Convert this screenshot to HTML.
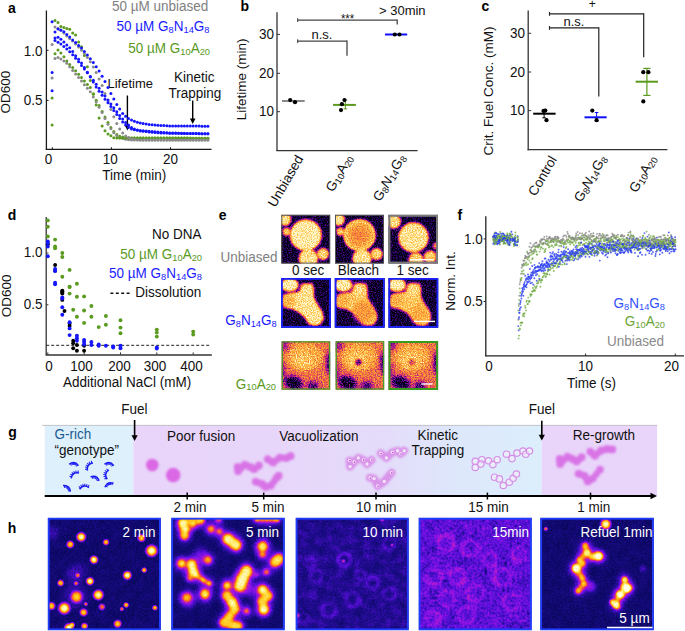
<!DOCTYPE html>
<html><head><meta charset="utf-8"><title>Figure</title>
<style>html,body{margin:0;padding:0;background:#fff;overflow:hidden}svg{display:block}text{font-family:"Liberation Sans",sans-serif}</style>
</head><body>
<svg width="685" height="631" viewBox="0 0 685 631" font-family="Liberation Sans, sans-serif"><defs><filter id="nzP" color-interpolation-filters="sRGB" x="0" y="0" width="1" height="1"><feTurbulence type="fractalNoise" baseFrequency="0.75" numOctaves="2" seed="2"/><feColorMatrix values="0 0 0 0 0.32  0 0 0 0 0.04  0 0 0 0 0.78  0 0 0 3.2 -1.3"/></filter>
<filter id="nzO" color-interpolation-filters="sRGB" x="0" y="0" width="1" height="1"><feTurbulence type="fractalNoise" baseFrequency="0.8" numOctaves="2" seed="9"/><feColorMatrix values="0 0 0 0 1  0 0 0 0 0.62  0 0 0 0 0.22  0 0 0 2.8 -1.2"/></filter>
<filter id="nzH" color-interpolation-filters="sRGB" x="0" y="0" width="1" height="1"><feTurbulence type="fractalNoise" baseFrequency="0.6" numOctaves="2" seed="4"/><feColorMatrix values="0 0 0 0 0.14  0 0 0 0 0.05  0 0 0 0 0.62  0 0 0 2.4 -1.0"/></filter>
<filter id="nzD" color-interpolation-filters="sRGB" x="0" y="0" width="1" height="1"><feTurbulence type="fractalNoise" baseFrequency="0.1" numOctaves="3" seed="5"/><feColorMatrix values="0 0 0 0 0.05  0 0 0 0 0.02  0 0 0 0 0.25  0 0 0 3.0 -1.2"/></filter>
<filter id="nzM" color-interpolation-filters="sRGB" x="0" y="0" width="1" height="1"><feTurbulence type="fractalNoise" baseFrequency="0.09" numOctaves="3" seed="11"/><feColorMatrix values="0 0 0 0 0.34  0 0 0 0 0.08  0 0 0 0 0.88  0 0 0 3.0 -1.2"/></filter>
<filter id="nzM2" color-interpolation-filters="sRGB" x="0" y="0" width="1" height="1"><feTurbulence type="fractalNoise" baseFrequency="0.22" numOctaves="3" seed="21"/><feColorMatrix values="0 0 0 0 0.72  0 0 0 0 0.08  0 0 0 0 0.82  0 0 0 3.4 -1.45"/></filter>
<filter id="bl1" color-interpolation-filters="sRGB" filterUnits="userSpaceOnUse" x="0" y="0" width="685" height="631"><feGaussianBlur stdDeviation="1.1"/></filter>
<filter id="bl2" color-interpolation-filters="sRGB" filterUnits="userSpaceOnUse" x="0" y="0" width="685" height="631"><feGaussianBlur stdDeviation="1.8"/></filter>
<filter id="bl05" color-interpolation-filters="sRGB" filterUnits="userSpaceOnUse" x="0" y="0" width="685" height="631"><feGaussianBlur stdDeviation="0.6"/></filter>
<radialGradient id="halo"><stop offset="0" stop-color="#d83070" stop-opacity="0.9"/><stop offset="0.5" stop-color="#9818c0" stop-opacity="0.6"/><stop offset="1" stop-color="#4010b0" stop-opacity="0"/></radialGradient>
<radialGradient id="coreW"><stop offset="0" stop-color="#fffce8"/><stop offset="0.35" stop-color="#fff080"/><stop offset="0.62" stop-color="#ffa820"/><stop offset="0.85" stop-color="#f06030" stop-opacity="0.7"/><stop offset="1" stop-color="#e03a58" stop-opacity="0"/></radialGradient>
<radialGradient id="coreO"><stop offset="0" stop-color="#ffd848"/><stop offset="0.45" stop-color="#ff9418"/><stop offset="0.8" stop-color="#f05030" stop-opacity="0.7"/><stop offset="1" stop-color="#e03a58" stop-opacity="0"/></radialGradient>
<radialGradient id="coreR"><stop offset="0" stop-color="#ff5a30"/><stop offset="0.6" stop-color="#d02070" stop-opacity="0.7"/><stop offset="1" stop-color="#a018c0" stop-opacity="0"/></radialGradient>
<radialGradient id="fire"><stop offset="0" stop-color="#fffce8"/><stop offset="0.3" stop-color="#fff080"/><stop offset="0.52" stop-color="#ffa820"/><stop offset="0.7" stop-color="#f05040"/><stop offset="0.84" stop-color="#a818b8" stop-opacity="0.6"/><stop offset="1" stop-color="#4010b0" stop-opacity="0"/></radialGradient>
<radialGradient id="fireO"><stop offset="0" stop-color="#ffd848"/><stop offset="0.38" stop-color="#ff9418"/><stop offset="0.66" stop-color="#e03a58"/><stop offset="0.84" stop-color="#9014c0" stop-opacity="0.55"/><stop offset="1" stop-color="#4010b0" stop-opacity="0"/></radialGradient>
<radialGradient id="fireR"><stop offset="0" stop-color="#ff5a20"/><stop offset="0.5" stop-color="#c01870"/><stop offset="1" stop-color="#6010b0" stop-opacity="0"/></radialGradient>
<radialGradient id="fireP"><stop offset="0" stop-color="#7a18d0" stop-opacity="0.55"/><stop offset="1" stop-color="#6010b0" stop-opacity="0"/></radialGradient>
<radialGradient id="eb"><stop offset="0" stop-color="#fff8d8"/><stop offset="0.8" stop-color="#fff0b8"/><stop offset="0.89" stop-color="#fcc474"/><stop offset="0.96" stop-color="#b05040"/><stop offset="1" stop-color="#3a0a40" stop-opacity="0"/></radialGradient>
<radialGradient id="ebl"><stop offset="0" stop-color="#e87a38"/><stop offset="0.45" stop-color="#f09a50"/><stop offset="0.72" stop-color="#ffe4a8"/><stop offset="0.86" stop-color="#f6b45a"/><stop offset="0.95" stop-color="#b04a40"/><stop offset="1" stop-color="#3a0a40" stop-opacity="0"/></radialGradient>
<radialGradient id="pk"><stop offset="0" stop-color="#d860e2"/><stop offset="0.6" stop-color="#dc70e6" stop-opacity="0.9"/><stop offset="1" stop-color="#e4a0f0" stop-opacity="0"/></radialGradient>
<radialGradient id="rg"><stop offset="0" stop-color="#f4e6fa"/><stop offset="0.4" stop-color="#ecd0f4"/><stop offset="0.62" stop-color="#d880e2"/><stop offset="0.82" stop-color="#dc90e6" stop-opacity="0.8"/><stop offset="1" stop-color="#e2a8ee" stop-opacity="0"/></radialGradient>
<linearGradient id="gband" x1="0" x2="1" y1="0" y2="0"><stop offset="0" stop-color="#e9d4fa"/><stop offset="0.35" stop-color="#e8d6fa"/><stop offset="0.62" stop-color="#e4dcfa"/><stop offset="0.8" stop-color="#dde8fb"/><stop offset="1" stop-color="#dceefc"/></linearGradient>
<filter id="blg" color-interpolation-filters="sRGB" filterUnits="userSpaceOnUse" x="0" y="0" width="685" height="631"><feGaussianBlur stdDeviation="1.3"/></filter>
<filter id="lutH1" color-interpolation-filters="sRGB" x="0" y="0" width="1" height="1"><feTurbulence type="fractalNoise" baseFrequency="0.6" numOctaves="2" seed="3" result="t"/><feColorMatrix in="t" values="1 0 0 0 0  1 0 0 0 0  1 0 0 0 0  0 0 0 0 1" result="tg"/><feComposite in="SourceGraphic" in2="tg" operator="arithmetic" k1="0" k2="1" k3="0.14" k4="-0.070" result="s"/><feTurbulence type="fractalNoise" baseFrequency="0.1" numOctaves="3" seed="5" result="t2"/><feColorMatrix in="t2" values="1 0 0 0 0  1 0 0 0 0  1 0 0 0 0  0 0 0 0 1" result="tg2"/><feComposite in="s" in2="tg2" operator="arithmetic" k1="0" k2="1" k3="0.06" k4="-0.030" result="s"/><feComponentTransfer in="s"><feFuncR type="table" tableValues="0.000 0.020 0.120 0.350 0.600 0.820 0.960 1.000 1.000 1.000 1.000"/><feFuncG type="table" tableValues="0.000 0.030 0.045 0.060 0.080 0.140 0.350 0.580 0.780 0.930 1.000"/><feFuncB type="table" tableValues="0.000 0.330 0.550 0.860 0.900 0.600 0.240 0.050 0.100 0.420 0.960"/></feComponentTransfer></filter>
<filter id="lutH2" color-interpolation-filters="sRGB" x="0" y="0" width="1" height="1"><feTurbulence type="fractalNoise" baseFrequency="0.6" numOctaves="2" seed="13" result="t"/><feColorMatrix in="t" values="1 0 0 0 0  1 0 0 0 0  1 0 0 0 0  0 0 0 0 1" result="tg"/><feComposite in="SourceGraphic" in2="tg" operator="arithmetic" k1="0" k2="1" k3="0.14" k4="-0.070" result="s"/><feTurbulence type="fractalNoise" baseFrequency="0.1" numOctaves="3" seed="15" result="t2"/><feColorMatrix in="t2" values="1 0 0 0 0  1 0 0 0 0  1 0 0 0 0  0 0 0 0 1" result="tg2"/><feComposite in="s" in2="tg2" operator="arithmetic" k1="0" k2="1" k3="0.06" k4="-0.030" result="s"/><feComponentTransfer in="s"><feFuncR type="table" tableValues="0.000 0.020 0.120 0.350 0.600 0.820 0.960 1.000 1.000 1.000 1.000"/><feFuncG type="table" tableValues="0.000 0.030 0.045 0.060 0.080 0.140 0.350 0.580 0.780 0.930 1.000"/><feFuncB type="table" tableValues="0.000 0.330 0.550 0.860 0.900 0.600 0.240 0.050 0.100 0.420 0.960"/></feComponentTransfer></filter>
<filter id="lutH3" color-interpolation-filters="sRGB" x="0" y="0" width="1" height="1"><feTurbulence type="fractalNoise" baseFrequency="0.6" numOctaves="2" seed="23" result="t"/><feColorMatrix in="t" values="1 0 0 0 0  1 0 0 0 0  1 0 0 0 0  0 0 0 0 1" result="tg"/><feComposite in="SourceGraphic" in2="tg" operator="arithmetic" k1="0" k2="1" k3="0.12" k4="-0.060" result="s"/><feTurbulence type="fractalNoise" baseFrequency="0.11" numOctaves="3" seed="25" result="t2"/><feColorMatrix in="t2" values="1 0 0 0 0  1 0 0 0 0  1 0 0 0 0  0 0 0 0 1" result="tg2"/><feComposite in="s" in2="tg2" operator="arithmetic" k1="0" k2="1" k3="0.14" k4="-0.070" result="s"/><feComponentTransfer in="s"><feFuncR type="table" tableValues="0.000 0.020 0.120 0.350 0.600 0.820 0.960 1.000 1.000 1.000 1.000"/><feFuncG type="table" tableValues="0.000 0.030 0.045 0.060 0.080 0.140 0.350 0.580 0.780 0.930 1.000"/><feFuncB type="table" tableValues="0.000 0.330 0.550 0.860 0.900 0.600 0.240 0.050 0.100 0.420 0.960"/></feComponentTransfer></filter>
<filter id="lutH4" color-interpolation-filters="sRGB" x="0" y="0" width="1" height="1"><feTurbulence type="fractalNoise" baseFrequency="0.4" numOctaves="2" seed="33" result="t"/><feColorMatrix in="t" values="1 0 0 0 0  1 0 0 0 0  1 0 0 0 0  0 0 0 0 1" result="tg"/><feComposite in="SourceGraphic" in2="tg" operator="arithmetic" k1="0" k2="1" k3="0.26" k4="-0.130" result="s"/><feTurbulence type="fractalNoise" baseFrequency="0.09" numOctaves="3" seed="35" result="t2"/><feColorMatrix in="t2" values="1 0 0 0 0  1 0 0 0 0  1 0 0 0 0  0 0 0 0 1" result="tg2"/><feComposite in="s" in2="tg2" operator="arithmetic" k1="0" k2="1" k3="0.16" k4="-0.080" result="s"/><feComponentTransfer in="s"><feFuncR type="table" tableValues="0.000 0.020 0.120 0.350 0.600 0.820 0.960 1.000 1.000 1.000 1.000"/><feFuncG type="table" tableValues="0.000 0.030 0.045 0.060 0.080 0.140 0.350 0.580 0.780 0.930 1.000"/><feFuncB type="table" tableValues="0.000 0.330 0.550 0.860 0.900 0.600 0.240 0.050 0.100 0.420 0.960"/></feComponentTransfer></filter>
<filter id="lutH5" color-interpolation-filters="sRGB" x="0" y="0" width="1" height="1"><feTurbulence type="fractalNoise" baseFrequency="0.6" numOctaves="2" seed="43" result="t"/><feColorMatrix in="t" values="1 0 0 0 0  1 0 0 0 0  1 0 0 0 0  0 0 0 0 1" result="tg"/><feComposite in="SourceGraphic" in2="tg" operator="arithmetic" k1="0" k2="1" k3="0.14" k4="-0.070" result="s"/><feTurbulence type="fractalNoise" baseFrequency="0.1" numOctaves="3" seed="45" result="t2"/><feColorMatrix in="t2" values="1 0 0 0 0  1 0 0 0 0  1 0 0 0 0  0 0 0 0 1" result="tg2"/><feComposite in="s" in2="tg2" operator="arithmetic" k1="0" k2="1" k3="0.06" k4="-0.030" result="s"/><feComponentTransfer in="s"><feFuncR type="table" tableValues="0.000 0.020 0.120 0.350 0.600 0.820 0.960 1.000 1.000 1.000 1.000"/><feFuncG type="table" tableValues="0.000 0.030 0.045 0.060 0.080 0.140 0.350 0.580 0.780 0.930 1.000"/><feFuncB type="table" tableValues="0.000 0.330 0.550 0.860 0.900 0.600 0.240 0.050 0.100 0.420 0.960"/></feComponentTransfer></filter>
<filter id="lutE1" color-interpolation-filters="sRGB" x="0" y="0" width="1" height="1"><feTurbulence type="fractalNoise" baseFrequency="0.8" numOctaves="2" seed="51" result="t"/><feColorMatrix in="t" values="1 0 0 0 0  1 0 0 0 0  1 0 0 0 0  0 0 0 0 1" result="tg"/><feComposite in="SourceGraphic" in2="tg" operator="arithmetic" k1="0" k2="1" k3="0.6" k4="-0.300" result="s"/><feComponentTransfer in="s"><feFuncR type="table" tableValues="0.000 0.080 0.300 0.550 0.750 0.880 0.950 0.980 1.000 1.000 1.000"/><feFuncG type="table" tableValues="0.000 0.010 0.030 0.060 0.140 0.280 0.450 0.600 0.740 0.850 0.970"/><feFuncB type="table" tableValues="0.000 0.300 0.500 0.600 0.500 0.350 0.250 0.200 0.280 0.450 0.820"/></feComponentTransfer></filter>
<filter id="lutE2" color-interpolation-filters="sRGB" x="0" y="0" width="1" height="1"><feTurbulence type="fractalNoise" baseFrequency="0.8" numOctaves="2" seed="52" result="t"/><feColorMatrix in="t" values="1 0 0 0 0  1 0 0 0 0  1 0 0 0 0  0 0 0 0 1" result="tg"/><feComposite in="SourceGraphic" in2="tg" operator="arithmetic" k1="0" k2="1" k3="0.6" k4="-0.300" result="s"/><feComponentTransfer in="s"><feFuncR type="table" tableValues="0.000 0.080 0.300 0.550 0.750 0.880 0.950 0.980 1.000 1.000 1.000"/><feFuncG type="table" tableValues="0.000 0.010 0.030 0.060 0.140 0.280 0.450 0.600 0.740 0.850 0.970"/><feFuncB type="table" tableValues="0.000 0.300 0.500 0.600 0.500 0.350 0.250 0.200 0.280 0.450 0.820"/></feComponentTransfer></filter>
<filter id="lutE3" color-interpolation-filters="sRGB" x="0" y="0" width="1" height="1"><feTurbulence type="fractalNoise" baseFrequency="0.8" numOctaves="2" seed="53" result="t"/><feColorMatrix in="t" values="1 0 0 0 0  1 0 0 0 0  1 0 0 0 0  0 0 0 0 1" result="tg"/><feComposite in="SourceGraphic" in2="tg" operator="arithmetic" k1="0" k2="1" k3="0.6" k4="-0.300" result="s"/><feComponentTransfer in="s"><feFuncR type="table" tableValues="0.000 0.080 0.300 0.550 0.750 0.880 0.950 0.980 1.000 1.000 1.000"/><feFuncG type="table" tableValues="0.000 0.010 0.030 0.060 0.140 0.280 0.450 0.600 0.740 0.850 0.970"/><feFuncB type="table" tableValues="0.000 0.300 0.500 0.600 0.500 0.350 0.250 0.200 0.280 0.450 0.820"/></feComponentTransfer></filter>
<filter id="lutE4" color-interpolation-filters="sRGB" x="0" y="0" width="1" height="1"><feTurbulence type="fractalNoise" baseFrequency="0.85" numOctaves="2" seed="54" result="t"/><feColorMatrix in="t" values="1 0 0 0 0  1 0 0 0 0  1 0 0 0 0  0 0 0 0 1" result="tg"/><feComposite in="SourceGraphic" in2="tg" operator="arithmetic" k1="0" k2="1" k3="0.8" k4="-0.400" result="s"/><feComponentTransfer in="s"><feFuncR type="table" tableValues="0.000 0.080 0.300 0.550 0.750 0.880 0.950 0.980 1.000 1.000 1.000"/><feFuncG type="table" tableValues="0.000 0.010 0.030 0.060 0.140 0.280 0.450 0.600 0.740 0.850 0.970"/><feFuncB type="table" tableValues="0.000 0.300 0.500 0.600 0.500 0.350 0.250 0.200 0.280 0.450 0.820"/></feComponentTransfer></filter>
<filter id="eb1" color-interpolation-filters="sRGB" filterUnits="userSpaceOnUse" x="0" y="0" width="685" height="631"><feGaussianBlur stdDeviation="1.0"/></filter>
<filter id="eb2" color-interpolation-filters="sRGB" filterUnits="userSpaceOnUse" x="0" y="0" width="685" height="631"><feGaussianBlur stdDeviation="2.2"/></filter>
<radialGradient id="ebleach"><stop offset="0" stop-color="rgb(160,160,160)"/><stop offset="0.6" stop-color="rgb(178,178,178)"/><stop offset="0.88" stop-color="rgb(205,205,205)"/><stop offset="1" stop-color="rgb(220,220,220)"/></radialGradient>
<clipPath id="c1"><rect x="281.3" y="214.8" width="48.9" height="48.8"/></clipPath>
<clipPath id="c2"><rect x="335" y="214.8" width="48.9" height="48.8"/></clipPath>
<clipPath id="c3"><rect x="388.4" y="214.8" width="49.6" height="48.8"/></clipPath>
<clipPath id="c4"><rect x="281" y="278" width="49.9" height="49.8"/></clipPath>
<clipPath id="c5"><rect x="334.7" y="278" width="50" height="49.8"/></clipPath>
<clipPath id="c6"><rect x="388.4" y="278" width="49.9" height="49.8"/></clipPath>
<clipPath id="c7"><rect x="281.6" y="341.2" width="48.6" height="48.5"/></clipPath>
<clipPath id="c8"><rect x="335.6" y="341.2" width="48.6" height="48.5"/></clipPath>
<clipPath id="c9"><rect x="388.5" y="341" width="49.6" height="49"/></clipPath>
<radialGradient id="iW"><stop offset="0" stop-color="#fff" stop-opacity="1.0"/><stop offset="0.3" stop-color="#fff" stop-opacity="0.900"/><stop offset="0.5" stop-color="#fff" stop-opacity="0.680"/><stop offset="0.7" stop-color="#fff" stop-opacity="0.330"/><stop offset="0.85" stop-color="#fff" stop-opacity="0.120"/><stop offset="1" stop-color="#fff" stop-opacity="0"/></radialGradient>
<radialGradient id="iO"><stop offset="0" stop-color="#fff" stop-opacity="0.8"/><stop offset="0.3" stop-color="#fff" stop-opacity="0.720"/><stop offset="0.5" stop-color="#fff" stop-opacity="0.544"/><stop offset="0.7" stop-color="#fff" stop-opacity="0.264"/><stop offset="0.85" stop-color="#fff" stop-opacity="0.096"/><stop offset="1" stop-color="#fff" stop-opacity="0"/></radialGradient>
<radialGradient id="iR"><stop offset="0" stop-color="#fff" stop-opacity="0.58"/><stop offset="0.3" stop-color="#fff" stop-opacity="0.522"/><stop offset="0.5" stop-color="#fff" stop-opacity="0.394"/><stop offset="0.7" stop-color="#fff" stop-opacity="0.191"/><stop offset="0.85" stop-color="#fff" stop-opacity="0.070"/><stop offset="1" stop-color="#fff" stop-opacity="0"/></radialGradient>
<radialGradient id="iP"><stop offset="0" stop-color="#fff" stop-opacity="0.12"/><stop offset="0.3" stop-color="#fff" stop-opacity="0.108"/><stop offset="0.5" stop-color="#fff" stop-opacity="0.082"/><stop offset="0.7" stop-color="#fff" stop-opacity="0.040"/><stop offset="0.85" stop-color="#fff" stop-opacity="0.014"/><stop offset="1" stop-color="#fff" stop-opacity="0"/></radialGradient>
<radialGradient id="iM"><stop offset="0" stop-color="#fff" stop-opacity="0.36"/><stop offset="0.3" stop-color="#fff" stop-opacity="0.324"/><stop offset="0.5" stop-color="#fff" stop-opacity="0.245"/><stop offset="0.7" stop-color="#fff" stop-opacity="0.119"/><stop offset="0.85" stop-color="#fff" stop-opacity="0.043"/><stop offset="1" stop-color="#fff" stop-opacity="0"/></radialGradient>
<filter id="ib" color-interpolation-filters="sRGB" filterUnits="userSpaceOnUse" x="0" y="0" width="685" height="631"><feGaussianBlur stdDeviation="1.6"/></filter>
<filter id="ib2" color-interpolation-filters="sRGB" filterUnits="userSpaceOnUse" x="0" y="0" width="685" height="631"><feGaussianBlur stdDeviation="3"/></filter>
<clipPath id="c10"><rect x="47.8" y="517.8" width="113" height="112.4"/></clipPath>
<clipPath id="c11"><rect x="171.3" y="517.8" width="113.4" height="112.4"/></clipPath>
<clipPath id="c12"><rect x="295.7" y="517.8" width="113" height="112.4"/></clipPath>
<clipPath id="c13"><rect x="418.7" y="517.8" width="113" height="112.4"/></clipPath>
<clipPath id="c14"><rect x="540.3" y="517.8" width="113.5" height="112.4"/></clipPath></defs>
<text x="0" y="0" font-size="14" fill="#000" text-anchor="start" font-weight="bold" transform="translate(8,13.3) scale(1,1.04)" >a</text>
<text x="0" y="0" font-size="14" fill="#000" text-anchor="start" font-weight="bold" transform="translate(240.5,10.8) scale(1,1.04)" >b</text>
<text x="0" y="0" font-size="14" fill="#000" text-anchor="start" font-weight="bold" transform="translate(481.5,10.8) scale(1,1.04)" >c</text>
<text x="0" y="0" font-size="14" fill="#000" text-anchor="start" font-weight="bold" transform="translate(7.7,219.7) scale(1,1.04)" >d</text>
<text x="0" y="0" font-size="14" fill="#000" text-anchor="start" font-weight="bold" transform="translate(218.7,219.8) scale(1,1.04)" >e</text>
<text x="0" y="0" font-size="14" fill="#000" text-anchor="start" font-weight="bold" transform="translate(457.4,219.6) scale(1,1.04)" >f</text>
<text x="0" y="0" font-size="14" fill="#000" text-anchor="start" font-weight="bold" transform="translate(8.3,436.5) scale(1,1.04)" >g</text>
<text x="0" y="0" font-size="14" fill="#000" text-anchor="start" font-weight="bold" transform="translate(7.7,533) scale(1,1.04)" >h</text>
<line x1="46.4" y1="10.5" x2="46.4" y2="150" stroke="#1a1a1a" stroke-width="1.3" />
<line x1="45.8" y1="149.4" x2="211.5" y2="149.4" stroke="#1a1a1a" stroke-width="1.3" />
<line x1="46.4" y1="50.3" x2="48.6" y2="50.3" stroke="#1a1a1a" stroke-width="1" />
<line x1="46.4" y1="100.4" x2="48.6" y2="100.4" stroke="#1a1a1a" stroke-width="1" />
<line x1="52.3" y1="149.4" x2="52.3" y2="147.2" stroke="#1a1a1a" stroke-width="1" />
<line x1="111.4" y1="149.4" x2="111.4" y2="147.2" stroke="#1a1a1a" stroke-width="1" />
<line x1="170.5" y1="149.4" x2="170.5" y2="147.2" stroke="#1a1a1a" stroke-width="1" />
<text x="0" y="0" font-size="13.5" fill="#111" text-anchor="end" font-weight="normal" transform="translate(42.6,56.2) scale(1,1.04)" >1.0</text>
<text x="0" y="0" font-size="13.5" fill="#111" text-anchor="end" font-weight="normal" transform="translate(42.6,105.4) scale(1,1.04)" >0.5</text>
<text x="0" y="0" font-size="13.5" fill="#111" text-anchor="middle" font-weight="normal" transform="translate(48.6,164.2) scale(1,1.04)" >0</text>
<text x="0" y="0" font-size="13.5" fill="#111" text-anchor="middle" font-weight="normal" transform="translate(110.3,164.2) scale(1,1.04)" >10</text>
<text x="0" y="0" font-size="13.5" fill="#111" text-anchor="middle" font-weight="normal" transform="translate(170.4,164.2) scale(1,1.04)" >20</text>
<text x="0" y="0" font-size="13.5" fill="#111" text-anchor="middle" font-weight="normal" transform="translate(134.3,179.6) scale(1,1.04)" >Time (min)</text>
<text x="0" y="0" font-size="13.5" fill="#111" text-anchor="middle" font-weight="normal" transform="translate(10.4,92.1) rotate(-90)">OD600</text>
<text x="0" y="0" font-size="13.5" fill="#808080" text-anchor="end" font-weight="normal" transform="translate(208.2,10.6) scale(1,1.04)" >50 µM unbiased</text>
<text x="0" y="0" font-size="13.5" fill="#1a1aff" text-anchor="end" font-weight="normal" transform="translate(209.5,30.7) scale(1,1.04)" >50 µM G<tspan font-size="9.3" dy="1.8">8</tspan><tspan dy="-1.8">N</tspan><tspan font-size="9.3" dy="1.8">14</tspan><tspan dy="-1.8">G</tspan><tspan font-size="9.3" dy="1.8">8</tspan></text>
<text x="0" y="0" font-size="13.5" fill="#5a9a1e" text-anchor="end" font-weight="normal" transform="translate(210,53.4) scale(1,1.04)" >50 µM G<tspan font-size="9.3" dy="1.8">10</tspan><tspan dy="-1.8">A</tspan><tspan font-size="9.3" dy="1.8">20</tspan></text>
<text x="0" y="0" font-size="13" fill="#111" text-anchor="middle" font-weight="normal" transform="translate(130.2,87.7) scale(1,1.04)" >Lifetime</text>
<text x="0" y="0" font-size="13.5" fill="#111" text-anchor="middle" font-weight="normal" transform="translate(194.3,81.7) scale(1,1.04)" >Kinetic</text>
<text x="0" y="0" font-size="13.5" fill="#111" text-anchor="middle" font-weight="normal" transform="translate(194.9,97.5) scale(1,1.04)" >Trapping</text>
<line x1="127.4" y1="95.5" x2="127.4" y2="126.0" stroke="#000" stroke-width="1.4" />
<path d="M124.60000000000001,125.0 L130.20000000000002,125.0 L127.4,130.5 Z" fill="#000"/>
<line x1="192.7" y1="100.5" x2="192.7" y2="119.5" stroke="#000" stroke-width="1.4" />
<path d="M189.89999999999998,118.5 L195.5,118.5 L192.7,124 Z" fill="#000"/>
<circle cx="52.1" cy="125.1" r="1.5" fill="#5a9a1e"/>
<circle cx="55.0" cy="53.7" r="1.5" fill="#5a9a1e"/>
<circle cx="58.0" cy="50.1" r="1.5" fill="#5a9a1e"/>
<circle cx="60.9" cy="53.0" r="1.5" fill="#5a9a1e"/>
<circle cx="63.9" cy="56.7" r="1.5" fill="#5a9a1e"/>
<circle cx="66.8" cy="60.9" r="1.5" fill="#5a9a1e"/>
<circle cx="69.7" cy="64.4" r="1.5" fill="#5a9a1e"/>
<circle cx="72.7" cy="67.5" r="1.5" fill="#5a9a1e"/>
<circle cx="75.6" cy="70.7" r="1.5" fill="#5a9a1e"/>
<circle cx="78.6" cy="74.2" r="1.5" fill="#5a9a1e"/>
<circle cx="81.5" cy="77.6" r="1.5" fill="#5a9a1e"/>
<circle cx="84.4" cy="81.0" r="1.5" fill="#5a9a1e"/>
<circle cx="87.4" cy="84.4" r="1.5" fill="#5a9a1e"/>
<circle cx="90.3" cy="87.6" r="1.5" fill="#5a9a1e"/>
<circle cx="93.3" cy="93.7" r="1.5" fill="#5a9a1e"/>
<circle cx="96.2" cy="100.3" r="1.5" fill="#5a9a1e"/>
<circle cx="99.1" cy="105.6" r="1.5" fill="#5a9a1e"/>
<circle cx="102.1" cy="111.4" r="1.5" fill="#5a9a1e"/>
<circle cx="105.0" cy="117.1" r="1.5" fill="#5a9a1e"/>
<circle cx="108.0" cy="122.6" r="1.5" fill="#5a9a1e"/>
<circle cx="110.9" cy="127.4" r="1.5" fill="#5a9a1e"/>
<circle cx="113.8" cy="131.4" r="1.5" fill="#5a9a1e"/>
<circle cx="116.8" cy="134.4" r="1.5" fill="#5a9a1e"/>
<circle cx="119.7" cy="136.2" r="1.5" fill="#5a9a1e"/>
<circle cx="122.7" cy="137.1" r="1.5" fill="#5a9a1e"/>
<circle cx="125.6" cy="137.9" r="1.5" fill="#5a9a1e"/>
<circle cx="128.5" cy="138.0" r="1.5" fill="#5a9a1e"/>
<circle cx="131.5" cy="138.0" r="1.5" fill="#5a9a1e"/>
<circle cx="134.4" cy="138.0" r="1.5" fill="#5a9a1e"/>
<circle cx="137.4" cy="138.0" r="1.5" fill="#5a9a1e"/>
<circle cx="140.3" cy="138.0" r="1.5" fill="#5a9a1e"/>
<circle cx="143.2" cy="138.0" r="1.5" fill="#5a9a1e"/>
<circle cx="146.2" cy="138.0" r="1.5" fill="#5a9a1e"/>
<circle cx="149.1" cy="138.1" r="1.5" fill="#5a9a1e"/>
<circle cx="152.1" cy="138.1" r="1.5" fill="#5a9a1e"/>
<circle cx="155.0" cy="138.1" r="1.5" fill="#5a9a1e"/>
<circle cx="157.9" cy="138.1" r="1.5" fill="#5a9a1e"/>
<circle cx="160.9" cy="138.1" r="1.5" fill="#5a9a1e"/>
<circle cx="163.8" cy="138.1" r="1.5" fill="#5a9a1e"/>
<circle cx="166.8" cy="138.1" r="1.5" fill="#5a9a1e"/>
<circle cx="169.7" cy="138.1" r="1.5" fill="#5a9a1e"/>
<circle cx="172.6" cy="138.1" r="1.5" fill="#5a9a1e"/>
<circle cx="175.6" cy="138.1" r="1.5" fill="#5a9a1e"/>
<circle cx="178.5" cy="138.1" r="1.5" fill="#5a9a1e"/>
<circle cx="181.5" cy="138.1" r="1.5" fill="#5a9a1e"/>
<circle cx="184.4" cy="138.1" r="1.5" fill="#5a9a1e"/>
<circle cx="187.3" cy="138.1" r="1.5" fill="#5a9a1e"/>
<circle cx="190.3" cy="138.1" r="1.5" fill="#5a9a1e"/>
<circle cx="193.2" cy="138.2" r="1.5" fill="#5a9a1e"/>
<circle cx="196.2" cy="138.2" r="1.5" fill="#5a9a1e"/>
<circle cx="199.1" cy="138.2" r="1.5" fill="#5a9a1e"/>
<circle cx="202.0" cy="138.2" r="1.5" fill="#5a9a1e"/>
<circle cx="205.0" cy="138.2" r="1.5" fill="#5a9a1e"/>
<circle cx="207.9" cy="138.2" r="1.5" fill="#5a9a1e"/>
<circle cx="52.1" cy="78.0" r="1.5" fill="#8a8a8a"/>
<circle cx="55.0" cy="58.6" r="1.5" fill="#8a8a8a"/>
<circle cx="58.0" cy="57.4" r="1.5" fill="#8a8a8a"/>
<circle cx="60.9" cy="59.0" r="1.5" fill="#8a8a8a"/>
<circle cx="63.9" cy="61.0" r="1.5" fill="#8a8a8a"/>
<circle cx="66.8" cy="63.2" r="1.5" fill="#8a8a8a"/>
<circle cx="69.7" cy="66.8" r="1.5" fill="#8a8a8a"/>
<circle cx="72.7" cy="70.4" r="1.5" fill="#8a8a8a"/>
<circle cx="75.6" cy="73.9" r="1.5" fill="#8a8a8a"/>
<circle cx="78.6" cy="77.5" r="1.5" fill="#8a8a8a"/>
<circle cx="81.5" cy="81.1" r="1.5" fill="#8a8a8a"/>
<circle cx="84.4" cy="84.7" r="1.5" fill="#8a8a8a"/>
<circle cx="87.4" cy="88.3" r="1.5" fill="#8a8a8a"/>
<circle cx="90.3" cy="91.8" r="1.5" fill="#8a8a8a"/>
<circle cx="93.3" cy="96.9" r="1.5" fill="#8a8a8a"/>
<circle cx="96.2" cy="102.0" r="1.5" fill="#8a8a8a"/>
<circle cx="99.1" cy="107.3" r="1.5" fill="#8a8a8a"/>
<circle cx="102.1" cy="112.6" r="1.5" fill="#8a8a8a"/>
<circle cx="105.0" cy="118.4" r="1.5" fill="#8a8a8a"/>
<circle cx="108.0" cy="124.2" r="1.5" fill="#8a8a8a"/>
<circle cx="110.9" cy="128.8" r="1.5" fill="#8a8a8a"/>
<circle cx="113.8" cy="132.8" r="1.5" fill="#8a8a8a"/>
<circle cx="116.8" cy="135.6" r="1.5" fill="#8a8a8a"/>
<circle cx="119.7" cy="137.8" r="1.5" fill="#8a8a8a"/>
<circle cx="122.7" cy="138.6" r="1.5" fill="#8a8a8a"/>
<circle cx="125.6" cy="139.2" r="1.5" fill="#8a8a8a"/>
<circle cx="128.5" cy="139.7" r="1.5" fill="#8a8a8a"/>
<circle cx="131.5" cy="140.0" r="1.5" fill="#8a8a8a"/>
<circle cx="134.4" cy="140.0" r="1.5" fill="#8a8a8a"/>
<circle cx="137.4" cy="140.0" r="1.5" fill="#8a8a8a"/>
<circle cx="140.3" cy="140.0" r="1.5" fill="#8a8a8a"/>
<circle cx="143.2" cy="140.0" r="1.5" fill="#8a8a8a"/>
<circle cx="146.2" cy="140.0" r="1.5" fill="#8a8a8a"/>
<circle cx="149.1" cy="140.0" r="1.5" fill="#8a8a8a"/>
<circle cx="152.1" cy="140.0" r="1.5" fill="#8a8a8a"/>
<circle cx="155.0" cy="140.0" r="1.5" fill="#8a8a8a"/>
<circle cx="157.9" cy="140.0" r="1.5" fill="#8a8a8a"/>
<circle cx="160.9" cy="140.0" r="1.5" fill="#8a8a8a"/>
<circle cx="163.8" cy="140.0" r="1.5" fill="#8a8a8a"/>
<circle cx="166.8" cy="140.0" r="1.5" fill="#8a8a8a"/>
<circle cx="169.7" cy="140.0" r="1.5" fill="#8a8a8a"/>
<circle cx="172.6" cy="140.0" r="1.5" fill="#8a8a8a"/>
<circle cx="175.6" cy="140.0" r="1.5" fill="#8a8a8a"/>
<circle cx="178.5" cy="140.0" r="1.5" fill="#8a8a8a"/>
<circle cx="181.5" cy="140.0" r="1.5" fill="#8a8a8a"/>
<circle cx="184.4" cy="140.0" r="1.5" fill="#8a8a8a"/>
<circle cx="187.3" cy="140.0" r="1.5" fill="#8a8a8a"/>
<circle cx="190.3" cy="140.0" r="1.5" fill="#8a8a8a"/>
<circle cx="193.2" cy="140.0" r="1.5" fill="#8a8a8a"/>
<circle cx="196.2" cy="140.0" r="1.5" fill="#8a8a8a"/>
<circle cx="199.1" cy="140.0" r="1.5" fill="#8a8a8a"/>
<circle cx="202.0" cy="140.0" r="1.5" fill="#8a8a8a"/>
<circle cx="205.0" cy="140.0" r="1.5" fill="#8a8a8a"/>
<circle cx="207.9" cy="140.0" r="1.5" fill="#8a8a8a"/>
<circle cx="52.1" cy="97.9" r="1.5" fill="#5a9a1e"/>
<circle cx="55.0" cy="20.6" r="1.5" fill="#5a9a1e"/>
<circle cx="58.0" cy="22.6" r="1.5" fill="#5a9a1e"/>
<circle cx="60.9" cy="26.5" r="1.5" fill="#5a9a1e"/>
<circle cx="63.9" cy="27.5" r="1.5" fill="#5a9a1e"/>
<circle cx="66.8" cy="28.5" r="1.5" fill="#5a9a1e"/>
<circle cx="69.7" cy="29.3" r="1.5" fill="#5a9a1e"/>
<circle cx="72.7" cy="32.9" r="1.5" fill="#5a9a1e"/>
<circle cx="75.6" cy="35.1" r="1.5" fill="#5a9a1e"/>
<circle cx="78.6" cy="42.0" r="1.5" fill="#5a9a1e"/>
<circle cx="81.5" cy="46.7" r="1.5" fill="#5a9a1e"/>
<circle cx="84.4" cy="55.4" r="1.5" fill="#5a9a1e"/>
<circle cx="87.4" cy="66.7" r="1.5" fill="#5a9a1e"/>
<circle cx="90.3" cy="80.4" r="1.5" fill="#5a9a1e"/>
<circle cx="93.3" cy="94.3" r="1.5" fill="#5a9a1e"/>
<circle cx="96.2" cy="104.9" r="1.5" fill="#5a9a1e"/>
<circle cx="99.1" cy="118.1" r="1.5" fill="#5a9a1e"/>
<circle cx="102.1" cy="125.9" r="1.5" fill="#5a9a1e"/>
<circle cx="105.0" cy="130.7" r="1.5" fill="#5a9a1e"/>
<circle cx="108.0" cy="133.9" r="1.5" fill="#5a9a1e"/>
<circle cx="110.9" cy="135.8" r="1.5" fill="#5a9a1e"/>
<circle cx="113.8" cy="137.7" r="1.5" fill="#5a9a1e"/>
<circle cx="116.8" cy="138.0" r="1.5" fill="#5a9a1e"/>
<circle cx="119.7" cy="138.0" r="1.5" fill="#5a9a1e"/>
<circle cx="122.7" cy="138.0" r="1.5" fill="#5a9a1e"/>
<circle cx="125.6" cy="138.0" r="1.5" fill="#5a9a1e"/>
<circle cx="128.5" cy="138.0" r="1.5" fill="#5a9a1e"/>
<circle cx="131.5" cy="138.0" r="1.5" fill="#5a9a1e"/>
<circle cx="134.4" cy="138.0" r="1.5" fill="#5a9a1e"/>
<circle cx="137.4" cy="138.0" r="1.5" fill="#5a9a1e"/>
<circle cx="140.3" cy="138.1" r="1.5" fill="#5a9a1e"/>
<circle cx="143.2" cy="138.1" r="1.5" fill="#5a9a1e"/>
<circle cx="146.2" cy="138.1" r="1.5" fill="#5a9a1e"/>
<circle cx="149.1" cy="138.1" r="1.5" fill="#5a9a1e"/>
<circle cx="152.1" cy="138.1" r="1.5" fill="#5a9a1e"/>
<circle cx="155.0" cy="138.1" r="1.5" fill="#5a9a1e"/>
<circle cx="157.9" cy="138.1" r="1.5" fill="#5a9a1e"/>
<circle cx="160.9" cy="138.1" r="1.5" fill="#5a9a1e"/>
<circle cx="163.8" cy="138.1" r="1.5" fill="#5a9a1e"/>
<circle cx="166.8" cy="138.1" r="1.5" fill="#5a9a1e"/>
<circle cx="169.7" cy="138.1" r="1.5" fill="#5a9a1e"/>
<circle cx="172.6" cy="138.1" r="1.5" fill="#5a9a1e"/>
<circle cx="175.6" cy="138.1" r="1.5" fill="#5a9a1e"/>
<circle cx="178.5" cy="138.1" r="1.5" fill="#5a9a1e"/>
<circle cx="181.5" cy="138.1" r="1.5" fill="#5a9a1e"/>
<circle cx="184.4" cy="138.1" r="1.5" fill="#5a9a1e"/>
<circle cx="187.3" cy="138.1" r="1.5" fill="#5a9a1e"/>
<circle cx="190.3" cy="138.2" r="1.5" fill="#5a9a1e"/>
<circle cx="193.2" cy="138.2" r="1.5" fill="#5a9a1e"/>
<circle cx="196.2" cy="138.2" r="1.5" fill="#5a9a1e"/>
<circle cx="199.1" cy="138.2" r="1.5" fill="#5a9a1e"/>
<circle cx="202.0" cy="138.2" r="1.5" fill="#5a9a1e"/>
<circle cx="205.0" cy="138.2" r="1.5" fill="#5a9a1e"/>
<circle cx="207.9" cy="138.2" r="1.5" fill="#5a9a1e"/>
<circle cx="52.1" cy="44.4" r="1.5" fill="#8a8a8a"/>
<circle cx="55.0" cy="26.9" r="1.5" fill="#8a8a8a"/>
<circle cx="58.0" cy="28.5" r="1.5" fill="#8a8a8a"/>
<circle cx="60.9" cy="30.0" r="1.5" fill="#8a8a8a"/>
<circle cx="63.9" cy="33.0" r="1.5" fill="#8a8a8a"/>
<circle cx="66.8" cy="35.9" r="1.5" fill="#8a8a8a"/>
<circle cx="69.7" cy="38.5" r="1.5" fill="#8a8a8a"/>
<circle cx="72.7" cy="41.0" r="1.5" fill="#8a8a8a"/>
<circle cx="75.6" cy="43.9" r="1.5" fill="#8a8a8a"/>
<circle cx="78.6" cy="46.9" r="1.5" fill="#8a8a8a"/>
<circle cx="81.5" cy="50.2" r="1.5" fill="#8a8a8a"/>
<circle cx="84.4" cy="53.5" r="1.5" fill="#8a8a8a"/>
<circle cx="87.4" cy="57.6" r="1.5" fill="#8a8a8a"/>
<circle cx="90.3" cy="61.7" r="1.5" fill="#8a8a8a"/>
<circle cx="93.3" cy="67.1" r="1.5" fill="#8a8a8a"/>
<circle cx="96.2" cy="72.6" r="1.5" fill="#8a8a8a"/>
<circle cx="99.1" cy="79.1" r="1.5" fill="#8a8a8a"/>
<circle cx="102.1" cy="85.6" r="1.5" fill="#8a8a8a"/>
<circle cx="105.0" cy="93.6" r="1.5" fill="#8a8a8a"/>
<circle cx="108.0" cy="101.8" r="1.5" fill="#8a8a8a"/>
<circle cx="110.9" cy="109.4" r="1.5" fill="#8a8a8a"/>
<circle cx="113.8" cy="116.8" r="1.5" fill="#8a8a8a"/>
<circle cx="116.8" cy="123.4" r="1.5" fill="#8a8a8a"/>
<circle cx="119.7" cy="128.9" r="1.5" fill="#8a8a8a"/>
<circle cx="122.7" cy="133.1" r="1.5" fill="#8a8a8a"/>
<circle cx="125.6" cy="136.1" r="1.5" fill="#8a8a8a"/>
<circle cx="128.5" cy="137.6" r="1.5" fill="#8a8a8a"/>
<circle cx="131.5" cy="138.8" r="1.5" fill="#8a8a8a"/>
<circle cx="134.4" cy="139.3" r="1.5" fill="#8a8a8a"/>
<circle cx="137.4" cy="139.7" r="1.5" fill="#8a8a8a"/>
<circle cx="140.3" cy="140.0" r="1.5" fill="#8a8a8a"/>
<circle cx="143.2" cy="140.0" r="1.5" fill="#8a8a8a"/>
<circle cx="146.2" cy="140.0" r="1.5" fill="#8a8a8a"/>
<circle cx="149.1" cy="140.0" r="1.5" fill="#8a8a8a"/>
<circle cx="152.1" cy="140.0" r="1.5" fill="#8a8a8a"/>
<circle cx="155.0" cy="140.0" r="1.5" fill="#8a8a8a"/>
<circle cx="157.9" cy="140.0" r="1.5" fill="#8a8a8a"/>
<circle cx="160.9" cy="140.0" r="1.5" fill="#8a8a8a"/>
<circle cx="163.8" cy="140.0" r="1.5" fill="#8a8a8a"/>
<circle cx="166.8" cy="140.0" r="1.5" fill="#8a8a8a"/>
<circle cx="169.7" cy="140.0" r="1.5" fill="#8a8a8a"/>
<circle cx="172.6" cy="140.0" r="1.5" fill="#8a8a8a"/>
<circle cx="175.6" cy="140.0" r="1.5" fill="#8a8a8a"/>
<circle cx="178.5" cy="140.0" r="1.5" fill="#8a8a8a"/>
<circle cx="181.5" cy="140.0" r="1.5" fill="#8a8a8a"/>
<circle cx="184.4" cy="140.0" r="1.5" fill="#8a8a8a"/>
<circle cx="187.3" cy="140.0" r="1.5" fill="#8a8a8a"/>
<circle cx="190.3" cy="140.0" r="1.5" fill="#8a8a8a"/>
<circle cx="193.2" cy="140.0" r="1.5" fill="#8a8a8a"/>
<circle cx="196.2" cy="140.0" r="1.5" fill="#8a8a8a"/>
<circle cx="199.1" cy="140.0" r="1.5" fill="#8a8a8a"/>
<circle cx="202.0" cy="140.0" r="1.5" fill="#8a8a8a"/>
<circle cx="205.0" cy="140.0" r="1.5" fill="#8a8a8a"/>
<circle cx="207.9" cy="140.0" r="1.5" fill="#8a8a8a"/>
<circle cx="52.1" cy="90.7" r="1.5" fill="#1515ff"/>
<circle cx="55.0" cy="40.4" r="1.5" fill="#1515ff"/>
<circle cx="58.0" cy="42.2" r="1.5" fill="#1515ff"/>
<circle cx="60.9" cy="43.9" r="1.5" fill="#1515ff"/>
<circle cx="63.9" cy="46.4" r="1.5" fill="#1515ff"/>
<circle cx="66.8" cy="48.9" r="1.5" fill="#1515ff"/>
<circle cx="69.7" cy="51.8" r="1.5" fill="#1515ff"/>
<circle cx="72.7" cy="54.8" r="1.5" fill="#1515ff"/>
<circle cx="75.6" cy="58.2" r="1.5" fill="#1515ff"/>
<circle cx="78.6" cy="61.7" r="1.5" fill="#1515ff"/>
<circle cx="81.5" cy="65.4" r="1.5" fill="#1515ff"/>
<circle cx="84.4" cy="69.0" r="1.5" fill="#1515ff"/>
<circle cx="87.4" cy="72.7" r="1.5" fill="#1515ff"/>
<circle cx="90.3" cy="76.4" r="1.5" fill="#1515ff"/>
<circle cx="93.3" cy="80.3" r="1.5" fill="#1515ff"/>
<circle cx="96.2" cy="84.3" r="1.5" fill="#1515ff"/>
<circle cx="99.1" cy="88.2" r="1.5" fill="#1515ff"/>
<circle cx="102.1" cy="92.1" r="1.5" fill="#1515ff"/>
<circle cx="105.0" cy="96.0" r="1.5" fill="#1515ff"/>
<circle cx="108.0" cy="99.9" r="1.5" fill="#1515ff"/>
<circle cx="110.9" cy="103.9" r="1.5" fill="#1515ff"/>
<circle cx="113.8" cy="107.8" r="1.5" fill="#1515ff"/>
<circle cx="116.8" cy="111.7" r="1.5" fill="#1515ff"/>
<circle cx="119.7" cy="115.6" r="1.5" fill="#1515ff"/>
<circle cx="122.7" cy="119.1" r="1.5" fill="#1515ff"/>
<circle cx="125.6" cy="122.5" r="1.5" fill="#1515ff"/>
<circle cx="128.5" cy="125.1" r="1.5" fill="#1515ff"/>
<circle cx="131.5" cy="127.6" r="1.5" fill="#1515ff"/>
<circle cx="134.4" cy="128.9" r="1.5" fill="#1515ff"/>
<circle cx="137.4" cy="130.0" r="1.5" fill="#1515ff"/>
<circle cx="140.3" cy="131.0" r="1.5" fill="#1515ff"/>
<circle cx="143.2" cy="131.3" r="1.5" fill="#1515ff"/>
<circle cx="146.2" cy="131.6" r="1.5" fill="#1515ff"/>
<circle cx="149.1" cy="131.9" r="1.5" fill="#1515ff"/>
<circle cx="152.1" cy="132.2" r="1.5" fill="#1515ff"/>
<circle cx="155.0" cy="132.5" r="1.5" fill="#1515ff"/>
<circle cx="157.9" cy="132.8" r="1.5" fill="#1515ff"/>
<circle cx="160.9" cy="133.0" r="1.5" fill="#1515ff"/>
<circle cx="163.8" cy="133.1" r="1.5" fill="#1515ff"/>
<circle cx="166.8" cy="133.1" r="1.5" fill="#1515ff"/>
<circle cx="169.7" cy="133.2" r="1.5" fill="#1515ff"/>
<circle cx="172.6" cy="133.2" r="1.5" fill="#1515ff"/>
<circle cx="175.6" cy="133.3" r="1.5" fill="#1515ff"/>
<circle cx="178.5" cy="133.3" r="1.5" fill="#1515ff"/>
<circle cx="181.5" cy="133.4" r="1.5" fill="#1515ff"/>
<circle cx="184.4" cy="133.4" r="1.5" fill="#1515ff"/>
<circle cx="187.3" cy="133.5" r="1.5" fill="#1515ff"/>
<circle cx="190.3" cy="133.5" r="1.5" fill="#1515ff"/>
<circle cx="193.2" cy="133.6" r="1.5" fill="#1515ff"/>
<circle cx="196.2" cy="133.6" r="1.5" fill="#1515ff"/>
<circle cx="199.1" cy="133.7" r="1.5" fill="#1515ff"/>
<circle cx="202.0" cy="133.7" r="1.5" fill="#1515ff"/>
<circle cx="205.0" cy="133.8" r="1.5" fill="#1515ff"/>
<circle cx="207.9" cy="133.8" r="1.5" fill="#1515ff"/>
<circle cx="52.1" cy="72.6" r="1.5" fill="#1515ff"/>
<circle cx="55.0" cy="38.0" r="1.5" fill="#1515ff"/>
<circle cx="58.0" cy="37.3" r="1.5" fill="#1515ff"/>
<circle cx="60.9" cy="39.2" r="1.5" fill="#1515ff"/>
<circle cx="63.9" cy="42.1" r="1.5" fill="#1515ff"/>
<circle cx="66.8" cy="45.0" r="1.5" fill="#1515ff"/>
<circle cx="69.7" cy="47.8" r="1.5" fill="#1515ff"/>
<circle cx="72.7" cy="51.6" r="1.5" fill="#1515ff"/>
<circle cx="75.6" cy="55.7" r="1.5" fill="#1515ff"/>
<circle cx="78.6" cy="59.2" r="1.5" fill="#1515ff"/>
<circle cx="81.5" cy="63.0" r="1.5" fill="#1515ff"/>
<circle cx="84.4" cy="67.6" r="1.5" fill="#1515ff"/>
<circle cx="87.4" cy="72.3" r="1.5" fill="#1515ff"/>
<circle cx="90.3" cy="76.9" r="1.5" fill="#1515ff"/>
<circle cx="93.3" cy="82.0" r="1.5" fill="#1515ff"/>
<circle cx="96.2" cy="87.1" r="1.5" fill="#1515ff"/>
<circle cx="99.1" cy="91.3" r="1.5" fill="#1515ff"/>
<circle cx="102.1" cy="95.3" r="1.5" fill="#1515ff"/>
<circle cx="105.0" cy="99.2" r="1.5" fill="#1515ff"/>
<circle cx="108.0" cy="102.8" r="1.5" fill="#1515ff"/>
<circle cx="110.9" cy="106.4" r="1.5" fill="#1515ff"/>
<circle cx="113.8" cy="110.5" r="1.5" fill="#1515ff"/>
<circle cx="116.8" cy="114.5" r="1.5" fill="#1515ff"/>
<circle cx="119.7" cy="118.5" r="1.5" fill="#1515ff"/>
<circle cx="122.7" cy="121.9" r="1.5" fill="#1515ff"/>
<circle cx="125.6" cy="125.1" r="1.5" fill="#1515ff"/>
<circle cx="128.5" cy="127.4" r="1.5" fill="#1515ff"/>
<circle cx="131.5" cy="129.0" r="1.5" fill="#1515ff"/>
<circle cx="134.4" cy="129.7" r="1.5" fill="#1515ff"/>
<circle cx="137.4" cy="130.2" r="1.5" fill="#1515ff"/>
<circle cx="140.3" cy="130.5" r="1.5" fill="#1515ff"/>
<circle cx="143.2" cy="130.8" r="1.5" fill="#1515ff"/>
<circle cx="146.2" cy="131.1" r="1.5" fill="#1515ff"/>
<circle cx="149.1" cy="131.3" r="1.5" fill="#1515ff"/>
<circle cx="152.1" cy="131.6" r="1.5" fill="#1515ff"/>
<circle cx="155.0" cy="131.8" r="1.5" fill="#1515ff"/>
<circle cx="157.9" cy="132.0" r="1.5" fill="#1515ff"/>
<circle cx="160.9" cy="132.3" r="1.5" fill="#1515ff"/>
<circle cx="163.8" cy="132.5" r="1.5" fill="#1515ff"/>
<circle cx="166.8" cy="132.7" r="1.5" fill="#1515ff"/>
<circle cx="169.7" cy="133.0" r="1.5" fill="#1515ff"/>
<circle cx="172.6" cy="133.1" r="1.5" fill="#1515ff"/>
<circle cx="175.6" cy="133.1" r="1.5" fill="#1515ff"/>
<circle cx="178.5" cy="133.2" r="1.5" fill="#1515ff"/>
<circle cx="181.5" cy="133.2" r="1.5" fill="#1515ff"/>
<circle cx="184.4" cy="133.3" r="1.5" fill="#1515ff"/>
<circle cx="187.3" cy="133.4" r="1.5" fill="#1515ff"/>
<circle cx="190.3" cy="133.4" r="1.5" fill="#1515ff"/>
<circle cx="193.2" cy="133.5" r="1.5" fill="#1515ff"/>
<circle cx="196.2" cy="133.6" r="1.5" fill="#1515ff"/>
<circle cx="199.1" cy="133.6" r="1.5" fill="#1515ff"/>
<circle cx="202.0" cy="133.7" r="1.5" fill="#1515ff"/>
<circle cx="205.0" cy="133.7" r="1.5" fill="#1515ff"/>
<circle cx="207.9" cy="133.8" r="1.5" fill="#1515ff"/>
<circle cx="52.1" cy="21.8" r="1.5" fill="#1515ff"/>
<circle cx="55.0" cy="32.0" r="1.5" fill="#1515ff"/>
<circle cx="58.0" cy="29.0" r="1.5" fill="#1515ff"/>
<circle cx="60.9" cy="30.3" r="1.5" fill="#1515ff"/>
<circle cx="63.9" cy="31.7" r="1.5" fill="#1515ff"/>
<circle cx="66.8" cy="34.4" r="1.5" fill="#1515ff"/>
<circle cx="69.7" cy="37.1" r="1.5" fill="#1515ff"/>
<circle cx="72.7" cy="39.9" r="1.5" fill="#1515ff"/>
<circle cx="75.6" cy="42.6" r="1.5" fill="#1515ff"/>
<circle cx="78.6" cy="45.4" r="1.5" fill="#1515ff"/>
<circle cx="81.5" cy="48.1" r="1.5" fill="#1515ff"/>
<circle cx="84.4" cy="51.6" r="1.5" fill="#1515ff"/>
<circle cx="87.4" cy="55.1" r="1.5" fill="#1515ff"/>
<circle cx="90.3" cy="58.8" r="1.5" fill="#1515ff"/>
<circle cx="93.3" cy="62.5" r="1.5" fill="#1515ff"/>
<circle cx="96.2" cy="66.8" r="1.5" fill="#1515ff"/>
<circle cx="99.1" cy="71.1" r="1.5" fill="#1515ff"/>
<circle cx="102.1" cy="76.2" r="1.5" fill="#1515ff"/>
<circle cx="105.0" cy="81.4" r="1.5" fill="#1515ff"/>
<circle cx="108.0" cy="87.4" r="1.5" fill="#1515ff"/>
<circle cx="110.9" cy="93.6" r="1.5" fill="#1515ff"/>
<circle cx="113.8" cy="99.1" r="1.5" fill="#1515ff"/>
<circle cx="116.8" cy="104.5" r="1.5" fill="#1515ff"/>
<circle cx="119.7" cy="109.1" r="1.5" fill="#1515ff"/>
<circle cx="122.7" cy="113.5" r="1.5" fill="#1515ff"/>
<circle cx="125.6" cy="116.2" r="1.5" fill="#1515ff"/>
<circle cx="128.5" cy="118.4" r="1.5" fill="#1515ff"/>
<circle cx="131.5" cy="120.0" r="1.5" fill="#1515ff"/>
<circle cx="134.4" cy="121.3" r="1.5" fill="#1515ff"/>
<circle cx="137.4" cy="122.2" r="1.5" fill="#1515ff"/>
<circle cx="140.3" cy="123.0" r="1.5" fill="#1515ff"/>
<circle cx="143.2" cy="123.6" r="1.5" fill="#1515ff"/>
<circle cx="146.2" cy="124.1" r="1.5" fill="#1515ff"/>
<circle cx="149.1" cy="124.6" r="1.5" fill="#1515ff"/>
<circle cx="152.1" cy="124.8" r="1.5" fill="#1515ff"/>
<circle cx="155.0" cy="125.0" r="1.5" fill="#1515ff"/>
<circle cx="157.9" cy="125.2" r="1.5" fill="#1515ff"/>
<circle cx="160.9" cy="125.4" r="1.5" fill="#1515ff"/>
<circle cx="163.8" cy="125.6" r="1.5" fill="#1515ff"/>
<circle cx="166.8" cy="125.8" r="1.5" fill="#1515ff"/>
<circle cx="169.7" cy="126.0" r="1.5" fill="#1515ff"/>
<circle cx="172.6" cy="126.0" r="1.5" fill="#1515ff"/>
<circle cx="175.6" cy="126.0" r="1.5" fill="#1515ff"/>
<circle cx="178.5" cy="126.0" r="1.5" fill="#1515ff"/>
<circle cx="181.5" cy="126.1" r="1.5" fill="#1515ff"/>
<circle cx="184.4" cy="126.1" r="1.5" fill="#1515ff"/>
<circle cx="187.3" cy="126.1" r="1.5" fill="#1515ff"/>
<circle cx="190.3" cy="126.1" r="1.5" fill="#1515ff"/>
<circle cx="193.2" cy="126.1" r="1.5" fill="#1515ff"/>
<circle cx="196.2" cy="126.1" r="1.5" fill="#1515ff"/>
<circle cx="199.1" cy="126.1" r="1.5" fill="#1515ff"/>
<circle cx="202.0" cy="126.2" r="1.5" fill="#1515ff"/>
<circle cx="205.0" cy="126.2" r="1.5" fill="#1515ff"/>
<circle cx="207.9" cy="126.2" r="1.5" fill="#1515ff"/>
<line x1="277" y1="12.3" x2="277" y2="151" stroke="#333" stroke-width="1.3" />
<line x1="276.4" y1="150.6" x2="417.6" y2="150.6" stroke="#333" stroke-width="1.3" />
<line x1="277" y1="34.4" x2="280" y2="34.4" stroke="#333" stroke-width="1" />
<text x="0" y="0" font-size="13.5" fill="#111" text-anchor="end" font-weight="normal" transform="translate(273.9,39.1) scale(1,1.04)" >30</text>
<line x1="277" y1="73.3" x2="280" y2="73.3" stroke="#333" stroke-width="1" />
<text x="0" y="0" font-size="13.5" fill="#111" text-anchor="end" font-weight="normal" transform="translate(273.9,78.0) scale(1,1.04)" >20</text>
<line x1="277" y1="111.7" x2="280" y2="111.7" stroke="#333" stroke-width="1" />
<text x="0" y="0" font-size="13.5" fill="#111" text-anchor="end" font-weight="normal" transform="translate(273.9,116.4) scale(1,1.04)" >10</text>
<text x="0" y="0" font-size="13.5" fill="#111" text-anchor="middle" font-weight="normal" transform="translate(245.7,79.3) rotate(-90)">Lifetime (min)</text>
<line x1="297.7" y1="20.1" x2="397.2" y2="20.1" stroke="#444" stroke-width="1.3" />
<line x1="297.7" y1="18.2" x2="297.7" y2="22" stroke="#444" stroke-width="1.1" />
<line x1="397.2" y1="19.5" x2="397.2" y2="24.6" stroke="#444" stroke-width="1.3" />
<line x1="297.7" y1="41.2" x2="347" y2="41.2" stroke="#444" stroke-width="1.3" />
<line x1="297.7" y1="39.3" x2="297.7" y2="43.1" stroke="#444" stroke-width="1.1" />
<line x1="347" y1="40.6" x2="347" y2="55.7" stroke="#444" stroke-width="1.3" />
<text x="0" y="0" font-size="11.5" fill="#111" text-anchor="middle" font-weight="normal" transform="translate(347.6,23.2) scale(1,1.04)" >***</text>
<text x="0" y="0" font-size="13" fill="#111" text-anchor="middle" font-weight="normal" transform="translate(322,39.4) scale(1,1.04)" >n.s.</text>
<text x="0" y="0" font-size="13" fill="#111" text-anchor="start" font-weight="normal" transform="translate(379,14.9) scale(1,1.04)" >&gt; 30min</text>
<line x1="282" y1="101" x2="304.7" y2="101" stroke="#888" stroke-width="2" />
<circle cx="290.2" cy="100.1" r="2.1" fill="#000"/>
<circle cx="295.0" cy="102.2" r="2.1" fill="#000"/>
<line x1="333.1" y1="104.9" x2="355.9" y2="104.9" stroke="#5a9a1e" stroke-width="2" />
<line x1="345.4" y1="100.1" x2="345.4" y2="108.9" stroke="#5a9a1e" stroke-width="1" />
<line x1="343.6" y1="100.1" x2="347.2" y2="100.1" stroke="#5a9a1e" stroke-width="1" />
<line x1="343.6" y1="108.9" x2="347.2" y2="108.9" stroke="#5a9a1e" stroke-width="1" />
<circle cx="344.5" cy="100.1" r="2.1" fill="#000"/>
<circle cx="341.9" cy="104.2" r="2.1" fill="#000"/>
<circle cx="341.0" cy="110.1" r="2.1" fill="#000"/>
<line x1="385" y1="34.5" x2="407.2" y2="34.5" stroke="#1010ff" stroke-width="2" />
<circle cx="394.8" cy="34.5" r="2.1" fill="#000"/>
<circle cx="399.5" cy="34.5" r="2.1" fill="#000"/>
<text x="0" y="0" font-size="13.5" fill="#111" text-anchor="end" transform="translate(303.8,158.5) rotate(-60)">Unbiased</text>
<text x="0" y="0" font-size="13.5" fill="#111" text-anchor="end" transform="translate(353.1,158) rotate(-60)">G<tspan font-size="9.3" dy="1.8">10</tspan><tspan dy="-1.8">A</tspan><tspan font-size="9.3" dy="1.8">20</tspan></text>
<text x="0" y="0" font-size="13.5" fill="#111" text-anchor="end" transform="translate(405.9,157.7) rotate(-60)">G<tspan font-size="9.3" dy="1.8">8</tspan><tspan dy="-1.8"><tspan font-style="italic">N</tspan></tspan><tspan font-size="9.3" dy="1.8">14</tspan><tspan dy="-1.8">G</tspan><tspan font-size="9.3" dy="1.8">8</tspan></text>
<line x1="528.2" y1="10.5" x2="528.2" y2="150.3" stroke="#333" stroke-width="1.3" />
<line x1="527.6" y1="149.6" x2="667.4" y2="149.6" stroke="#333" stroke-width="1.3" />
<line x1="528.2" y1="33.3" x2="531.2" y2="33.3" stroke="#333" stroke-width="1" />
<text x="0" y="0" font-size="13.5" fill="#111" text-anchor="end" font-weight="normal" transform="translate(524.9,38.0) scale(1,1.04)" >30</text>
<line x1="528.2" y1="72" x2="531.2" y2="72" stroke="#333" stroke-width="1" />
<text x="0" y="0" font-size="13.5" fill="#111" text-anchor="end" font-weight="normal" transform="translate(524.9,76.7) scale(1,1.04)" >20</text>
<line x1="528.2" y1="110.6" x2="531.2" y2="110.6" stroke="#333" stroke-width="1" />
<text x="0" y="0" font-size="13.5" fill="#111" text-anchor="end" font-weight="normal" transform="translate(524.9,115.3) scale(1,1.04)" >10</text>
<text x="0" y="0" font-size="13.5" fill="#111" text-anchor="middle" font-weight="normal" transform="translate(493,91) rotate(-90)">Crit. Fuel Conc. (mM)</text>
<line x1="549.5" y1="13.8" x2="643.7" y2="13.8" stroke="#222" stroke-width="1.2" />
<line x1="549.5" y1="12" x2="549.5" y2="15.8" stroke="#222" stroke-width="1.1" />
<line x1="643.7" y1="13.2" x2="643.7" y2="57.2" stroke="#222" stroke-width="1.2" />
<line x1="549.5" y1="27.9" x2="598.8" y2="27.9" stroke="#222" stroke-width="1.2" />
<line x1="549.5" y1="26" x2="549.5" y2="29.8" stroke="#222" stroke-width="1.1" />
<line x1="598.8" y1="27.3" x2="598.8" y2="96.6" stroke="#222" stroke-width="1.2" />
<text x="0" y="0" font-size="12" fill="#111" text-anchor="middle" font-weight="normal" transform="translate(592.2,8.2) scale(1,1.04)" >+</text>
<text x="0" y="0" font-size="13" fill="#111" text-anchor="middle" font-weight="normal" transform="translate(574,25.8) scale(1,1.04)" >n.s.</text>
<line x1="533.2" y1="113.7" x2="555.6" y2="113.7" stroke="#000" stroke-width="2" />
<line x1="544.1" y1="109.4" x2="544.1" y2="117.8" stroke="#000" stroke-width="1" />
<line x1="542.3" y1="109.4" x2="545.9" y2="109.4" stroke="#000" stroke-width="1" />
<line x1="542.3" y1="117.8" x2="545.9" y2="117.8" stroke="#000" stroke-width="1" />
<circle cx="545.3" cy="110.6" r="2.1" fill="#000"/>
<circle cx="546.5" cy="120.2" r="2.1" fill="#000"/>
<circle cx="543.5" cy="111.0" r="2.1" fill="#000"/>
<line x1="584.5" y1="117.3" x2="606.7" y2="117.3" stroke="#1010ff" stroke-width="2" />
<line x1="596.6" y1="112.5" x2="596.6" y2="121.4" stroke="#1010ff" stroke-width="1" />
<line x1="594.8" y1="112.5" x2="598.4" y2="112.5" stroke="#1010ff" stroke-width="1" />
<line x1="594.8" y1="121.4" x2="598.4" y2="121.4" stroke="#1010ff" stroke-width="1" />
<circle cx="592.3" cy="110.6" r="2.1" fill="#000"/>
<circle cx="596.6" cy="120.2" r="2.1" fill="#000"/>
<line x1="635.6" y1="81.7" x2="658" y2="81.7" stroke="#5a9a1e" stroke-width="2" />
<line x1="646.9" y1="68.4" x2="646.9" y2="95.4" stroke="#5a9a1e" stroke-width="1.2" />
<line x1="643.3" y1="68.4" x2="650.5" y2="68.4" stroke="#5a9a1e" stroke-width="1.2" />
<line x1="643.3" y1="95.4" x2="650.5" y2="95.4" stroke="#5a9a1e" stroke-width="1.2" />
<circle cx="643.3" cy="72.2" r="2.1" fill="#000"/>
<circle cx="648.4" cy="72.2" r="2.1" fill="#000"/>
<circle cx="643.3" cy="101.4" r="2.1" fill="#000"/>
<text x="0" y="0" font-size="13.5" fill="#111" text-anchor="end" transform="translate(557.3,159.3) rotate(-60)">Control</text>
<text x="0" y="0" font-size="13.5" fill="#111" text-anchor="end" transform="translate(606.9,158.5) rotate(-60)">G<tspan font-size="9.3" dy="1.8">8</tspan><tspan dy="-1.8"><tspan font-style="italic">N</tspan></tspan><tspan font-size="9.3" dy="1.8">14</tspan><tspan dy="-1.8">G</tspan><tspan font-size="9.3" dy="1.8">8</tspan></text>
<text x="0" y="0" font-size="13.5" fill="#111" text-anchor="end" transform="translate(656.7,158.7) rotate(-60)">G<tspan font-size="9.3" dy="1.8">10</tspan><tspan dy="-1.8">A</tspan><tspan font-size="9.3" dy="1.8">20</tspan></text>
<line x1="46.2" y1="216.9" x2="46.2" y2="355" stroke="#333" stroke-width="1.3" />
<line x1="45.6" y1="355" x2="211.8" y2="355" stroke="#333" stroke-width="1.3" />
<line x1="46.2" y1="253" x2="48.4" y2="253" stroke="#333" stroke-width="1" />
<text x="0" y="0" font-size="13.5" fill="#111" text-anchor="end" font-weight="normal" transform="translate(42.4,257.3) scale(1,1.04)" >1.0</text>
<line x1="46.2" y1="304.8" x2="48.4" y2="304.8" stroke="#333" stroke-width="1" />
<text x="0" y="0" font-size="13.5" fill="#111" text-anchor="end" font-weight="normal" transform="translate(42.4,309.1) scale(1,1.04)" >0.5</text>
<line x1="47.8" y1="354.6" x2="47.8" y2="352.4" stroke="#333" stroke-width="1" />
<text x="0" y="0" font-size="13.5" fill="#111" text-anchor="middle" font-weight="normal" transform="translate(48.9,371) scale(1,1.04)" >0</text>
<line x1="84.2" y1="354.6" x2="84.2" y2="352.4" stroke="#333" stroke-width="1" />
<text x="0" y="0" font-size="13.5" fill="#111" text-anchor="middle" font-weight="normal" transform="translate(81.6,371) scale(1,1.04)" >100</text>
<line x1="120.5" y1="354.6" x2="120.5" y2="352.4" stroke="#333" stroke-width="1" />
<text x="0" y="0" font-size="13.5" fill="#111" text-anchor="middle" font-weight="normal" transform="translate(119.6,371) scale(1,1.04)" >200</text>
<line x1="156.8" y1="354.6" x2="156.8" y2="352.4" stroke="#333" stroke-width="1" />
<text x="0" y="0" font-size="13.5" fill="#111" text-anchor="middle" font-weight="normal" transform="translate(154.9,371) scale(1,1.04)" >300</text>
<line x1="193.2" y1="354.6" x2="193.2" y2="352.4" stroke="#333" stroke-width="1" />
<text x="0" y="0" font-size="13.5" fill="#111" text-anchor="middle" font-weight="normal" transform="translate(191.6,371) scale(1,1.04)" >400</text>
<text x="0" y="0" font-size="13.5" fill="#111" text-anchor="middle" font-weight="normal" transform="translate(127.2,387.4) scale(1,1.04)" >Additional NaCl (mM)</text>
<text x="0" y="0" font-size="13.5" fill="#111" text-anchor="middle" font-weight="normal" transform="translate(10.5,295.8) rotate(-90)">OD600</text>
<line x1="46.2" y1="345.3" x2="211" y2="345.3" stroke="#222" stroke-width="1" stroke-dasharray="3,2"/>
<text x="0" y="0" font-size="13.5" fill="#111" text-anchor="end" font-weight="normal" transform="translate(201.5,239.1) scale(1,1.04)" >No DNA</text>
<text x="0" y="0" font-size="13.5" fill="#5a9a1e" text-anchor="end" font-weight="normal" transform="translate(202,258.7) scale(1,1.04)" >50 µM G<tspan font-size="9.3" dy="1.8">10</tspan><tspan dy="-1.8">A</tspan><tspan font-size="9.3" dy="1.8">20</tspan></text>
<text x="0" y="0" font-size="13.5" fill="#1a1aff" text-anchor="end" font-weight="normal" transform="translate(202,277.7) scale(1,1.04)" >50 µM G<tspan font-size="9.3" dy="1.8">8</tspan><tspan dy="-1.8">N</tspan><tspan font-size="9.3" dy="1.8">14</tspan><tspan dy="-1.8">G</tspan><tspan font-size="9.3" dy="1.8">8</tspan></text>
<line x1="110.4" y1="293.3" x2="130" y2="293.3" stroke="#111" stroke-width="1.6" stroke-dasharray="3,2.4"/>
<text x="0" y="0" font-size="13.5" fill="#111" text-anchor="end" font-weight="normal" transform="translate(201.2,297.1) scale(1,1.04)" >Dissolution</text>
<circle cx="47.8" cy="220.4" r="1.95" fill="#5a9a1e"/>
<circle cx="47.8" cy="226.8" r="1.95" fill="#5a9a1e"/>
<circle cx="47.8" cy="236.4" r="1.95" fill="#5a9a1e"/>
<circle cx="55.1" cy="239.6" r="1.95" fill="#5a9a1e"/>
<circle cx="55.1" cy="246.5" r="1.95" fill="#5a9a1e"/>
<circle cx="55.1" cy="248.2" r="1.95" fill="#5a9a1e"/>
<circle cx="62.3" cy="253.0" r="1.95" fill="#5a9a1e"/>
<circle cx="62.3" cy="257.0" r="1.95" fill="#5a9a1e"/>
<circle cx="62.3" cy="276.8" r="1.95" fill="#5a9a1e"/>
<circle cx="69.6" cy="269.9" r="1.95" fill="#5a9a1e"/>
<circle cx="69.6" cy="286.7" r="1.95" fill="#5a9a1e"/>
<circle cx="69.6" cy="293.6" r="1.95" fill="#5a9a1e"/>
<circle cx="76.9" cy="283.8" r="1.95" fill="#5a9a1e"/>
<circle cx="76.9" cy="296.7" r="1.95" fill="#5a9a1e"/>
<circle cx="73.2" cy="309.8" r="1.95" fill="#5a9a1e"/>
<circle cx="84.1" cy="296.4" r="1.95" fill="#5a9a1e"/>
<circle cx="84.1" cy="310.5" r="1.95" fill="#5a9a1e"/>
<circle cx="84.1" cy="322.9" r="1.95" fill="#5a9a1e"/>
<circle cx="91.4" cy="306.0" r="1.95" fill="#5a9a1e"/>
<circle cx="91.4" cy="316.7" r="1.95" fill="#5a9a1e"/>
<circle cx="98.7" cy="327.1" r="1.95" fill="#5a9a1e"/>
<circle cx="105.9" cy="316.0" r="1.95" fill="#5a9a1e"/>
<circle cx="105.9" cy="324.7" r="1.95" fill="#5a9a1e"/>
<circle cx="120.5" cy="320.2" r="1.95" fill="#5a9a1e"/>
<circle cx="120.5" cy="327.6" r="1.95" fill="#5a9a1e"/>
<circle cx="120.5" cy="333.3" r="1.95" fill="#5a9a1e"/>
<circle cx="156.8" cy="329.6" r="1.95" fill="#5a9a1e"/>
<circle cx="156.8" cy="332.6" r="1.95" fill="#5a9a1e"/>
<circle cx="156.8" cy="336.6" r="1.95" fill="#5a9a1e"/>
<circle cx="193.2" cy="331.6" r="1.95" fill="#5a9a1e"/>
<circle cx="193.2" cy="334.6" r="1.95" fill="#5a9a1e"/>
<circle cx="69.6" cy="287.0" r="1.95" fill="#5a9a1e"/>
<circle cx="76.9" cy="316.7" r="1.95" fill="#5a9a1e"/>
<circle cx="47.8" cy="244.2" r="1.95" fill="#000"/>
<circle cx="55.1" cy="265.0" r="1.95" fill="#000"/>
<circle cx="55.1" cy="270.7" r="1.95" fill="#000"/>
<circle cx="62.3" cy="290.7" r="1.95" fill="#000"/>
<circle cx="62.3" cy="292.8" r="1.95" fill="#000"/>
<circle cx="64.5" cy="311.0" r="1.95" fill="#000"/>
<circle cx="69.6" cy="323.4" r="1.95" fill="#000"/>
<circle cx="69.6" cy="325.9" r="1.95" fill="#000"/>
<circle cx="73.2" cy="340.8" r="1.95" fill="#000"/>
<circle cx="73.2" cy="343.3" r="1.95" fill="#000"/>
<circle cx="73.2" cy="348.2" r="1.95" fill="#000"/>
<circle cx="76.9" cy="345.0" r="1.95" fill="#000"/>
<circle cx="76.9" cy="350.7" r="1.95" fill="#000"/>
<circle cx="84.1" cy="345.8" r="1.95" fill="#000"/>
<circle cx="84.1" cy="350.7" r="1.95" fill="#000"/>
<circle cx="62.3" cy="291.2" r="1.95" fill="#000"/>
<circle cx="62.3" cy="293.6" r="1.95" fill="#000"/>
<circle cx="62.3" cy="299.9" r="1.95" fill="#000"/>
<circle cx="47.8" cy="241.4" r="1.95" fill="#1515ff"/>
<circle cx="47.8" cy="243.0" r="1.95" fill="#1515ff"/>
<circle cx="47.8" cy="246.6" r="1.95" fill="#1515ff"/>
<circle cx="47.8" cy="256.2" r="1.95" fill="#1515ff"/>
<circle cx="55.1" cy="269.0" r="1.95" fill="#1515ff"/>
<circle cx="55.1" cy="271.0" r="1.95" fill="#1515ff"/>
<circle cx="55.1" cy="282.7" r="1.95" fill="#1515ff"/>
<circle cx="55.1" cy="284.2" r="1.95" fill="#1515ff"/>
<circle cx="62.3" cy="297.4" r="1.95" fill="#1515ff"/>
<circle cx="62.3" cy="298.6" r="1.95" fill="#1515ff"/>
<circle cx="62.3" cy="307.3" r="1.95" fill="#1515ff"/>
<circle cx="62.3" cy="314.7" r="1.95" fill="#1515ff"/>
<circle cx="69.6" cy="322.2" r="1.95" fill="#1515ff"/>
<circle cx="69.6" cy="328.4" r="1.95" fill="#1515ff"/>
<circle cx="69.6" cy="335.1" r="1.95" fill="#1515ff"/>
<circle cx="76.9" cy="335.8" r="1.95" fill="#1515ff"/>
<circle cx="76.9" cy="338.3" r="1.95" fill="#1515ff"/>
<circle cx="76.9" cy="340.8" r="1.95" fill="#1515ff"/>
<circle cx="84.1" cy="340.0" r="1.95" fill="#1515ff"/>
<circle cx="84.1" cy="342.0" r="1.95" fill="#1515ff"/>
<circle cx="84.1" cy="344.5" r="1.95" fill="#1515ff"/>
<circle cx="91.4" cy="342.0" r="1.95" fill="#1515ff"/>
<circle cx="91.4" cy="345.0" r="1.95" fill="#1515ff"/>
<circle cx="98.7" cy="344.5" r="1.95" fill="#1515ff"/>
<circle cx="98.7" cy="345.8" r="1.95" fill="#1515ff"/>
<circle cx="105.9" cy="345.8" r="1.95" fill="#1515ff"/>
<circle cx="113.2" cy="346.5" r="1.95" fill="#1515ff"/>
<circle cx="113.2" cy="347.5" r="1.95" fill="#1515ff"/>
<circle cx="120.5" cy="345.8" r="1.95" fill="#1515ff"/>
<circle cx="120.5" cy="348.2" r="1.95" fill="#1515ff"/>
<circle cx="156.8" cy="347.5" r="1.95" fill="#1515ff"/>
<circle cx="156.8" cy="348.5" r="1.95" fill="#1515ff"/>
<text x="0" y="0" font-size="13.5" fill="#808080" text-anchor="end" font-weight="normal" transform="translate(277.6,262) scale(1,1.04)" >Unbiased</text>
<text x="0" y="0" font-size="13.5" fill="#1a1aff" text-anchor="end" font-weight="normal" transform="translate(276.7,325.3) scale(1,1.04)" >G<tspan font-size="9.3" dy="1.8">8</tspan><tspan dy="-1.8">N</tspan><tspan font-size="9.3" dy="1.8">14</tspan><tspan dy="-1.8">G</tspan><tspan font-size="9.3" dy="1.8">8</tspan></text>
<text x="0" y="0" font-size="13.5" fill="#5a9a1e" text-anchor="end" font-weight="normal" transform="translate(276,388.5) scale(1,1.04)" >G<tspan font-size="9.3" dy="1.8">10</tspan><tspan dy="-1.8">A</tspan><tspan font-size="9.3" dy="1.8">20</tspan></text>
<text x="0" y="0" font-size="13.5" fill="#111" text-anchor="middle" font-weight="normal" transform="translate(308.2,274.5) scale(1,1.04)" >0 sec</text>
<text x="0" y="0" font-size="13.5" fill="#111" text-anchor="middle" font-weight="normal" transform="translate(358.5,274.5) scale(1,1.04)" >Bleach</text>
<text x="0" y="0" font-size="13.5" fill="#111" text-anchor="middle" font-weight="normal" transform="translate(412.7,274.5) scale(1,1.04)" >1 sec</text>
<line x1="485.8" y1="216.3" x2="485.8" y2="356.3" stroke="#222" stroke-width="1.3" />
<line x1="485.2" y1="355.8" x2="684" y2="355.8" stroke="#222" stroke-width="1.3" />
<line x1="485.8" y1="238.9" x2="483.6" y2="238.9" stroke="#222" stroke-width="1" />
<text x="0" y="0" font-size="13.5" fill="#111" text-anchor="end" font-weight="normal" transform="translate(482.8,243.70000000000002) scale(1,1.04)" >1.0</text>
<line x1="485.8" y1="301.5" x2="483.6" y2="301.5" stroke="#222" stroke-width="1" />
<text x="0" y="0" font-size="13.5" fill="#111" text-anchor="end" font-weight="normal" transform="translate(482.8,306.3) scale(1,1.04)" >0.5</text>
<line x1="585.6" y1="355.8" x2="585.6" y2="353.6" stroke="#222" stroke-width="1" />
<line x1="675.3" y1="355.8" x2="675.3" y2="353.6" stroke="#222" stroke-width="1" />
<text x="0" y="0" font-size="13.5" fill="#111" text-anchor="middle" font-weight="normal" transform="translate(489,371.3) scale(1,1.04)" >0</text>
<text x="0" y="0" font-size="13.5" fill="#111" text-anchor="middle" font-weight="normal" transform="translate(585.5,371.3) scale(1,1.04)" >10</text>
<text x="0" y="0" font-size="13.5" fill="#111" text-anchor="middle" font-weight="normal" transform="translate(671.5,371.3) scale(1,1.04)" >20</text>
<text x="0" y="0" font-size="13.5" fill="#111" text-anchor="middle" font-weight="normal" transform="translate(591.5,387.6) scale(1,1.04)" >Time (s)</text>
<text x="0" y="0" font-size="13.5" fill="#111" text-anchor="middle" font-weight="normal" transform="translate(454.5,281) rotate(-90)">Norm. Int.</text>
<text x="0" y="0" font-size="13.5" fill="#3050ff" text-anchor="end" font-weight="normal" transform="translate(665,307.8) scale(1,1.04)" >G<tspan font-size="9.3" dy="1.8">8</tspan><tspan dy="-1.8">N</tspan><tspan font-size="9.3" dy="1.8">14</tspan><tspan dy="-1.8">G</tspan><tspan font-size="9.3" dy="1.8">8</tspan></text>
<text x="0" y="0" font-size="13.5" fill="#6aa336" text-anchor="end" font-weight="normal" transform="translate(665,326.3) scale(1,1.04)" >G<tspan font-size="9.3" dy="1.8">10</tspan><tspan dy="-1.8">A</tspan><tspan font-size="9.3" dy="1.8">20</tspan></text>
<text x="0" y="0" font-size="13.5" fill="#8a8a8a" text-anchor="end" font-weight="normal" transform="translate(664,345.6) scale(1,1.04)" >Unbiased</text>
<circle cx="509.8" cy="238.3" r="0.95" fill="#74ac46" fill-opacity="0.85"/>
<circle cx="513.9" cy="246.1" r="0.95" fill="#74ac46" fill-opacity="0.85"/>
<circle cx="494.3" cy="239.8" r="0.95" fill="#2a3ef0" fill-opacity="0.85"/>
<circle cx="496.1" cy="242.3" r="0.95" fill="#2a3ef0" fill-opacity="0.85"/>
<circle cx="494.6" cy="244.4" r="0.95" fill="#74ac46" fill-opacity="0.85"/>
<circle cx="518.1" cy="241.5" r="0.95" fill="#74ac46" fill-opacity="0.85"/>
<circle cx="497.4" cy="243.4" r="0.95" fill="#2a3ef0" fill-opacity="0.85"/>
<circle cx="503.4" cy="237.4" r="0.95" fill="#2a3ef0" fill-opacity="0.85"/>
<circle cx="497.1" cy="241.8" r="0.95" fill="#2a3ef0" fill-opacity="0.85"/>
<circle cx="498.7" cy="243.1" r="0.95" fill="#74ac46" fill-opacity="0.85"/>
<circle cx="498.0" cy="239.8" r="0.95" fill="#74ac46" fill-opacity="0.85"/>
<circle cx="515.0" cy="239.3" r="0.95" fill="#74ac46" fill-opacity="0.85"/>
<circle cx="514.7" cy="244.5" r="0.95" fill="#74ac46" fill-opacity="0.85"/>
<circle cx="505.7" cy="239.7" r="0.95" fill="#2a3ef0" fill-opacity="0.85"/>
<circle cx="494.2" cy="237.3" r="0.95" fill="#2a3ef0" fill-opacity="0.85"/>
<circle cx="509.3" cy="242.8" r="0.95" fill="#2a3ef0" fill-opacity="0.85"/>
<circle cx="510.6" cy="239.8" r="0.95" fill="#2a3ef0" fill-opacity="0.85"/>
<circle cx="511.4" cy="236.2" r="0.95" fill="#74ac46" fill-opacity="0.85"/>
<circle cx="504.3" cy="236.9" r="0.95" fill="#2a3ef0" fill-opacity="0.85"/>
<circle cx="493.3" cy="243.8" r="0.95" fill="#2a3ef0" fill-opacity="0.85"/>
<circle cx="506.8" cy="241.7" r="0.95" fill="#74ac46" fill-opacity="0.85"/>
<circle cx="505.3" cy="238.0" r="0.95" fill="#74ac46" fill-opacity="0.85"/>
<circle cx="498.5" cy="241.2" r="0.95" fill="#2a3ef0" fill-opacity="0.85"/>
<circle cx="513.6" cy="239.3" r="0.95" fill="#2a3ef0" fill-opacity="0.85"/>
<circle cx="517.7" cy="236.3" r="0.95" fill="#2a3ef0" fill-opacity="0.85"/>
<circle cx="503.4" cy="238.0" r="0.95" fill="#2a3ef0" fill-opacity="0.85"/>
<circle cx="509.4" cy="241.4" r="0.95" fill="#2a3ef0" fill-opacity="0.85"/>
<circle cx="507.4" cy="237.2" r="0.95" fill="#2a3ef0" fill-opacity="0.85"/>
<circle cx="502.3" cy="233.6" r="0.95" fill="#74ac46" fill-opacity="0.85"/>
<circle cx="500.1" cy="240.4" r="0.95" fill="#74ac46" fill-opacity="0.85"/>
<circle cx="498.0" cy="234.2" r="0.95" fill="#2a3ef0" fill-opacity="0.85"/>
<circle cx="513.7" cy="238.5" r="0.95" fill="#2a3ef0" fill-opacity="0.85"/>
<circle cx="496.6" cy="240.3" r="0.95" fill="#74ac46" fill-opacity="0.85"/>
<circle cx="503.7" cy="234.2" r="0.95" fill="#2a3ef0" fill-opacity="0.85"/>
<circle cx="502.9" cy="239.9" r="0.95" fill="#74ac46" fill-opacity="0.85"/>
<circle cx="509.9" cy="233.5" r="0.95" fill="#74ac46" fill-opacity="0.85"/>
<circle cx="506.5" cy="237.0" r="0.95" fill="#74ac46" fill-opacity="0.85"/>
<circle cx="508.0" cy="237.8" r="0.95" fill="#74ac46" fill-opacity="0.85"/>
<circle cx="500.2" cy="231.9" r="0.95" fill="#74ac46" fill-opacity="0.85"/>
<circle cx="499.0" cy="236.8" r="0.95" fill="#74ac46" fill-opacity="0.85"/>
<circle cx="504.2" cy="243.0" r="0.95" fill="#2a3ef0" fill-opacity="0.85"/>
<circle cx="515.1" cy="240.1" r="0.95" fill="#2a3ef0" fill-opacity="0.85"/>
<circle cx="502.3" cy="239.2" r="0.95" fill="#2a3ef0" fill-opacity="0.85"/>
<circle cx="513.1" cy="240.7" r="0.95" fill="#74ac46" fill-opacity="0.85"/>
<circle cx="512.1" cy="238.4" r="0.95" fill="#74ac46" fill-opacity="0.85"/>
<circle cx="507.4" cy="240.9" r="0.95" fill="#2a3ef0" fill-opacity="0.85"/>
<circle cx="514.8" cy="243.2" r="0.95" fill="#2a3ef0" fill-opacity="0.85"/>
<circle cx="506.5" cy="235.7" r="0.95" fill="#2a3ef0" fill-opacity="0.85"/>
<circle cx="509.8" cy="242.8" r="0.95" fill="#2a3ef0" fill-opacity="0.85"/>
<circle cx="517.0" cy="245.4" r="0.95" fill="#2a3ef0" fill-opacity="0.85"/>
<circle cx="504.4" cy="240.8" r="0.95" fill="#2a3ef0" fill-opacity="0.85"/>
<circle cx="495.8" cy="243.6" r="0.95" fill="#74ac46" fill-opacity="0.85"/>
<circle cx="513.8" cy="243.7" r="0.95" fill="#74ac46" fill-opacity="0.85"/>
<circle cx="517.2" cy="236.9" r="0.95" fill="#74ac46" fill-opacity="0.85"/>
<circle cx="493.8" cy="237.1" r="0.95" fill="#74ac46" fill-opacity="0.85"/>
<circle cx="507.2" cy="237.0" r="0.95" fill="#74ac46" fill-opacity="0.85"/>
<circle cx="510.2" cy="234.4" r="0.95" fill="#74ac46" fill-opacity="0.85"/>
<circle cx="510.2" cy="238.6" r="0.95" fill="#2a3ef0" fill-opacity="0.85"/>
<circle cx="494.3" cy="242.6" r="0.95" fill="#74ac46" fill-opacity="0.85"/>
<circle cx="494.8" cy="237.1" r="0.95" fill="#74ac46" fill-opacity="0.85"/>
<circle cx="505.2" cy="236.4" r="0.95" fill="#74ac46" fill-opacity="0.85"/>
<circle cx="503.5" cy="237.4" r="0.95" fill="#2a3ef0" fill-opacity="0.85"/>
<circle cx="502.6" cy="239.5" r="0.95" fill="#2a3ef0" fill-opacity="0.85"/>
<circle cx="494.3" cy="235.4" r="0.95" fill="#74ac46" fill-opacity="0.85"/>
<circle cx="502.2" cy="240.8" r="0.95" fill="#2a3ef0" fill-opacity="0.85"/>
<circle cx="517.2" cy="244.9" r="0.95" fill="#2a3ef0" fill-opacity="0.85"/>
<circle cx="496.6" cy="233.5" r="0.95" fill="#2a3ef0" fill-opacity="0.85"/>
<circle cx="501.0" cy="240.4" r="0.95" fill="#74ac46" fill-opacity="0.85"/>
<circle cx="496.6" cy="238.8" r="0.95" fill="#2a3ef0" fill-opacity="0.85"/>
<circle cx="512.3" cy="240.2" r="0.95" fill="#74ac46" fill-opacity="0.85"/>
<circle cx="503.7" cy="239.6" r="0.95" fill="#74ac46" fill-opacity="0.85"/>
<circle cx="507.2" cy="239.5" r="0.95" fill="#2a3ef0" fill-opacity="0.85"/>
<circle cx="512.1" cy="234.4" r="0.95" fill="#2a3ef0" fill-opacity="0.85"/>
<circle cx="504.2" cy="236.8" r="0.95" fill="#74ac46" fill-opacity="0.85"/>
<circle cx="515.1" cy="239.1" r="0.95" fill="#74ac46" fill-opacity="0.85"/>
<circle cx="503.8" cy="243.7" r="0.95" fill="#74ac46" fill-opacity="0.85"/>
<circle cx="512.4" cy="241.1" r="0.95" fill="#2a3ef0" fill-opacity="0.85"/>
<circle cx="493.7" cy="237.2" r="0.95" fill="#2a3ef0" fill-opacity="0.85"/>
<circle cx="497.1" cy="237.6" r="0.95" fill="#74ac46" fill-opacity="0.85"/>
<circle cx="494.5" cy="233.7" r="0.95" fill="#2a3ef0" fill-opacity="0.85"/>
<circle cx="515.1" cy="241.0" r="0.95" fill="#2a3ef0" fill-opacity="0.85"/>
<circle cx="507.6" cy="238.0" r="0.95" fill="#74ac46" fill-opacity="0.85"/>
<circle cx="507.6" cy="235.2" r="0.95" fill="#74ac46" fill-opacity="0.85"/>
<circle cx="495.8" cy="232.9" r="0.95" fill="#2a3ef0" fill-opacity="0.85"/>
<circle cx="502.1" cy="239.4" r="0.95" fill="#74ac46" fill-opacity="0.85"/>
<circle cx="494.3" cy="241.1" r="0.95" fill="#2a3ef0" fill-opacity="0.85"/>
<circle cx="504.3" cy="236.1" r="0.95" fill="#74ac46" fill-opacity="0.85"/>
<circle cx="513.6" cy="239.9" r="0.95" fill="#74ac46" fill-opacity="0.85"/>
<circle cx="495.1" cy="240.1" r="0.95" fill="#2a3ef0" fill-opacity="0.85"/>
<circle cx="500.1" cy="240.0" r="0.95" fill="#2a3ef0" fill-opacity="0.85"/>
<circle cx="503.4" cy="240.7" r="0.95" fill="#74ac46" fill-opacity="0.85"/>
<circle cx="514.2" cy="238.2" r="0.95" fill="#74ac46" fill-opacity="0.85"/>
<circle cx="496.6" cy="236.0" r="0.95" fill="#2a3ef0" fill-opacity="0.85"/>
<circle cx="518.1" cy="239.8" r="0.95" fill="#2a3ef0" fill-opacity="0.85"/>
<circle cx="505.3" cy="239.8" r="0.95" fill="#2a3ef0" fill-opacity="0.85"/>
<circle cx="500.4" cy="237.6" r="0.95" fill="#2a3ef0" fill-opacity="0.85"/>
<circle cx="515.4" cy="245.3" r="0.95" fill="#2a3ef0" fill-opacity="0.85"/>
<circle cx="500.4" cy="241.8" r="0.95" fill="#74ac46" fill-opacity="0.85"/>
<circle cx="502.2" cy="238.8" r="0.95" fill="#74ac46" fill-opacity="0.85"/>
<circle cx="514.8" cy="236.6" r="0.95" fill="#74ac46" fill-opacity="0.85"/>
<circle cx="507.7" cy="239.5" r="0.95" fill="#2a3ef0" fill-opacity="0.85"/>
<circle cx="507.8" cy="239.4" r="0.95" fill="#74ac46" fill-opacity="0.85"/>
<circle cx="510.7" cy="240.6" r="0.95" fill="#2a3ef0" fill-opacity="0.85"/>
<circle cx="504.6" cy="235.8" r="0.95" fill="#74ac46" fill-opacity="0.85"/>
<circle cx="494.0" cy="241.3" r="0.95" fill="#74ac46" fill-opacity="0.85"/>
<circle cx="515.3" cy="235.1" r="0.95" fill="#74ac46" fill-opacity="0.85"/>
<circle cx="496.1" cy="241.4" r="0.95" fill="#74ac46" fill-opacity="0.85"/>
<circle cx="503.5" cy="240.7" r="0.95" fill="#74ac46" fill-opacity="0.85"/>
<circle cx="492.9" cy="239.8" r="0.95" fill="#74ac46" fill-opacity="0.85"/>
<circle cx="501.9" cy="235.5" r="0.95" fill="#2a3ef0" fill-opacity="0.85"/>
<circle cx="502.1" cy="240.9" r="0.95" fill="#2a3ef0" fill-opacity="0.85"/>
<circle cx="500.2" cy="237.7" r="0.95" fill="#2a3ef0" fill-opacity="0.85"/>
<circle cx="499.5" cy="239.9" r="0.95" fill="#74ac46" fill-opacity="0.85"/>
<circle cx="500.0" cy="238.9" r="0.95" fill="#2a3ef0" fill-opacity="0.85"/>
<circle cx="495.8" cy="243.4" r="0.95" fill="#74ac46" fill-opacity="0.85"/>
<circle cx="516.9" cy="242.3" r="0.95" fill="#2a3ef0" fill-opacity="0.85"/>
<circle cx="514.7" cy="244.2" r="0.95" fill="#2a3ef0" fill-opacity="0.85"/>
<circle cx="500.8" cy="236.6" r="0.95" fill="#74ac46" fill-opacity="0.85"/>
<circle cx="502.8" cy="239.2" r="0.95" fill="#2a3ef0" fill-opacity="0.85"/>
<circle cx="503.6" cy="239.0" r="0.95" fill="#2a3ef0" fill-opacity="0.85"/>
<circle cx="508.8" cy="237.2" r="0.95" fill="#74ac46" fill-opacity="0.85"/>
<circle cx="509.1" cy="240.1" r="0.95" fill="#2a3ef0" fill-opacity="0.85"/>
<circle cx="517.0" cy="241.0" r="0.95" fill="#74ac46" fill-opacity="0.85"/>
<circle cx="498.7" cy="236.4" r="0.95" fill="#74ac46" fill-opacity="0.85"/>
<circle cx="510.5" cy="236.5" r="0.95" fill="#74ac46" fill-opacity="0.85"/>
<circle cx="496.6" cy="237.6" r="0.95" fill="#74ac46" fill-opacity="0.85"/>
<circle cx="494.3" cy="237.3" r="0.95" fill="#74ac46" fill-opacity="0.85"/>
<circle cx="513.8" cy="239.8" r="0.95" fill="#2a3ef0" fill-opacity="0.85"/>
<circle cx="508.0" cy="237.4" r="0.95" fill="#2a3ef0" fill-opacity="0.85"/>
<circle cx="495.8" cy="238.2" r="0.95" fill="#74ac46" fill-opacity="0.85"/>
<circle cx="507.6" cy="239.2" r="0.95" fill="#2a3ef0" fill-opacity="0.85"/>
<circle cx="499.5" cy="242.5" r="0.95" fill="#2a3ef0" fill-opacity="0.85"/>
<circle cx="509.1" cy="244.9" r="0.95" fill="#74ac46" fill-opacity="0.85"/>
<circle cx="496.4" cy="240.5" r="0.95" fill="#74ac46" fill-opacity="0.85"/>
<circle cx="509.7" cy="245.0" r="0.95" fill="#2a3ef0" fill-opacity="0.85"/>
<circle cx="513.1" cy="239.5" r="0.95" fill="#2a3ef0" fill-opacity="0.85"/>
<circle cx="507.6" cy="235.9" r="0.95" fill="#2a3ef0" fill-opacity="0.85"/>
<circle cx="504.9" cy="238.6" r="0.95" fill="#2a3ef0" fill-opacity="0.85"/>
<circle cx="497.4" cy="237.3" r="0.95" fill="#74ac46" fill-opacity="0.85"/>
<circle cx="507.4" cy="236.8" r="0.95" fill="#74ac46" fill-opacity="0.85"/>
<circle cx="494.0" cy="237.1" r="0.95" fill="#2a3ef0" fill-opacity="0.85"/>
<circle cx="499.1" cy="241.5" r="0.95" fill="#2a3ef0" fill-opacity="0.85"/>
<circle cx="499.1" cy="238.3" r="0.95" fill="#74ac46" fill-opacity="0.85"/>
<circle cx="494.4" cy="242.6" r="0.95" fill="#2a3ef0" fill-opacity="0.85"/>
<circle cx="495.1" cy="232.5" r="0.95" fill="#74ac46" fill-opacity="0.85"/>
<circle cx="500.8" cy="237.9" r="0.95" fill="#2a3ef0" fill-opacity="0.85"/>
<circle cx="500.0" cy="244.5" r="0.95" fill="#74ac46" fill-opacity="0.85"/>
<circle cx="506.8" cy="240.4" r="0.95" fill="#2a3ef0" fill-opacity="0.85"/>
<circle cx="509.7" cy="237.7" r="0.95" fill="#74ac46" fill-opacity="0.85"/>
<circle cx="507.5" cy="234.3" r="0.95" fill="#74ac46" fill-opacity="0.85"/>
<circle cx="506.2" cy="238.9" r="0.95" fill="#2a3ef0" fill-opacity="0.85"/>
<circle cx="516.9" cy="244.6" r="0.95" fill="#74ac46" fill-opacity="0.85"/>
<circle cx="500.6" cy="238.6" r="0.95" fill="#2a3ef0" fill-opacity="0.85"/>
<circle cx="509.4" cy="238.9" r="0.95" fill="#74ac46" fill-opacity="0.85"/>
<circle cx="514.2" cy="240.5" r="0.95" fill="#2a3ef0" fill-opacity="0.85"/>
<circle cx="501.9" cy="241.4" r="0.95" fill="#74ac46" fill-opacity="0.85"/>
<circle cx="494.3" cy="237.4" r="0.95" fill="#2a3ef0" fill-opacity="0.85"/>
<circle cx="494.4" cy="242.2" r="0.95" fill="#74ac46" fill-opacity="0.85"/>
<circle cx="503.4" cy="241.2" r="0.95" fill="#74ac46" fill-opacity="0.85"/>
<circle cx="499.9" cy="239.7" r="0.95" fill="#2a3ef0" fill-opacity="0.85"/>
<circle cx="507.5" cy="242.7" r="0.95" fill="#2a3ef0" fill-opacity="0.85"/>
<circle cx="494.5" cy="238.4" r="0.95" fill="#74ac46" fill-opacity="0.85"/>
<circle cx="507.7" cy="244.5" r="0.95" fill="#74ac46" fill-opacity="0.85"/>
<circle cx="497.3" cy="235.7" r="0.95" fill="#74ac46" fill-opacity="0.85"/>
<circle cx="500.8" cy="236.9" r="0.95" fill="#2a3ef0" fill-opacity="0.85"/>
<circle cx="507.4" cy="233.4" r="0.95" fill="#74ac46" fill-opacity="0.85"/>
<circle cx="510.5" cy="239.1" r="0.95" fill="#2a3ef0" fill-opacity="0.85"/>
<circle cx="495.9" cy="240.2" r="0.95" fill="#74ac46" fill-opacity="0.85"/>
<circle cx="498.5" cy="235.5" r="0.95" fill="#74ac46" fill-opacity="0.85"/>
<circle cx="515.1" cy="241.5" r="0.95" fill="#74ac46" fill-opacity="0.85"/>
<circle cx="515.3" cy="238.0" r="0.95" fill="#2a3ef0" fill-opacity="0.85"/>
<circle cx="509.9" cy="235.5" r="0.95" fill="#2a3ef0" fill-opacity="0.85"/>
<circle cx="499.0" cy="234.1" r="0.95" fill="#2a3ef0" fill-opacity="0.85"/>
<circle cx="506.8" cy="240.1" r="0.95" fill="#2a3ef0" fill-opacity="0.85"/>
<circle cx="497.3" cy="244.2" r="0.95" fill="#2a3ef0" fill-opacity="0.85"/>
<circle cx="513.7" cy="244.7" r="0.95" fill="#74ac46" fill-opacity="0.85"/>
<circle cx="511.4" cy="231.8" r="0.95" fill="#2a3ef0" fill-opacity="0.85"/>
<circle cx="506.8" cy="237.7" r="0.95" fill="#74ac46" fill-opacity="0.85"/>
<circle cx="515.4" cy="232.4" r="0.95" fill="#74ac46" fill-opacity="0.85"/>
<circle cx="503.8" cy="238.0" r="0.95" fill="#2a3ef0" fill-opacity="0.85"/>
<circle cx="494.6" cy="238.9" r="0.95" fill="#2a3ef0" fill-opacity="0.85"/>
<circle cx="493.3" cy="236.5" r="0.95" fill="#74ac46" fill-opacity="0.85"/>
<circle cx="506.2" cy="239.1" r="0.95" fill="#74ac46" fill-opacity="0.85"/>
<circle cx="503.6" cy="243.4" r="0.95" fill="#74ac46" fill-opacity="0.85"/>
<circle cx="504.9" cy="243.1" r="0.95" fill="#74ac46" fill-opacity="0.85"/>
<circle cx="502.9" cy="233.4" r="0.95" fill="#2a3ef0" fill-opacity="0.85"/>
<circle cx="509.3" cy="240.5" r="0.95" fill="#74ac46" fill-opacity="0.85"/>
<circle cx="501.0" cy="233.6" r="0.95" fill="#2a3ef0" fill-opacity="0.85"/>
<circle cx="498.7" cy="243.4" r="0.95" fill="#2a3ef0" fill-opacity="0.85"/>
<circle cx="492.9" cy="237.0" r="0.95" fill="#2a3ef0" fill-opacity="0.85"/>
<circle cx="502.6" cy="236.7" r="0.95" fill="#74ac46" fill-opacity="0.85"/>
<circle cx="510.6" cy="234.8" r="0.95" fill="#74ac46" fill-opacity="0.85"/>
<circle cx="495.9" cy="235.6" r="0.95" fill="#2a3ef0" fill-opacity="0.85"/>
<circle cx="517.7" cy="239.5" r="0.95" fill="#74ac46" fill-opacity="0.85"/>
<circle cx="493.8" cy="235.6" r="0.95" fill="#2a3ef0" fill-opacity="0.85"/>
<circle cx="500.6" cy="238.1" r="0.95" fill="#74ac46" fill-opacity="0.85"/>
<circle cx="493.7" cy="238.5" r="0.95" fill="#74ac46" fill-opacity="0.85"/>
<circle cx="496.4" cy="238.1" r="0.95" fill="#2a3ef0" fill-opacity="0.85"/>
<circle cx="505.7" cy="243.4" r="0.95" fill="#74ac46" fill-opacity="0.85"/>
<circle cx="507.8" cy="240.3" r="0.95" fill="#2a3ef0" fill-opacity="0.85"/>
<circle cx="495.8" cy="233.1" r="0.95" fill="#2a3ef0" fill-opacity="0.85"/>
<circle cx="500.8" cy="238.5" r="0.95" fill="#74ac46" fill-opacity="0.85"/>
<circle cx="513.9" cy="240.2" r="0.95" fill="#2a3ef0" fill-opacity="0.85"/>
<circle cx="505.2" cy="238.0" r="0.95" fill="#2a3ef0" fill-opacity="0.85"/>
<circle cx="495.8" cy="237.7" r="0.95" fill="#2a3ef0" fill-opacity="0.85"/>
<circle cx="517.8" cy="237.7" r="0.95" fill="#74ac46" fill-opacity="0.85"/>
<circle cx="517.8" cy="241.6" r="0.95" fill="#2a3ef0" fill-opacity="0.85"/>
<circle cx="510.7" cy="242.4" r="0.95" fill="#74ac46" fill-opacity="0.85"/>
<circle cx="498.7" cy="240.0" r="0.95" fill="#2a3ef0" fill-opacity="0.85"/>
<circle cx="515.0" cy="241.8" r="0.95" fill="#2a3ef0" fill-opacity="0.85"/>
<circle cx="496.6" cy="238.4" r="0.95" fill="#74ac46" fill-opacity="0.85"/>
<circle cx="512.3" cy="238.8" r="0.95" fill="#2a3ef0" fill-opacity="0.85"/>
<circle cx="494.2" cy="239.7" r="0.95" fill="#74ac46" fill-opacity="0.85"/>
<circle cx="499.9" cy="235.3" r="0.95" fill="#74ac46" fill-opacity="0.85"/>
<circle cx="502.8" cy="235.9" r="0.95" fill="#74ac46" fill-opacity="0.85"/>
<circle cx="512.4" cy="237.1" r="0.95" fill="#74ac46" fill-opacity="0.85"/>
<circle cx="504.6" cy="235.1" r="0.95" fill="#2a3ef0" fill-opacity="0.85"/>
<circle cx="504.4" cy="240.0" r="0.95" fill="#74ac46" fill-opacity="0.85"/>
<circle cx="494.8" cy="235.9" r="0.95" fill="#2a3ef0" fill-opacity="0.85"/>
<circle cx="508.8" cy="244.1" r="0.95" fill="#2a3ef0" fill-opacity="0.85"/>
<circle cx="583.0" cy="253.4" r="0.95" fill="#74ac46" fill-opacity="0.8"/>
<circle cx="545.6" cy="267.0" r="0.95" fill="#2a3ef0" fill-opacity="0.8"/>
<circle cx="573.0" cy="238.0" r="0.95" fill="#8a8a8a" fill-opacity="0.8"/>
<circle cx="614.0" cy="245.2" r="0.95" fill="#2a3ef0" fill-opacity="0.8"/>
<circle cx="650.3" cy="245.4" r="0.95" fill="#74ac46" fill-opacity="0.8"/>
<circle cx="648.9" cy="240.4" r="0.95" fill="#74ac46" fill-opacity="0.8"/>
<circle cx="606.1" cy="249.8" r="0.95" fill="#74ac46" fill-opacity="0.8"/>
<circle cx="645.7" cy="244.5" r="0.95" fill="#8a8a8a" fill-opacity="0.8"/>
<circle cx="673.3" cy="243.3" r="0.95" fill="#74ac46" fill-opacity="0.8"/>
<circle cx="582.0" cy="251.0" r="0.95" fill="#2a3ef0" fill-opacity="0.8"/>
<circle cx="588.7" cy="235.1" r="0.95" fill="#8a8a8a" fill-opacity="0.8"/>
<circle cx="530.4" cy="243.3" r="0.95" fill="#8a8a8a" fill-opacity="0.8"/>
<circle cx="585.5" cy="235.8" r="0.95" fill="#8a8a8a" fill-opacity="0.8"/>
<circle cx="560.9" cy="240.0" r="0.95" fill="#8a8a8a" fill-opacity="0.8"/>
<circle cx="595.7" cy="240.8" r="0.95" fill="#74ac46" fill-opacity="0.8"/>
<circle cx="537.6" cy="283.4" r="0.95" fill="#74ac46" fill-opacity="0.8"/>
<circle cx="525.3" cy="275.8" r="0.95" fill="#2a3ef0" fill-opacity="0.8"/>
<circle cx="616.5" cy="237.2" r="0.95" fill="#74ac46" fill-opacity="0.8"/>
<circle cx="521.1" cy="273.8" r="0.95" fill="#8a8a8a" fill-opacity="0.8"/>
<circle cx="526.7" cy="257.7" r="0.95" fill="#8a8a8a" fill-opacity="0.8"/>
<circle cx="672.1" cy="242.4" r="0.95" fill="#8a8a8a" fill-opacity="0.8"/>
<circle cx="569.1" cy="259.8" r="0.95" fill="#2a3ef0" fill-opacity="0.8"/>
<circle cx="659.4" cy="248.1" r="0.95" fill="#2a3ef0" fill-opacity="0.8"/>
<circle cx="593.8" cy="239.6" r="0.95" fill="#74ac46" fill-opacity="0.8"/>
<circle cx="527.1" cy="251.6" r="0.95" fill="#74ac46" fill-opacity="0.8"/>
<circle cx="660.0" cy="236.7" r="0.95" fill="#8a8a8a" fill-opacity="0.8"/>
<circle cx="611.9" cy="236.6" r="0.95" fill="#8a8a8a" fill-opacity="0.8"/>
<circle cx="661.9" cy="242.4" r="0.95" fill="#74ac46" fill-opacity="0.8"/>
<circle cx="665.6" cy="247.7" r="0.95" fill="#2a3ef0" fill-opacity="0.8"/>
<circle cx="545.2" cy="270.2" r="0.95" fill="#2a3ef0" fill-opacity="0.8"/>
<circle cx="663.3" cy="239.7" r="0.95" fill="#74ac46" fill-opacity="0.8"/>
<circle cx="547.3" cy="274.2" r="0.95" fill="#74ac46" fill-opacity="0.8"/>
<circle cx="572.5" cy="237.5" r="0.95" fill="#8a8a8a" fill-opacity="0.8"/>
<circle cx="628.1" cy="235.2" r="0.95" fill="#8a8a8a" fill-opacity="0.8"/>
<circle cx="568.1" cy="259.3" r="0.95" fill="#74ac46" fill-opacity="0.8"/>
<circle cx="580.8" cy="237.2" r="0.95" fill="#74ac46" fill-opacity="0.8"/>
<circle cx="664.6" cy="235.3" r="0.95" fill="#74ac46" fill-opacity="0.8"/>
<circle cx="590.4" cy="253.3" r="0.95" fill="#2a3ef0" fill-opacity="0.8"/>
<circle cx="621.4" cy="248.6" r="0.95" fill="#2a3ef0" fill-opacity="0.8"/>
<circle cx="546.8" cy="263.2" r="0.95" fill="#2a3ef0" fill-opacity="0.8"/>
<circle cx="545.2" cy="251.5" r="0.95" fill="#74ac46" fill-opacity="0.8"/>
<circle cx="580.4" cy="238.7" r="0.95" fill="#8a8a8a" fill-opacity="0.8"/>
<circle cx="647.5" cy="242.5" r="0.95" fill="#74ac46" fill-opacity="0.8"/>
<circle cx="528.8" cy="276.8" r="0.95" fill="#2a3ef0" fill-opacity="0.8"/>
<circle cx="562.8" cy="261.9" r="0.95" fill="#2a3ef0" fill-opacity="0.8"/>
<circle cx="638.7" cy="243.0" r="0.95" fill="#8a8a8a" fill-opacity="0.8"/>
<circle cx="642.0" cy="254.7" r="0.95" fill="#2a3ef0" fill-opacity="0.8"/>
<circle cx="576.2" cy="235.4" r="0.95" fill="#74ac46" fill-opacity="0.8"/>
<circle cx="656.8" cy="237.6" r="0.95" fill="#2a3ef0" fill-opacity="0.8"/>
<circle cx="646.1" cy="239.9" r="0.95" fill="#8a8a8a" fill-opacity="0.8"/>
<circle cx="630.7" cy="248.1" r="0.95" fill="#2a3ef0" fill-opacity="0.8"/>
<circle cx="561.4" cy="246.4" r="0.95" fill="#8a8a8a" fill-opacity="0.8"/>
<circle cx="618.3" cy="240.3" r="0.95" fill="#8a8a8a" fill-opacity="0.8"/>
<circle cx="520.2" cy="281.9" r="0.95" fill="#8a8a8a" fill-opacity="0.8"/>
<circle cx="658.4" cy="245.9" r="0.95" fill="#2a3ef0" fill-opacity="0.8"/>
<circle cx="586.2" cy="251.1" r="0.95" fill="#2a3ef0" fill-opacity="0.8"/>
<circle cx="633.0" cy="243.1" r="0.95" fill="#74ac46" fill-opacity="0.8"/>
<circle cx="549.2" cy="270.0" r="0.95" fill="#74ac46" fill-opacity="0.8"/>
<circle cx="651.7" cy="253.9" r="0.95" fill="#2a3ef0" fill-opacity="0.8"/>
<circle cx="537.8" cy="246.1" r="0.95" fill="#8a8a8a" fill-opacity="0.8"/>
<circle cx="655.4" cy="239.8" r="0.95" fill="#74ac46" fill-opacity="0.8"/>
<circle cx="531.3" cy="247.8" r="0.95" fill="#8a8a8a" fill-opacity="0.8"/>
<circle cx="614.9" cy="246.5" r="0.95" fill="#74ac46" fill-opacity="0.8"/>
<circle cx="651.2" cy="249.1" r="0.95" fill="#2a3ef0" fill-opacity="0.8"/>
<circle cx="551.7" cy="239.6" r="0.95" fill="#8a8a8a" fill-opacity="0.8"/>
<circle cx="623.0" cy="246.6" r="0.95" fill="#2a3ef0" fill-opacity="0.8"/>
<circle cx="659.6" cy="242.0" r="0.95" fill="#74ac46" fill-opacity="0.8"/>
<circle cx="670.0" cy="243.1" r="0.95" fill="#2a3ef0" fill-opacity="0.8"/>
<circle cx="569.5" cy="257.6" r="0.95" fill="#74ac46" fill-opacity="0.8"/>
<circle cx="635.9" cy="241.5" r="0.95" fill="#8a8a8a" fill-opacity="0.8"/>
<circle cx="531.3" cy="252.0" r="0.95" fill="#74ac46" fill-opacity="0.8"/>
<circle cx="602.4" cy="248.0" r="0.95" fill="#2a3ef0" fill-opacity="0.8"/>
<circle cx="642.4" cy="240.4" r="0.95" fill="#8a8a8a" fill-opacity="0.8"/>
<circle cx="670.7" cy="240.9" r="0.95" fill="#8a8a8a" fill-opacity="0.8"/>
<circle cx="523.9" cy="274.0" r="0.95" fill="#74ac46" fill-opacity="0.8"/>
<circle cx="631.6" cy="244.4" r="0.95" fill="#74ac46" fill-opacity="0.8"/>
<circle cx="663.7" cy="242.0" r="0.95" fill="#8a8a8a" fill-opacity="0.8"/>
<circle cx="594.3" cy="239.3" r="0.95" fill="#8a8a8a" fill-opacity="0.8"/>
<circle cx="565.4" cy="260.7" r="0.95" fill="#2a3ef0" fill-opacity="0.8"/>
<circle cx="554.9" cy="244.7" r="0.95" fill="#74ac46" fill-opacity="0.8"/>
<circle cx="658.0" cy="245.6" r="0.95" fill="#74ac46" fill-opacity="0.8"/>
<circle cx="568.8" cy="235.9" r="0.95" fill="#8a8a8a" fill-opacity="0.8"/>
<circle cx="614.2" cy="249.7" r="0.95" fill="#2a3ef0" fill-opacity="0.8"/>
<circle cx="538.7" cy="246.6" r="0.95" fill="#74ac46" fill-opacity="0.8"/>
<circle cx="576.5" cy="258.9" r="0.95" fill="#74ac46" fill-opacity="0.8"/>
<circle cx="621.1" cy="236.1" r="0.95" fill="#74ac46" fill-opacity="0.8"/>
<circle cx="549.8" cy="246.5" r="0.95" fill="#74ac46" fill-opacity="0.8"/>
<circle cx="673.9" cy="239.8" r="0.95" fill="#74ac46" fill-opacity="0.8"/>
<circle cx="644.5" cy="233.1" r="0.95" fill="#2a3ef0" fill-opacity="0.8"/>
<circle cx="635.0" cy="243.8" r="0.95" fill="#8a8a8a" fill-opacity="0.8"/>
<circle cx="649.4" cy="238.2" r="0.95" fill="#8a8a8a" fill-opacity="0.8"/>
<circle cx="559.1" cy="255.5" r="0.95" fill="#2a3ef0" fill-opacity="0.8"/>
<circle cx="591.0" cy="247.8" r="0.95" fill="#2a3ef0" fill-opacity="0.8"/>
<circle cx="661.9" cy="244.3" r="0.95" fill="#2a3ef0" fill-opacity="0.8"/>
<circle cx="589.9" cy="253.3" r="0.95" fill="#2a3ef0" fill-opacity="0.8"/>
<circle cx="667.2" cy="248.9" r="0.95" fill="#2a3ef0" fill-opacity="0.8"/>
<circle cx="551.0" cy="268.4" r="0.95" fill="#74ac46" fill-opacity="0.8"/>
<circle cx="523.9" cy="263.4" r="0.95" fill="#8a8a8a" fill-opacity="0.8"/>
<circle cx="554.2" cy="262.5" r="0.95" fill="#74ac46" fill-opacity="0.8"/>
<circle cx="651.7" cy="240.7" r="0.95" fill="#74ac46" fill-opacity="0.8"/>
<circle cx="635.7" cy="241.3" r="0.95" fill="#2a3ef0" fill-opacity="0.8"/>
<circle cx="625.8" cy="247.6" r="0.95" fill="#2a3ef0" fill-opacity="0.8"/>
<circle cx="596.6" cy="237.2" r="0.95" fill="#74ac46" fill-opacity="0.8"/>
<circle cx="603.8" cy="245.9" r="0.95" fill="#74ac46" fill-opacity="0.8"/>
<circle cx="535.9" cy="275.3" r="0.95" fill="#2a3ef0" fill-opacity="0.8"/>
<circle cx="566.5" cy="247.0" r="0.95" fill="#74ac46" fill-opacity="0.8"/>
<circle cx="539.6" cy="269.5" r="0.95" fill="#2a3ef0" fill-opacity="0.8"/>
<circle cx="629.5" cy="238.4" r="0.95" fill="#8a8a8a" fill-opacity="0.8"/>
<circle cx="634.1" cy="245.0" r="0.95" fill="#2a3ef0" fill-opacity="0.8"/>
<circle cx="552.4" cy="258.7" r="0.95" fill="#2a3ef0" fill-opacity="0.8"/>
<circle cx="604.7" cy="248.7" r="0.95" fill="#74ac46" fill-opacity="0.8"/>
<circle cx="531.6" cy="294.8" r="0.95" fill="#74ac46" fill-opacity="0.8"/>
<circle cx="558.4" cy="252.3" r="0.95" fill="#2a3ef0" fill-opacity="0.8"/>
<circle cx="520.6" cy="301.0" r="0.95" fill="#2a3ef0" fill-opacity="0.8"/>
<circle cx="674.8" cy="245.7" r="0.95" fill="#2a3ef0" fill-opacity="0.8"/>
<circle cx="628.1" cy="242.7" r="0.95" fill="#2a3ef0" fill-opacity="0.8"/>
<circle cx="566.9" cy="239.5" r="0.95" fill="#8a8a8a" fill-opacity="0.8"/>
<circle cx="572.0" cy="251.2" r="0.95" fill="#2a3ef0" fill-opacity="0.8"/>
<circle cx="650.6" cy="246.4" r="0.95" fill="#74ac46" fill-opacity="0.8"/>
<circle cx="621.6" cy="243.1" r="0.95" fill="#74ac46" fill-opacity="0.8"/>
<circle cx="584.5" cy="234.9" r="0.95" fill="#8a8a8a" fill-opacity="0.8"/>
<circle cx="536.4" cy="242.7" r="0.95" fill="#8a8a8a" fill-opacity="0.8"/>
<circle cx="611.4" cy="239.3" r="0.95" fill="#8a8a8a" fill-opacity="0.8"/>
<circle cx="573.7" cy="254.3" r="0.95" fill="#2a3ef0" fill-opacity="0.8"/>
<circle cx="593.1" cy="247.0" r="0.95" fill="#2a3ef0" fill-opacity="0.8"/>
<circle cx="537.3" cy="254.5" r="0.95" fill="#74ac46" fill-opacity="0.8"/>
<circle cx="561.2" cy="259.0" r="0.95" fill="#74ac46" fill-opacity="0.8"/>
<circle cx="595.2" cy="246.0" r="0.95" fill="#2a3ef0" fill-opacity="0.8"/>
<circle cx="527.4" cy="304.3" r="0.95" fill="#74ac46" fill-opacity="0.8"/>
<circle cx="539.9" cy="270.4" r="0.95" fill="#2a3ef0" fill-opacity="0.8"/>
<circle cx="591.5" cy="240.0" r="0.95" fill="#8a8a8a" fill-opacity="0.8"/>
<circle cx="600.7" cy="235.5" r="0.95" fill="#8a8a8a" fill-opacity="0.8"/>
<circle cx="588.7" cy="241.4" r="0.95" fill="#74ac46" fill-opacity="0.8"/>
<circle cx="631.3" cy="247.2" r="0.95" fill="#8a8a8a" fill-opacity="0.8"/>
<circle cx="604.5" cy="247.2" r="0.95" fill="#2a3ef0" fill-opacity="0.8"/>
<circle cx="635.9" cy="242.9" r="0.95" fill="#74ac46" fill-opacity="0.8"/>
<circle cx="522.8" cy="315.8" r="0.95" fill="#74ac46" fill-opacity="0.8"/>
<circle cx="621.6" cy="234.9" r="0.95" fill="#8a8a8a" fill-opacity="0.8"/>
<circle cx="653.3" cy="244.7" r="0.95" fill="#2a3ef0" fill-opacity="0.8"/>
<circle cx="672.8" cy="248.8" r="0.95" fill="#74ac46" fill-opacity="0.8"/>
<circle cx="625.1" cy="248.1" r="0.95" fill="#74ac46" fill-opacity="0.8"/>
<circle cx="634.1" cy="241.5" r="0.95" fill="#74ac46" fill-opacity="0.8"/>
<circle cx="673.3" cy="251.3" r="0.95" fill="#2a3ef0" fill-opacity="0.8"/>
<circle cx="672.5" cy="241.6" r="0.95" fill="#74ac46" fill-opacity="0.8"/>
<circle cx="670.7" cy="240.1" r="0.95" fill="#2a3ef0" fill-opacity="0.8"/>
<circle cx="588.1" cy="251.5" r="0.95" fill="#74ac46" fill-opacity="0.8"/>
<circle cx="539.2" cy="263.1" r="0.95" fill="#2a3ef0" fill-opacity="0.8"/>
<circle cx="620.7" cy="244.2" r="0.95" fill="#8a8a8a" fill-opacity="0.8"/>
<circle cx="573.9" cy="260.4" r="0.95" fill="#2a3ef0" fill-opacity="0.8"/>
<circle cx="668.2" cy="243.6" r="0.95" fill="#74ac46" fill-opacity="0.8"/>
<circle cx="656.3" cy="243.1" r="0.95" fill="#74ac46" fill-opacity="0.8"/>
<circle cx="563.7" cy="239.6" r="0.95" fill="#8a8a8a" fill-opacity="0.8"/>
<circle cx="578.1" cy="234.9" r="0.95" fill="#8a8a8a" fill-opacity="0.8"/>
<circle cx="565.1" cy="243.2" r="0.95" fill="#74ac46" fill-opacity="0.8"/>
<circle cx="615.6" cy="242.0" r="0.95" fill="#74ac46" fill-opacity="0.8"/>
<circle cx="617.9" cy="237.1" r="0.95" fill="#74ac46" fill-opacity="0.8"/>
<circle cx="578.5" cy="237.7" r="0.95" fill="#8a8a8a" fill-opacity="0.8"/>
<circle cx="570.5" cy="254.0" r="0.95" fill="#74ac46" fill-opacity="0.8"/>
<circle cx="519.1" cy="317.3" r="0.95" fill="#2a3ef0" fill-opacity="0.8"/>
<circle cx="607.2" cy="238.6" r="0.95" fill="#8a8a8a" fill-opacity="0.8"/>
<circle cx="529.9" cy="252.8" r="0.95" fill="#8a8a8a" fill-opacity="0.8"/>
<circle cx="585.5" cy="256.7" r="0.95" fill="#2a3ef0" fill-opacity="0.8"/>
<circle cx="642.4" cy="239.6" r="0.95" fill="#74ac46" fill-opacity="0.8"/>
<circle cx="572.8" cy="253.1" r="0.95" fill="#2a3ef0" fill-opacity="0.8"/>
<circle cx="559.1" cy="245.9" r="0.95" fill="#74ac46" fill-opacity="0.8"/>
<circle cx="530.6" cy="296.0" r="0.95" fill="#74ac46" fill-opacity="0.8"/>
<circle cx="617.9" cy="234.7" r="0.95" fill="#8a8a8a" fill-opacity="0.8"/>
<circle cx="532.9" cy="271.5" r="0.95" fill="#2a3ef0" fill-opacity="0.8"/>
<circle cx="538.0" cy="283.0" r="0.95" fill="#74ac46" fill-opacity="0.8"/>
<circle cx="666.0" cy="248.8" r="0.95" fill="#2a3ef0" fill-opacity="0.8"/>
<circle cx="663.1" cy="248.0" r="0.95" fill="#2a3ef0" fill-opacity="0.8"/>
<circle cx="557.5" cy="266.3" r="0.95" fill="#74ac46" fill-opacity="0.8"/>
<circle cx="600.3" cy="240.7" r="0.95" fill="#74ac46" fill-opacity="0.8"/>
<circle cx="522.0" cy="264.7" r="0.95" fill="#8a8a8a" fill-opacity="0.8"/>
<circle cx="538.2" cy="246.1" r="0.95" fill="#8a8a8a" fill-opacity="0.8"/>
<circle cx="660.5" cy="241.0" r="0.95" fill="#74ac46" fill-opacity="0.8"/>
<circle cx="654.5" cy="241.4" r="0.95" fill="#74ac46" fill-opacity="0.8"/>
<circle cx="661.2" cy="247.3" r="0.95" fill="#2a3ef0" fill-opacity="0.8"/>
<circle cx="613.5" cy="248.3" r="0.95" fill="#74ac46" fill-opacity="0.8"/>
<circle cx="654.9" cy="237.7" r="0.95" fill="#8a8a8a" fill-opacity="0.8"/>
<circle cx="584.5" cy="243.9" r="0.95" fill="#74ac46" fill-opacity="0.8"/>
<circle cx="658.2" cy="240.5" r="0.95" fill="#8a8a8a" fill-opacity="0.8"/>
<circle cx="626.7" cy="238.3" r="0.95" fill="#2a3ef0" fill-opacity="0.8"/>
<circle cx="604.0" cy="248.5" r="0.95" fill="#2a3ef0" fill-opacity="0.8"/>
<circle cx="617.0" cy="242.9" r="0.95" fill="#8a8a8a" fill-opacity="0.8"/>
<circle cx="660.9" cy="236.8" r="0.95" fill="#8a8a8a" fill-opacity="0.8"/>
<circle cx="619.7" cy="239.5" r="0.95" fill="#8a8a8a" fill-opacity="0.8"/>
<circle cx="549.3" cy="242.7" r="0.95" fill="#74ac46" fill-opacity="0.8"/>
<circle cx="658.6" cy="236.9" r="0.95" fill="#8a8a8a" fill-opacity="0.8"/>
<circle cx="671.6" cy="241.4" r="0.95" fill="#8a8a8a" fill-opacity="0.8"/>
<circle cx="601.0" cy="249.1" r="0.95" fill="#2a3ef0" fill-opacity="0.8"/>
<circle cx="538.7" cy="244.8" r="0.95" fill="#8a8a8a" fill-opacity="0.8"/>
<circle cx="643.2" cy="243.1" r="0.95" fill="#74ac46" fill-opacity="0.8"/>
<circle cx="635.3" cy="244.5" r="0.95" fill="#2a3ef0" fill-opacity="0.8"/>
<circle cx="641.0" cy="243.8" r="0.95" fill="#2a3ef0" fill-opacity="0.8"/>
<circle cx="534.1" cy="246.4" r="0.95" fill="#8a8a8a" fill-opacity="0.8"/>
<circle cx="523.4" cy="295.7" r="0.95" fill="#2a3ef0" fill-opacity="0.8"/>
<circle cx="644.7" cy="241.2" r="0.95" fill="#74ac46" fill-opacity="0.8"/>
<circle cx="647.8" cy="243.3" r="0.95" fill="#2a3ef0" fill-opacity="0.8"/>
<circle cx="535.9" cy="246.8" r="0.95" fill="#74ac46" fill-opacity="0.8"/>
<circle cx="569.7" cy="252.6" r="0.95" fill="#2a3ef0" fill-opacity="0.8"/>
<circle cx="531.8" cy="254.4" r="0.95" fill="#74ac46" fill-opacity="0.8"/>
<circle cx="617.0" cy="243.9" r="0.95" fill="#74ac46" fill-opacity="0.8"/>
<circle cx="549.6" cy="274.6" r="0.95" fill="#74ac46" fill-opacity="0.8"/>
<circle cx="642.0" cy="240.0" r="0.95" fill="#74ac46" fill-opacity="0.8"/>
<circle cx="594.7" cy="240.6" r="0.95" fill="#8a8a8a" fill-opacity="0.8"/>
<circle cx="571.8" cy="251.0" r="0.95" fill="#2a3ef0" fill-opacity="0.8"/>
<circle cx="609.4" cy="249.5" r="0.95" fill="#74ac46" fill-opacity="0.8"/>
<circle cx="562.3" cy="254.2" r="0.95" fill="#2a3ef0" fill-opacity="0.8"/>
<circle cx="651.5" cy="249.8" r="0.95" fill="#74ac46" fill-opacity="0.8"/>
<circle cx="565.6" cy="248.2" r="0.95" fill="#74ac46" fill-opacity="0.8"/>
<circle cx="521.6" cy="277.9" r="0.95" fill="#74ac46" fill-opacity="0.8"/>
<circle cx="668.2" cy="247.1" r="0.95" fill="#2a3ef0" fill-opacity="0.8"/>
<circle cx="539.2" cy="244.4" r="0.95" fill="#8a8a8a" fill-opacity="0.8"/>
<circle cx="660.9" cy="239.8" r="0.95" fill="#74ac46" fill-opacity="0.8"/>
<circle cx="533.1" cy="253.4" r="0.95" fill="#74ac46" fill-opacity="0.8"/>
<circle cx="632.5" cy="246.7" r="0.95" fill="#74ac46" fill-opacity="0.8"/>
<circle cx="550.7" cy="255.5" r="0.95" fill="#2a3ef0" fill-opacity="0.8"/>
<circle cx="620.5" cy="244.5" r="0.95" fill="#74ac46" fill-opacity="0.8"/>
<circle cx="631.6" cy="252.5" r="0.95" fill="#2a3ef0" fill-opacity="0.8"/>
<circle cx="592.4" cy="241.0" r="0.95" fill="#8a8a8a" fill-opacity="0.8"/>
<circle cx="538.2" cy="266.6" r="0.95" fill="#2a3ef0" fill-opacity="0.8"/>
<circle cx="554.2" cy="253.9" r="0.95" fill="#2a3ef0" fill-opacity="0.8"/>
<circle cx="558.9" cy="264.4" r="0.95" fill="#74ac46" fill-opacity="0.8"/>
<circle cx="608.9" cy="248.1" r="0.95" fill="#74ac46" fill-opacity="0.8"/>
<circle cx="562.6" cy="264.6" r="0.95" fill="#74ac46" fill-opacity="0.8"/>
<circle cx="527.4" cy="278.9" r="0.95" fill="#2a3ef0" fill-opacity="0.8"/>
<circle cx="633.9" cy="247.4" r="0.95" fill="#74ac46" fill-opacity="0.8"/>
<circle cx="589.2" cy="236.6" r="0.95" fill="#74ac46" fill-opacity="0.8"/>
<circle cx="613.7" cy="242.0" r="0.95" fill="#74ac46" fill-opacity="0.8"/>
<circle cx="674.6" cy="249.6" r="0.95" fill="#2a3ef0" fill-opacity="0.8"/>
<circle cx="575.1" cy="255.0" r="0.95" fill="#74ac46" fill-opacity="0.8"/>
<circle cx="607.5" cy="257.3" r="0.95" fill="#2a3ef0" fill-opacity="0.8"/>
<circle cx="667.4" cy="243.8" r="0.95" fill="#2a3ef0" fill-opacity="0.8"/>
<circle cx="555.6" cy="263.0" r="0.95" fill="#74ac46" fill-opacity="0.8"/>
<circle cx="663.5" cy="247.8" r="0.95" fill="#74ac46" fill-opacity="0.8"/>
<circle cx="598.9" cy="245.1" r="0.95" fill="#2a3ef0" fill-opacity="0.8"/>
<circle cx="585.3" cy="249.4" r="0.95" fill="#74ac46" fill-opacity="0.8"/>
<circle cx="525.5" cy="307.7" r="0.95" fill="#74ac46" fill-opacity="0.8"/>
<circle cx="639.2" cy="241.0" r="0.95" fill="#74ac46" fill-opacity="0.8"/>
<circle cx="575.5" cy="247.3" r="0.95" fill="#2a3ef0" fill-opacity="0.8"/>
<circle cx="654.0" cy="248.3" r="0.95" fill="#2a3ef0" fill-opacity="0.8"/>
<circle cx="550.1" cy="252.6" r="0.95" fill="#2a3ef0" fill-opacity="0.8"/>
<circle cx="612.8" cy="240.2" r="0.95" fill="#74ac46" fill-opacity="0.8"/>
<circle cx="541.0" cy="265.5" r="0.95" fill="#2a3ef0" fill-opacity="0.8"/>
<circle cx="643.6" cy="243.7" r="0.95" fill="#2a3ef0" fill-opacity="0.8"/>
<circle cx="541.0" cy="247.4" r="0.95" fill="#74ac46" fill-opacity="0.8"/>
<circle cx="583.9" cy="251.0" r="0.95" fill="#2a3ef0" fill-opacity="0.8"/>
<circle cx="562.1" cy="257.5" r="0.95" fill="#2a3ef0" fill-opacity="0.8"/>
<circle cx="554.4" cy="239.8" r="0.95" fill="#74ac46" fill-opacity="0.8"/>
<circle cx="673.7" cy="245.1" r="0.95" fill="#2a3ef0" fill-opacity="0.8"/>
<circle cx="605.8" cy="238.1" r="0.95" fill="#8a8a8a" fill-opacity="0.8"/>
<circle cx="600.7" cy="239.1" r="0.95" fill="#74ac46" fill-opacity="0.8"/>
<circle cx="644.7" cy="242.2" r="0.95" fill="#2a3ef0" fill-opacity="0.8"/>
<circle cx="643.3" cy="235.6" r="0.95" fill="#74ac46" fill-opacity="0.8"/>
<circle cx="619.1" cy="249.5" r="0.95" fill="#2a3ef0" fill-opacity="0.8"/>
<circle cx="624.2" cy="252.4" r="0.95" fill="#2a3ef0" fill-opacity="0.8"/>
<circle cx="580.6" cy="255.2" r="0.95" fill="#74ac46" fill-opacity="0.8"/>
<circle cx="667.9" cy="240.0" r="0.95" fill="#74ac46" fill-opacity="0.8"/>
<circle cx="673.4" cy="239.5" r="0.95" fill="#8a8a8a" fill-opacity="0.8"/>
<circle cx="601.7" cy="244.9" r="0.95" fill="#74ac46" fill-opacity="0.8"/>
<circle cx="625.3" cy="241.5" r="0.95" fill="#8a8a8a" fill-opacity="0.8"/>
<circle cx="613.1" cy="246.2" r="0.95" fill="#74ac46" fill-opacity="0.8"/>
<circle cx="610.9" cy="237.8" r="0.95" fill="#74ac46" fill-opacity="0.8"/>
<circle cx="562.6" cy="258.8" r="0.95" fill="#2a3ef0" fill-opacity="0.8"/>
<circle cx="559.8" cy="262.0" r="0.95" fill="#74ac46" fill-opacity="0.8"/>
<circle cx="626.5" cy="246.6" r="0.95" fill="#2a3ef0" fill-opacity="0.8"/>
<circle cx="529.4" cy="260.6" r="0.95" fill="#74ac46" fill-opacity="0.8"/>
<circle cx="599.2" cy="244.6" r="0.95" fill="#2a3ef0" fill-opacity="0.8"/>
<circle cx="563.0" cy="257.6" r="0.95" fill="#74ac46" fill-opacity="0.8"/>
<circle cx="666.8" cy="243.5" r="0.95" fill="#74ac46" fill-opacity="0.8"/>
<circle cx="594.1" cy="252.8" r="0.95" fill="#74ac46" fill-opacity="0.8"/>
<circle cx="652.4" cy="245.5" r="0.95" fill="#2a3ef0" fill-opacity="0.8"/>
<circle cx="662.8" cy="240.8" r="0.95" fill="#74ac46" fill-opacity="0.8"/>
<circle cx="540.4" cy="286.7" r="0.95" fill="#74ac46" fill-opacity="0.8"/>
<circle cx="562.8" cy="240.5" r="0.95" fill="#74ac46" fill-opacity="0.8"/>
<circle cx="624.4" cy="244.2" r="0.95" fill="#2a3ef0" fill-opacity="0.8"/>
<circle cx="640.1" cy="248.8" r="0.95" fill="#2a3ef0" fill-opacity="0.8"/>
<circle cx="594.5" cy="251.2" r="0.95" fill="#74ac46" fill-opacity="0.8"/>
<circle cx="630.8" cy="251.7" r="0.95" fill="#2a3ef0" fill-opacity="0.8"/>
<circle cx="633.2" cy="235.5" r="0.95" fill="#8a8a8a" fill-opacity="0.8"/>
<circle cx="620.0" cy="247.3" r="0.95" fill="#2a3ef0" fill-opacity="0.8"/>
<circle cx="609.5" cy="245.8" r="0.95" fill="#2a3ef0" fill-opacity="0.8"/>
<circle cx="649.2" cy="253.2" r="0.95" fill="#2a3ef0" fill-opacity="0.8"/>
<circle cx="656.8" cy="244.3" r="0.95" fill="#74ac46" fill-opacity="0.8"/>
<circle cx="572.8" cy="258.1" r="0.95" fill="#74ac46" fill-opacity="0.8"/>
<circle cx="591.3" cy="254.5" r="0.95" fill="#2a3ef0" fill-opacity="0.8"/>
<circle cx="636.7" cy="248.2" r="0.95" fill="#2a3ef0" fill-opacity="0.8"/>
<circle cx="605.6" cy="248.5" r="0.95" fill="#2a3ef0" fill-opacity="0.8"/>
<circle cx="541.9" cy="243.6" r="0.95" fill="#74ac46" fill-opacity="0.8"/>
<circle cx="544.1" cy="264.3" r="0.95" fill="#2a3ef0" fill-opacity="0.8"/>
<circle cx="538.5" cy="270.5" r="0.95" fill="#2a3ef0" fill-opacity="0.8"/>
<circle cx="621.1" cy="235.7" r="0.95" fill="#8a8a8a" fill-opacity="0.8"/>
<circle cx="532.7" cy="251.4" r="0.95" fill="#8a8a8a" fill-opacity="0.8"/>
<circle cx="564.4" cy="263.1" r="0.95" fill="#74ac46" fill-opacity="0.8"/>
<circle cx="640.4" cy="252.2" r="0.95" fill="#2a3ef0" fill-opacity="0.8"/>
<circle cx="600.6" cy="249.2" r="0.95" fill="#74ac46" fill-opacity="0.8"/>
<circle cx="551.9" cy="263.0" r="0.95" fill="#74ac46" fill-opacity="0.8"/>
<circle cx="626.9" cy="248.1" r="0.95" fill="#74ac46" fill-opacity="0.8"/>
<circle cx="587.1" cy="247.0" r="0.95" fill="#2a3ef0" fill-opacity="0.8"/>
<circle cx="537.3" cy="245.4" r="0.95" fill="#8a8a8a" fill-opacity="0.8"/>
<circle cx="629.5" cy="238.8" r="0.95" fill="#2a3ef0" fill-opacity="0.8"/>
<circle cx="597.8" cy="247.6" r="0.95" fill="#74ac46" fill-opacity="0.8"/>
<circle cx="581.8" cy="235.6" r="0.95" fill="#8a8a8a" fill-opacity="0.8"/>
<circle cx="633.4" cy="244.4" r="0.95" fill="#74ac46" fill-opacity="0.8"/>
<circle cx="545.0" cy="273.5" r="0.95" fill="#74ac46" fill-opacity="0.8"/>
<circle cx="595.5" cy="252.2" r="0.95" fill="#74ac46" fill-opacity="0.8"/>
<circle cx="586.9" cy="236.5" r="0.95" fill="#8a8a8a" fill-opacity="0.8"/>
<circle cx="523.4" cy="270.5" r="0.95" fill="#74ac46" fill-opacity="0.8"/>
<circle cx="579.3" cy="250.3" r="0.95" fill="#74ac46" fill-opacity="0.8"/>
<circle cx="621.1" cy="249.7" r="0.95" fill="#2a3ef0" fill-opacity="0.8"/>
<circle cx="644.7" cy="239.5" r="0.95" fill="#8a8a8a" fill-opacity="0.8"/>
<circle cx="580.4" cy="243.3" r="0.95" fill="#74ac46" fill-opacity="0.8"/>
<circle cx="566.3" cy="260.1" r="0.95" fill="#74ac46" fill-opacity="0.8"/>
<circle cx="597.5" cy="248.2" r="0.95" fill="#74ac46" fill-opacity="0.8"/>
<circle cx="545.6" cy="241.4" r="0.95" fill="#8a8a8a" fill-opacity="0.8"/>
<circle cx="551.7" cy="245.5" r="0.95" fill="#74ac46" fill-opacity="0.8"/>
<circle cx="542.4" cy="261.2" r="0.95" fill="#2a3ef0" fill-opacity="0.8"/>
<circle cx="632.7" cy="236.6" r="0.95" fill="#74ac46" fill-opacity="0.8"/>
<circle cx="636.4" cy="238.6" r="0.95" fill="#74ac46" fill-opacity="0.8"/>
<circle cx="601.7" cy="235.9" r="0.95" fill="#8a8a8a" fill-opacity="0.8"/>
<circle cx="526.9" cy="284.0" r="0.95" fill="#2a3ef0" fill-opacity="0.8"/>
<circle cx="583.9" cy="252.3" r="0.95" fill="#74ac46" fill-opacity="0.8"/>
<circle cx="623.7" cy="248.0" r="0.95" fill="#74ac46" fill-opacity="0.8"/>
<circle cx="600.3" cy="243.4" r="0.95" fill="#2a3ef0" fill-opacity="0.8"/>
<circle cx="565.6" cy="257.4" r="0.95" fill="#2a3ef0" fill-opacity="0.8"/>
<circle cx="583.0" cy="252.5" r="0.95" fill="#2a3ef0" fill-opacity="0.8"/>
<circle cx="520.9" cy="325.4" r="0.95" fill="#74ac46" fill-opacity="0.8"/>
<circle cx="601.0" cy="247.9" r="0.95" fill="#74ac46" fill-opacity="0.8"/>
<circle cx="560.0" cy="241.8" r="0.95" fill="#74ac46" fill-opacity="0.8"/>
<circle cx="612.3" cy="239.7" r="0.95" fill="#74ac46" fill-opacity="0.8"/>
<circle cx="630.7" cy="249.3" r="0.95" fill="#74ac46" fill-opacity="0.8"/>
<circle cx="550.3" cy="238.2" r="0.95" fill="#8a8a8a" fill-opacity="0.8"/>
<circle cx="635.3" cy="245.6" r="0.95" fill="#74ac46" fill-opacity="0.8"/>
<circle cx="550.7" cy="240.3" r="0.95" fill="#8a8a8a" fill-opacity="0.8"/>
<circle cx="582.7" cy="250.1" r="0.95" fill="#2a3ef0" fill-opacity="0.8"/>
<circle cx="570.6" cy="241.5" r="0.95" fill="#74ac46" fill-opacity="0.8"/>
<circle cx="528.5" cy="253.7" r="0.95" fill="#8a8a8a" fill-opacity="0.8"/>
<circle cx="635.5" cy="242.1" r="0.95" fill="#8a8a8a" fill-opacity="0.8"/>
<circle cx="590.8" cy="247.9" r="0.95" fill="#74ac46" fill-opacity="0.8"/>
<circle cx="586.4" cy="239.1" r="0.95" fill="#8a8a8a" fill-opacity="0.8"/>
<circle cx="582.2" cy="237.8" r="0.95" fill="#74ac46" fill-opacity="0.8"/>
<circle cx="663.7" cy="244.8" r="0.95" fill="#2a3ef0" fill-opacity="0.8"/>
<circle cx="574.2" cy="253.6" r="0.95" fill="#74ac46" fill-opacity="0.8"/>
<circle cx="657.7" cy="245.9" r="0.95" fill="#2a3ef0" fill-opacity="0.8"/>
<circle cx="557.7" cy="255.0" r="0.95" fill="#2a3ef0" fill-opacity="0.8"/>
<circle cx="596.1" cy="238.8" r="0.95" fill="#8a8a8a" fill-opacity="0.8"/>
<circle cx="537.8" cy="246.8" r="0.95" fill="#74ac46" fill-opacity="0.8"/>
<circle cx="596.6" cy="243.9" r="0.95" fill="#2a3ef0" fill-opacity="0.8"/>
<circle cx="661.2" cy="243.8" r="0.95" fill="#74ac46" fill-opacity="0.8"/>
<circle cx="654.3" cy="246.2" r="0.95" fill="#74ac46" fill-opacity="0.8"/>
<circle cx="612.1" cy="248.3" r="0.95" fill="#2a3ef0" fill-opacity="0.8"/>
<circle cx="600.6" cy="250.6" r="0.95" fill="#2a3ef0" fill-opacity="0.8"/>
<circle cx="661.4" cy="239.3" r="0.95" fill="#8a8a8a" fill-opacity="0.8"/>
<circle cx="651.0" cy="243.8" r="0.95" fill="#74ac46" fill-opacity="0.8"/>
<circle cx="647.1" cy="242.3" r="0.95" fill="#2a3ef0" fill-opacity="0.8"/>
<circle cx="610.3" cy="247.3" r="0.95" fill="#74ac46" fill-opacity="0.8"/>
<circle cx="595.9" cy="251.3" r="0.95" fill="#2a3ef0" fill-opacity="0.8"/>
<circle cx="610.9" cy="237.1" r="0.95" fill="#8a8a8a" fill-opacity="0.8"/>
<circle cx="615.4" cy="250.6" r="0.95" fill="#74ac46" fill-opacity="0.8"/>
<circle cx="653.5" cy="239.6" r="0.95" fill="#74ac46" fill-opacity="0.8"/>
<circle cx="628.3" cy="243.6" r="0.95" fill="#74ac46" fill-opacity="0.8"/>
<circle cx="538.2" cy="247.5" r="0.95" fill="#74ac46" fill-opacity="0.8"/>
<circle cx="574.8" cy="241.0" r="0.95" fill="#74ac46" fill-opacity="0.8"/>
<circle cx="674.6" cy="244.7" r="0.95" fill="#74ac46" fill-opacity="0.8"/>
<circle cx="532.2" cy="246.9" r="0.95" fill="#8a8a8a" fill-opacity="0.8"/>
<circle cx="666.8" cy="249.6" r="0.95" fill="#2a3ef0" fill-opacity="0.8"/>
<circle cx="662.8" cy="239.6" r="0.95" fill="#8a8a8a" fill-opacity="0.8"/>
<circle cx="639.9" cy="245.2" r="0.95" fill="#74ac46" fill-opacity="0.8"/>
<circle cx="605.2" cy="252.0" r="0.95" fill="#74ac46" fill-opacity="0.8"/>
<circle cx="598.4" cy="241.9" r="0.95" fill="#74ac46" fill-opacity="0.8"/>
<circle cx="633.4" cy="238.8" r="0.95" fill="#2a3ef0" fill-opacity="0.8"/>
<circle cx="659.1" cy="240.2" r="0.95" fill="#74ac46" fill-opacity="0.8"/>
<circle cx="675.3" cy="239.8" r="0.95" fill="#74ac46" fill-opacity="0.8"/>
<circle cx="548.0" cy="267.1" r="0.95" fill="#2a3ef0" fill-opacity="0.8"/>
<circle cx="586.9" cy="239.8" r="0.95" fill="#74ac46" fill-opacity="0.8"/>
<circle cx="583.4" cy="249.2" r="0.95" fill="#74ac46" fill-opacity="0.8"/>
<circle cx="553.1" cy="252.1" r="0.95" fill="#2a3ef0" fill-opacity="0.8"/>
<circle cx="520.0" cy="329.2" r="0.95" fill="#74ac46" fill-opacity="0.8"/>
<circle cx="556.6" cy="261.4" r="0.95" fill="#74ac46" fill-opacity="0.8"/>
<circle cx="599.4" cy="242.9" r="0.95" fill="#2a3ef0" fill-opacity="0.8"/>
<circle cx="667.9" cy="246.4" r="0.95" fill="#2a3ef0" fill-opacity="0.8"/>
<circle cx="584.1" cy="253.2" r="0.95" fill="#2a3ef0" fill-opacity="0.8"/>
<circle cx="655.4" cy="256.0" r="0.95" fill="#2a3ef0" fill-opacity="0.8"/>
<circle cx="536.4" cy="251.8" r="0.95" fill="#74ac46" fill-opacity="0.8"/>
<circle cx="599.8" cy="234.1" r="0.95" fill="#8a8a8a" fill-opacity="0.8"/>
<circle cx="554.4" cy="255.0" r="0.95" fill="#2a3ef0" fill-opacity="0.8"/>
<circle cx="558.6" cy="249.6" r="0.95" fill="#2a3ef0" fill-opacity="0.8"/>
<circle cx="644.3" cy="244.5" r="0.95" fill="#74ac46" fill-opacity="0.8"/>
<circle cx="657.2" cy="247.3" r="0.95" fill="#2a3ef0" fill-opacity="0.8"/>
<circle cx="663.5" cy="249.0" r="0.95" fill="#2a3ef0" fill-opacity="0.8"/>
<circle cx="617.4" cy="240.0" r="0.95" fill="#8a8a8a" fill-opacity="0.8"/>
<circle cx="546.4" cy="274.6" r="0.95" fill="#74ac46" fill-opacity="0.8"/>
<circle cx="521.1" cy="295.9" r="0.95" fill="#2a3ef0" fill-opacity="0.8"/>
<circle cx="583.6" cy="239.6" r="0.95" fill="#8a8a8a" fill-opacity="0.8"/>
<circle cx="573.2" cy="253.0" r="0.95" fill="#2a3ef0" fill-opacity="0.8"/>
<circle cx="585.0" cy="237.9" r="0.95" fill="#74ac46" fill-opacity="0.8"/>
<circle cx="587.8" cy="254.4" r="0.95" fill="#2a3ef0" fill-opacity="0.8"/>
<circle cx="623.4" cy="236.7" r="0.95" fill="#8a8a8a" fill-opacity="0.8"/>
<circle cx="651.5" cy="244.7" r="0.95" fill="#2a3ef0" fill-opacity="0.8"/>
<circle cx="563.2" cy="236.4" r="0.95" fill="#8a8a8a" fill-opacity="0.8"/>
<circle cx="558.9" cy="266.7" r="0.95" fill="#2a3ef0" fill-opacity="0.8"/>
<circle cx="655.2" cy="242.8" r="0.95" fill="#74ac46" fill-opacity="0.8"/>
<circle cx="633.0" cy="239.9" r="0.95" fill="#2a3ef0" fill-opacity="0.8"/>
<circle cx="589.4" cy="247.0" r="0.95" fill="#74ac46" fill-opacity="0.8"/>
<circle cx="569.1" cy="257.7" r="0.95" fill="#74ac46" fill-opacity="0.8"/>
<circle cx="570.0" cy="251.2" r="0.95" fill="#2a3ef0" fill-opacity="0.8"/>
<circle cx="525.1" cy="305.9" r="0.95" fill="#74ac46" fill-opacity="0.8"/>
<circle cx="534.5" cy="251.9" r="0.95" fill="#74ac46" fill-opacity="0.8"/>
<circle cx="526.0" cy="310.4" r="0.95" fill="#74ac46" fill-opacity="0.8"/>
<circle cx="620.5" cy="248.9" r="0.95" fill="#2a3ef0" fill-opacity="0.8"/>
<circle cx="611.7" cy="246.9" r="0.95" fill="#74ac46" fill-opacity="0.8"/>
<circle cx="641.0" cy="239.6" r="0.95" fill="#8a8a8a" fill-opacity="0.8"/>
<circle cx="590.1" cy="239.2" r="0.95" fill="#74ac46" fill-opacity="0.8"/>
<circle cx="519.7" cy="288.4" r="0.95" fill="#74ac46" fill-opacity="0.8"/>
<circle cx="525.1" cy="286.0" r="0.95" fill="#2a3ef0" fill-opacity="0.8"/>
<circle cx="526.5" cy="301.7" r="0.95" fill="#74ac46" fill-opacity="0.8"/>
<circle cx="545.0" cy="264.1" r="0.95" fill="#2a3ef0" fill-opacity="0.8"/>
<circle cx="659.6" cy="241.0" r="0.95" fill="#8a8a8a" fill-opacity="0.8"/>
<circle cx="662.1" cy="243.5" r="0.95" fill="#74ac46" fill-opacity="0.8"/>
<circle cx="547.5" cy="265.8" r="0.95" fill="#2a3ef0" fill-opacity="0.8"/>
<circle cx="585.3" cy="247.3" r="0.95" fill="#2a3ef0" fill-opacity="0.8"/>
<circle cx="570.2" cy="237.6" r="0.95" fill="#8a8a8a" fill-opacity="0.8"/>
<circle cx="593.6" cy="249.5" r="0.95" fill="#74ac46" fill-opacity="0.8"/>
<circle cx="601.2" cy="238.6" r="0.95" fill="#74ac46" fill-opacity="0.8"/>
<circle cx="674.4" cy="244.9" r="0.95" fill="#8a8a8a" fill-opacity="0.8"/>
<circle cx="529.2" cy="278.0" r="0.95" fill="#2a3ef0" fill-opacity="0.8"/>
<circle cx="667.0" cy="247.5" r="0.95" fill="#74ac46" fill-opacity="0.8"/>
<circle cx="580.8" cy="239.2" r="0.95" fill="#8a8a8a" fill-opacity="0.8"/>
<circle cx="620.7" cy="252.7" r="0.95" fill="#2a3ef0" fill-opacity="0.8"/>
<circle cx="597.0" cy="242.2" r="0.95" fill="#74ac46" fill-opacity="0.8"/>
<circle cx="631.1" cy="250.8" r="0.95" fill="#2a3ef0" fill-opacity="0.8"/>
<circle cx="582.2" cy="247.7" r="0.95" fill="#2a3ef0" fill-opacity="0.8"/>
<circle cx="641.8" cy="246.7" r="0.95" fill="#74ac46" fill-opacity="0.8"/>
<circle cx="601.5" cy="246.9" r="0.95" fill="#74ac46" fill-opacity="0.8"/>
<circle cx="664.9" cy="247.4" r="0.95" fill="#74ac46" fill-opacity="0.8"/>
<circle cx="675.6" cy="242.2" r="0.95" fill="#74ac46" fill-opacity="0.8"/>
<circle cx="620.0" cy="242.6" r="0.95" fill="#74ac46" fill-opacity="0.8"/>
<circle cx="549.8" cy="236.7" r="0.95" fill="#8a8a8a" fill-opacity="0.8"/>
<circle cx="551.0" cy="264.3" r="0.95" fill="#2a3ef0" fill-opacity="0.8"/>
<circle cx="586.7" cy="253.4" r="0.95" fill="#2a3ef0" fill-opacity="0.8"/>
<circle cx="646.1" cy="239.7" r="0.95" fill="#74ac46" fill-opacity="0.8"/>
<circle cx="598.4" cy="238.4" r="0.95" fill="#8a8a8a" fill-opacity="0.8"/>
<circle cx="603.1" cy="250.4" r="0.95" fill="#2a3ef0" fill-opacity="0.8"/>
<circle cx="546.8" cy="273.5" r="0.95" fill="#74ac46" fill-opacity="0.8"/>
<circle cx="533.6" cy="269.9" r="0.95" fill="#2a3ef0" fill-opacity="0.8"/>
<circle cx="536.7" cy="280.8" r="0.95" fill="#2a3ef0" fill-opacity="0.8"/>
<circle cx="574.4" cy="255.9" r="0.95" fill="#2a3ef0" fill-opacity="0.8"/>
<circle cx="662.1" cy="245.7" r="0.95" fill="#2a3ef0" fill-opacity="0.8"/>
<circle cx="665.1" cy="240.5" r="0.95" fill="#74ac46" fill-opacity="0.8"/>
<circle cx="644.1" cy="245.3" r="0.95" fill="#2a3ef0" fill-opacity="0.8"/>
<circle cx="593.3" cy="249.9" r="0.95" fill="#2a3ef0" fill-opacity="0.8"/>
<circle cx="669.7" cy="244.3" r="0.95" fill="#8a8a8a" fill-opacity="0.8"/>
<circle cx="582.7" cy="237.9" r="0.95" fill="#8a8a8a" fill-opacity="0.8"/>
<circle cx="633.6" cy="245.4" r="0.95" fill="#2a3ef0" fill-opacity="0.8"/>
<circle cx="563.5" cy="256.7" r="0.95" fill="#74ac46" fill-opacity="0.8"/>
<circle cx="650.3" cy="242.6" r="0.95" fill="#8a8a8a" fill-opacity="0.8"/>
<circle cx="639.6" cy="242.6" r="0.95" fill="#8a8a8a" fill-opacity="0.8"/>
<circle cx="572.3" cy="260.0" r="0.95" fill="#74ac46" fill-opacity="0.8"/>
<circle cx="632.0" cy="245.2" r="0.95" fill="#2a3ef0" fill-opacity="0.8"/>
<circle cx="522.0" cy="291.1" r="0.95" fill="#2a3ef0" fill-opacity="0.8"/>
<circle cx="651.2" cy="239.7" r="0.95" fill="#8a8a8a" fill-opacity="0.8"/>
<circle cx="581.1" cy="255.8" r="0.95" fill="#74ac46" fill-opacity="0.8"/>
<circle cx="548.4" cy="259.8" r="0.95" fill="#2a3ef0" fill-opacity="0.8"/>
<circle cx="532.2" cy="259.2" r="0.95" fill="#74ac46" fill-opacity="0.8"/>
<circle cx="570.9" cy="252.8" r="0.95" fill="#2a3ef0" fill-opacity="0.8"/>
<circle cx="543.1" cy="276.6" r="0.95" fill="#74ac46" fill-opacity="0.8"/>
<circle cx="620.9" cy="247.4" r="0.95" fill="#74ac46" fill-opacity="0.8"/>
<circle cx="550.7" cy="241.8" r="0.95" fill="#74ac46" fill-opacity="0.8"/>
<circle cx="564.2" cy="255.9" r="0.95" fill="#2a3ef0" fill-opacity="0.8"/>
<circle cx="550.5" cy="267.3" r="0.95" fill="#74ac46" fill-opacity="0.8"/>
<circle cx="634.8" cy="243.8" r="0.95" fill="#74ac46" fill-opacity="0.8"/>
<circle cx="639.6" cy="240.2" r="0.95" fill="#74ac46" fill-opacity="0.8"/>
<circle cx="629.7" cy="245.5" r="0.95" fill="#74ac46" fill-opacity="0.8"/>
<circle cx="643.3" cy="244.9" r="0.95" fill="#2a3ef0" fill-opacity="0.8"/>
<circle cx="661.4" cy="242.9" r="0.95" fill="#74ac46" fill-opacity="0.8"/>
<circle cx="577.9" cy="252.1" r="0.95" fill="#2a3ef0" fill-opacity="0.8"/>
<circle cx="652.0" cy="244.9" r="0.95" fill="#74ac46" fill-opacity="0.8"/>
<circle cx="551.2" cy="240.8" r="0.95" fill="#8a8a8a" fill-opacity="0.8"/>
<circle cx="645.5" cy="244.7" r="0.95" fill="#74ac46" fill-opacity="0.8"/>
<circle cx="674.4" cy="241.9" r="0.95" fill="#74ac46" fill-opacity="0.8"/>
<circle cx="560.5" cy="242.3" r="0.95" fill="#74ac46" fill-opacity="0.8"/>
<circle cx="654.3" cy="247.1" r="0.95" fill="#2a3ef0" fill-opacity="0.8"/>
<circle cx="567.2" cy="253.1" r="0.95" fill="#74ac46" fill-opacity="0.8"/>
<circle cx="520.0" cy="308.5" r="0.95" fill="#2a3ef0" fill-opacity="0.8"/>
<circle cx="548.7" cy="263.4" r="0.95" fill="#2a3ef0" fill-opacity="0.8"/>
<circle cx="529.0" cy="276.6" r="0.95" fill="#2a3ef0" fill-opacity="0.8"/>
<circle cx="579.0" cy="250.1" r="0.95" fill="#2a3ef0" fill-opacity="0.8"/>
<circle cx="523.0" cy="291.3" r="0.95" fill="#2a3ef0" fill-opacity="0.8"/>
<circle cx="648.0" cy="246.5" r="0.95" fill="#2a3ef0" fill-opacity="0.8"/>
<circle cx="650.8" cy="248.5" r="0.95" fill="#2a3ef0" fill-opacity="0.8"/>
<circle cx="624.6" cy="244.1" r="0.95" fill="#74ac46" fill-opacity="0.8"/>
<circle cx="658.9" cy="244.0" r="0.95" fill="#74ac46" fill-opacity="0.8"/>
<circle cx="621.9" cy="247.0" r="0.95" fill="#74ac46" fill-opacity="0.8"/>
<circle cx="579.4" cy="239.3" r="0.95" fill="#8a8a8a" fill-opacity="0.8"/>
<circle cx="598.4" cy="249.2" r="0.95" fill="#2a3ef0" fill-opacity="0.8"/>
<circle cx="632.2" cy="240.5" r="0.95" fill="#74ac46" fill-opacity="0.8"/>
<circle cx="672.3" cy="244.3" r="0.95" fill="#74ac46" fill-opacity="0.8"/>
<circle cx="585.0" cy="234.3" r="0.95" fill="#8a8a8a" fill-opacity="0.8"/>
<circle cx="558.4" cy="264.6" r="0.95" fill="#74ac46" fill-opacity="0.8"/>
<circle cx="644.3" cy="244.5" r="0.95" fill="#2a3ef0" fill-opacity="0.8"/>
<circle cx="581.6" cy="254.9" r="0.95" fill="#74ac46" fill-opacity="0.8"/>
<circle cx="543.8" cy="239.3" r="0.95" fill="#8a8a8a" fill-opacity="0.8"/>
<circle cx="552.1" cy="245.6" r="0.95" fill="#74ac46" fill-opacity="0.8"/>
<circle cx="540.8" cy="264.7" r="0.95" fill="#2a3ef0" fill-opacity="0.8"/>
<circle cx="645.9" cy="245.9" r="0.95" fill="#2a3ef0" fill-opacity="0.8"/>
<circle cx="607.5" cy="242.3" r="0.95" fill="#74ac46" fill-opacity="0.8"/>
<circle cx="664.5" cy="247.4" r="0.95" fill="#74ac46" fill-opacity="0.8"/>
<circle cx="610.5" cy="251.0" r="0.95" fill="#2a3ef0" fill-opacity="0.8"/>
<circle cx="603.3" cy="245.4" r="0.95" fill="#74ac46" fill-opacity="0.8"/>
<circle cx="607.2" cy="239.5" r="0.95" fill="#74ac46" fill-opacity="0.8"/>
<circle cx="648.2" cy="246.9" r="0.95" fill="#74ac46" fill-opacity="0.8"/>
<circle cx="667.2" cy="247.0" r="0.95" fill="#74ac46" fill-opacity="0.8"/>
<circle cx="534.5" cy="264.9" r="0.95" fill="#2a3ef0" fill-opacity="0.8"/>
<circle cx="632.2" cy="247.9" r="0.95" fill="#2a3ef0" fill-opacity="0.8"/>
<circle cx="537.1" cy="274.2" r="0.95" fill="#2a3ef0" fill-opacity="0.8"/>
<circle cx="641.3" cy="243.0" r="0.95" fill="#2a3ef0" fill-opacity="0.8"/>
<circle cx="619.3" cy="242.8" r="0.95" fill="#2a3ef0" fill-opacity="0.8"/>
<circle cx="630.2" cy="247.7" r="0.95" fill="#74ac46" fill-opacity="0.8"/>
<circle cx="519.5" cy="328.4" r="0.95" fill="#74ac46" fill-opacity="0.8"/>
<circle cx="573.9" cy="245.0" r="0.95" fill="#74ac46" fill-opacity="0.8"/>
<circle cx="657.0" cy="250.7" r="0.95" fill="#2a3ef0" fill-opacity="0.8"/>
<circle cx="608.6" cy="238.2" r="0.95" fill="#8a8a8a" fill-opacity="0.8"/>
<circle cx="650.1" cy="243.5" r="0.95" fill="#74ac46" fill-opacity="0.8"/>
<circle cx="601.5" cy="246.7" r="0.95" fill="#2a3ef0" fill-opacity="0.8"/>
<circle cx="639.5" cy="249.3" r="0.95" fill="#2a3ef0" fill-opacity="0.8"/>
<circle cx="644.3" cy="244.6" r="0.95" fill="#8a8a8a" fill-opacity="0.8"/>
<circle cx="649.4" cy="243.2" r="0.95" fill="#74ac46" fill-opacity="0.8"/>
<circle cx="631.8" cy="239.5" r="0.95" fill="#8a8a8a" fill-opacity="0.8"/>
<circle cx="627.4" cy="248.7" r="0.95" fill="#74ac46" fill-opacity="0.8"/>
<circle cx="577.6" cy="239.1" r="0.95" fill="#74ac46" fill-opacity="0.8"/>
<circle cx="541.7" cy="271.2" r="0.95" fill="#2a3ef0" fill-opacity="0.8"/>
<circle cx="564.9" cy="252.9" r="0.95" fill="#2a3ef0" fill-opacity="0.8"/>
<circle cx="584.8" cy="254.4" r="0.95" fill="#74ac46" fill-opacity="0.8"/>
<circle cx="560.3" cy="258.3" r="0.95" fill="#2a3ef0" fill-opacity="0.8"/>
<circle cx="596.4" cy="251.5" r="0.95" fill="#2a3ef0" fill-opacity="0.8"/>
<circle cx="523.7" cy="314.5" r="0.95" fill="#74ac46" fill-opacity="0.8"/>
<circle cx="639.5" cy="241.4" r="0.95" fill="#74ac46" fill-opacity="0.8"/>
<circle cx="598.0" cy="252.2" r="0.95" fill="#2a3ef0" fill-opacity="0.8"/>
<circle cx="653.8" cy="239.5" r="0.95" fill="#2a3ef0" fill-opacity="0.8"/>
<circle cx="543.8" cy="242.9" r="0.95" fill="#74ac46" fill-opacity="0.8"/>
<circle cx="665.1" cy="241.6" r="0.95" fill="#8a8a8a" fill-opacity="0.8"/>
<circle cx="617.2" cy="247.5" r="0.95" fill="#74ac46" fill-opacity="0.8"/>
<circle cx="604.7" cy="243.9" r="0.95" fill="#2a3ef0" fill-opacity="0.8"/>
<circle cx="560.9" cy="245.6" r="0.95" fill="#74ac46" fill-opacity="0.8"/>
<circle cx="571.6" cy="239.5" r="0.95" fill="#74ac46" fill-opacity="0.8"/>
<circle cx="664.0" cy="244.2" r="0.95" fill="#2a3ef0" fill-opacity="0.8"/>
<circle cx="519.5" cy="312.9" r="0.95" fill="#2a3ef0" fill-opacity="0.8"/>
<circle cx="531.1" cy="294.3" r="0.95" fill="#74ac46" fill-opacity="0.8"/>
<circle cx="585.7" cy="252.2" r="0.95" fill="#74ac46" fill-opacity="0.8"/>
<circle cx="651.2" cy="247.1" r="0.95" fill="#74ac46" fill-opacity="0.8"/>
<circle cx="665.4" cy="244.6" r="0.95" fill="#74ac46" fill-opacity="0.8"/>
<circle cx="537.6" cy="271.1" r="0.95" fill="#2a3ef0" fill-opacity="0.8"/>
<circle cx="645.0" cy="244.5" r="0.95" fill="#2a3ef0" fill-opacity="0.8"/>
<circle cx="612.8" cy="248.1" r="0.95" fill="#2a3ef0" fill-opacity="0.8"/>
<circle cx="557.2" cy="260.8" r="0.95" fill="#2a3ef0" fill-opacity="0.8"/>
<circle cx="624.8" cy="240.1" r="0.95" fill="#74ac46" fill-opacity="0.8"/>
<circle cx="632.7" cy="242.2" r="0.95" fill="#2a3ef0" fill-opacity="0.8"/>
<circle cx="646.9" cy="245.7" r="0.95" fill="#2a3ef0" fill-opacity="0.8"/>
<circle cx="567.9" cy="233.7" r="0.95" fill="#8a8a8a" fill-opacity="0.8"/>
<circle cx="633.9" cy="245.9" r="0.95" fill="#2a3ef0" fill-opacity="0.8"/>
<circle cx="626.5" cy="244.1" r="0.95" fill="#74ac46" fill-opacity="0.8"/>
<circle cx="551.7" cy="256.5" r="0.95" fill="#2a3ef0" fill-opacity="0.8"/>
<circle cx="624.2" cy="245.9" r="0.95" fill="#74ac46" fill-opacity="0.8"/>
<circle cx="630.8" cy="235.0" r="0.95" fill="#8a8a8a" fill-opacity="0.8"/>
<circle cx="520.4" cy="322.9" r="0.95" fill="#74ac46" fill-opacity="0.8"/>
<circle cx="652.9" cy="243.4" r="0.95" fill="#74ac46" fill-opacity="0.8"/>
<circle cx="539.9" cy="280.5" r="0.95" fill="#74ac46" fill-opacity="0.8"/>
<circle cx="648.0" cy="241.5" r="0.95" fill="#74ac46" fill-opacity="0.8"/>
<circle cx="645.9" cy="249.1" r="0.95" fill="#74ac46" fill-opacity="0.8"/>
<circle cx="628.5" cy="249.7" r="0.95" fill="#2a3ef0" fill-opacity="0.8"/>
<circle cx="591.0" cy="243.0" r="0.95" fill="#74ac46" fill-opacity="0.8"/>
<circle cx="597.5" cy="254.6" r="0.95" fill="#2a3ef0" fill-opacity="0.8"/>
<circle cx="648.9" cy="242.6" r="0.95" fill="#2a3ef0" fill-opacity="0.8"/>
<circle cx="628.8" cy="243.1" r="0.95" fill="#74ac46" fill-opacity="0.8"/>
<circle cx="545.9" cy="276.5" r="0.95" fill="#74ac46" fill-opacity="0.8"/>
<circle cx="641.5" cy="241.0" r="0.95" fill="#8a8a8a" fill-opacity="0.8"/>
<circle cx="577.6" cy="231.9" r="0.95" fill="#8a8a8a" fill-opacity="0.8"/>
<circle cx="605.8" cy="245.3" r="0.95" fill="#2a3ef0" fill-opacity="0.8"/>
<circle cx="518.3" cy="310.5" r="0.95" fill="#74ac46" fill-opacity="0.8"/>
<circle cx="548.0" cy="241.4" r="0.95" fill="#8a8a8a" fill-opacity="0.8"/>
<circle cx="652.0" cy="248.2" r="0.95" fill="#2a3ef0" fill-opacity="0.8"/>
<circle cx="542.2" cy="270.2" r="0.95" fill="#2a3ef0" fill-opacity="0.8"/>
<circle cx="566.9" cy="255.6" r="0.95" fill="#2a3ef0" fill-opacity="0.8"/>
<circle cx="546.1" cy="265.7" r="0.95" fill="#2a3ef0" fill-opacity="0.8"/>
<circle cx="574.6" cy="255.3" r="0.95" fill="#74ac46" fill-opacity="0.8"/>
<circle cx="535.0" cy="246.3" r="0.95" fill="#8a8a8a" fill-opacity="0.8"/>
<circle cx="540.1" cy="241.0" r="0.95" fill="#8a8a8a" fill-opacity="0.8"/>
<circle cx="582.7" cy="245.0" r="0.95" fill="#74ac46" fill-opacity="0.8"/>
<circle cx="620.7" cy="236.4" r="0.95" fill="#74ac46" fill-opacity="0.8"/>
<circle cx="549.3" cy="265.2" r="0.95" fill="#2a3ef0" fill-opacity="0.8"/>
<circle cx="588.5" cy="247.0" r="0.95" fill="#2a3ef0" fill-opacity="0.8"/>
<circle cx="588.5" cy="251.1" r="0.95" fill="#74ac46" fill-opacity="0.8"/>
<circle cx="589.9" cy="247.8" r="0.95" fill="#74ac46" fill-opacity="0.8"/>
<circle cx="657.0" cy="249.7" r="0.95" fill="#74ac46" fill-opacity="0.8"/>
<circle cx="553.8" cy="258.5" r="0.95" fill="#2a3ef0" fill-opacity="0.8"/>
<circle cx="611.2" cy="247.1" r="0.95" fill="#2a3ef0" fill-opacity="0.8"/>
<circle cx="594.7" cy="241.1" r="0.95" fill="#74ac46" fill-opacity="0.8"/>
<circle cx="555.4" cy="263.4" r="0.95" fill="#2a3ef0" fill-opacity="0.8"/>
<circle cx="663.3" cy="243.0" r="0.95" fill="#2a3ef0" fill-opacity="0.8"/>
<circle cx="577.1" cy="247.3" r="0.95" fill="#74ac46" fill-opacity="0.8"/>
<circle cx="656.1" cy="251.7" r="0.95" fill="#2a3ef0" fill-opacity="0.8"/>
<circle cx="637.8" cy="243.5" r="0.95" fill="#74ac46" fill-opacity="0.8"/>
<circle cx="587.8" cy="238.9" r="0.95" fill="#8a8a8a" fill-opacity="0.8"/>
<circle cx="629.0" cy="245.5" r="0.95" fill="#2a3ef0" fill-opacity="0.8"/>
<circle cx="560.9" cy="254.8" r="0.95" fill="#2a3ef0" fill-opacity="0.8"/>
<circle cx="552.1" cy="253.5" r="0.95" fill="#2a3ef0" fill-opacity="0.8"/>
<circle cx="522.8" cy="289.3" r="0.95" fill="#2a3ef0" fill-opacity="0.8"/>
<circle cx="646.6" cy="231.6" r="0.95" fill="#74ac46" fill-opacity="0.8"/>
<circle cx="665.4" cy="249.5" r="0.95" fill="#2a3ef0" fill-opacity="0.8"/>
<circle cx="543.3" cy="243.2" r="0.95" fill="#8a8a8a" fill-opacity="0.8"/>
<circle cx="667.4" cy="239.0" r="0.95" fill="#74ac46" fill-opacity="0.8"/>
<circle cx="554.0" cy="242.1" r="0.95" fill="#8a8a8a" fill-opacity="0.8"/>
<circle cx="595.0" cy="253.3" r="0.95" fill="#2a3ef0" fill-opacity="0.8"/>
<circle cx="544.5" cy="268.3" r="0.95" fill="#2a3ef0" fill-opacity="0.8"/>
<circle cx="587.8" cy="243.4" r="0.95" fill="#74ac46" fill-opacity="0.8"/>
<circle cx="630.4" cy="231.5" r="0.95" fill="#8a8a8a" fill-opacity="0.8"/>
<circle cx="630.8" cy="237.2" r="0.95" fill="#74ac46" fill-opacity="0.8"/>
<circle cx="668.6" cy="244.2" r="0.95" fill="#2a3ef0" fill-opacity="0.8"/>
<circle cx="650.8" cy="242.4" r="0.95" fill="#8a8a8a" fill-opacity="0.8"/>
<circle cx="597.8" cy="253.5" r="0.95" fill="#2a3ef0" fill-opacity="0.8"/>
<circle cx="548.4" cy="245.3" r="0.95" fill="#74ac46" fill-opacity="0.8"/>
<circle cx="540.6" cy="269.7" r="0.95" fill="#2a3ef0" fill-opacity="0.8"/>
<circle cx="637.8" cy="238.4" r="0.95" fill="#8a8a8a" fill-opacity="0.8"/>
<circle cx="543.1" cy="265.3" r="0.95" fill="#2a3ef0" fill-opacity="0.8"/>
<circle cx="574.4" cy="238.7" r="0.95" fill="#74ac46" fill-opacity="0.8"/>
<circle cx="609.5" cy="238.5" r="0.95" fill="#8a8a8a" fill-opacity="0.8"/>
<circle cx="563.7" cy="244.8" r="0.95" fill="#74ac46" fill-opacity="0.8"/>
<circle cx="565.8" cy="251.9" r="0.95" fill="#2a3ef0" fill-opacity="0.8"/>
<circle cx="673.0" cy="240.1" r="0.95" fill="#74ac46" fill-opacity="0.8"/>
<circle cx="532.0" cy="291.4" r="0.95" fill="#74ac46" fill-opacity="0.8"/>
<circle cx="561.7" cy="259.7" r="0.95" fill="#74ac46" fill-opacity="0.8"/>
<circle cx="671.1" cy="235.6" r="0.95" fill="#74ac46" fill-opacity="0.8"/>
<circle cx="623.4" cy="243.1" r="0.95" fill="#74ac46" fill-opacity="0.8"/>
<circle cx="585.9" cy="242.7" r="0.95" fill="#74ac46" fill-opacity="0.8"/>
<circle cx="629.9" cy="236.5" r="0.95" fill="#8a8a8a" fill-opacity="0.8"/>
<circle cx="541.9" cy="263.6" r="0.95" fill="#2a3ef0" fill-opacity="0.8"/>
<circle cx="576.2" cy="233.4" r="0.95" fill="#8a8a8a" fill-opacity="0.8"/>
<circle cx="551.5" cy="264.0" r="0.95" fill="#2a3ef0" fill-opacity="0.8"/>
<circle cx="578.1" cy="259.2" r="0.95" fill="#2a3ef0" fill-opacity="0.8"/>
<circle cx="539.2" cy="246.3" r="0.95" fill="#74ac46" fill-opacity="0.8"/>
<circle cx="533.9" cy="273.2" r="0.95" fill="#2a3ef0" fill-opacity="0.8"/>
<circle cx="653.3" cy="241.8" r="0.95" fill="#74ac46" fill-opacity="0.8"/>
<circle cx="660.3" cy="244.4" r="0.95" fill="#74ac46" fill-opacity="0.8"/>
<circle cx="530.6" cy="276.2" r="0.95" fill="#2a3ef0" fill-opacity="0.8"/>
<circle cx="634.6" cy="240.8" r="0.95" fill="#2a3ef0" fill-opacity="0.8"/>
<circle cx="528.8" cy="301.2" r="0.95" fill="#74ac46" fill-opacity="0.8"/>
<circle cx="576.2" cy="249.3" r="0.95" fill="#2a3ef0" fill-opacity="0.8"/>
<circle cx="524.6" cy="313.2" r="0.95" fill="#74ac46" fill-opacity="0.8"/>
<circle cx="520.6" cy="278.7" r="0.95" fill="#74ac46" fill-opacity="0.8"/>
<circle cx="531.1" cy="278.3" r="0.95" fill="#2a3ef0" fill-opacity="0.8"/>
<circle cx="554.0" cy="239.9" r="0.95" fill="#74ac46" fill-opacity="0.8"/>
<circle cx="579.4" cy="250.1" r="0.95" fill="#2a3ef0" fill-opacity="0.8"/>
<circle cx="523.4" cy="260.5" r="0.95" fill="#8a8a8a" fill-opacity="0.8"/>
<circle cx="667.0" cy="248.8" r="0.95" fill="#2a3ef0" fill-opacity="0.8"/>
<circle cx="664.2" cy="248.8" r="0.95" fill="#2a3ef0" fill-opacity="0.8"/>
<circle cx="548.0" cy="245.3" r="0.95" fill="#74ac46" fill-opacity="0.8"/>
<circle cx="526.0" cy="278.9" r="0.95" fill="#2a3ef0" fill-opacity="0.8"/>
<circle cx="589.2" cy="244.5" r="0.95" fill="#2a3ef0" fill-opacity="0.8"/>
<circle cx="640.8" cy="243.2" r="0.95" fill="#2a3ef0" fill-opacity="0.8"/>
<circle cx="579.4" cy="237.4" r="0.95" fill="#74ac46" fill-opacity="0.8"/>
<circle cx="627.6" cy="238.1" r="0.95" fill="#8a8a8a" fill-opacity="0.8"/>
<circle cx="566.8" cy="256.4" r="0.95" fill="#74ac46" fill-opacity="0.8"/>
<circle cx="608.4" cy="252.7" r="0.95" fill="#2a3ef0" fill-opacity="0.8"/>
<circle cx="560.3" cy="261.3" r="0.95" fill="#74ac46" fill-opacity="0.8"/>
<circle cx="662.8" cy="242.7" r="0.95" fill="#2a3ef0" fill-opacity="0.8"/>
<circle cx="654.5" cy="247.8" r="0.95" fill="#2a3ef0" fill-opacity="0.8"/>
<circle cx="609.4" cy="248.2" r="0.95" fill="#2a3ef0" fill-opacity="0.8"/>
<circle cx="584.3" cy="245.2" r="0.95" fill="#2a3ef0" fill-opacity="0.8"/>
<circle cx="667.9" cy="235.5" r="0.95" fill="#8a8a8a" fill-opacity="0.8"/>
<circle cx="587.3" cy="247.5" r="0.95" fill="#2a3ef0" fill-opacity="0.8"/>
<circle cx="639.9" cy="253.0" r="0.95" fill="#2a3ef0" fill-opacity="0.8"/>
<circle cx="584.5" cy="252.5" r="0.95" fill="#2a3ef0" fill-opacity="0.8"/>
<circle cx="585.0" cy="246.2" r="0.95" fill="#2a3ef0" fill-opacity="0.8"/>
<circle cx="581.6" cy="249.2" r="0.95" fill="#2a3ef0" fill-opacity="0.8"/>
<circle cx="561.7" cy="259.8" r="0.95" fill="#2a3ef0" fill-opacity="0.8"/>
<circle cx="632.0" cy="245.0" r="0.95" fill="#74ac46" fill-opacity="0.8"/>
<circle cx="582.0" cy="253.6" r="0.95" fill="#74ac46" fill-opacity="0.8"/>
<circle cx="656.6" cy="245.6" r="0.95" fill="#2a3ef0" fill-opacity="0.8"/>
<circle cx="610.0" cy="241.0" r="0.95" fill="#74ac46" fill-opacity="0.8"/>
<circle cx="564.6" cy="243.5" r="0.95" fill="#74ac46" fill-opacity="0.8"/>
<circle cx="654.9" cy="244.3" r="0.95" fill="#74ac46" fill-opacity="0.8"/>
<circle cx="611.4" cy="244.7" r="0.95" fill="#2a3ef0" fill-opacity="0.8"/>
<circle cx="664.0" cy="244.4" r="0.95" fill="#74ac46" fill-opacity="0.8"/>
<circle cx="653.1" cy="246.5" r="0.95" fill="#2a3ef0" fill-opacity="0.8"/>
<circle cx="559.5" cy="259.2" r="0.95" fill="#2a3ef0" fill-opacity="0.8"/>
<circle cx="625.1" cy="247.4" r="0.95" fill="#2a3ef0" fill-opacity="0.8"/>
<circle cx="604.5" cy="237.8" r="0.95" fill="#8a8a8a" fill-opacity="0.8"/>
<circle cx="553.1" cy="241.8" r="0.95" fill="#74ac46" fill-opacity="0.8"/>
<circle cx="673.9" cy="242.4" r="0.95" fill="#8a8a8a" fill-opacity="0.8"/>
<circle cx="554.9" cy="256.1" r="0.95" fill="#2a3ef0" fill-opacity="0.8"/>
<circle cx="672.3" cy="241.9" r="0.95" fill="#2a3ef0" fill-opacity="0.8"/>
<circle cx="541.9" cy="239.8" r="0.95" fill="#8a8a8a" fill-opacity="0.8"/>
<circle cx="573.4" cy="239.0" r="0.95" fill="#74ac46" fill-opacity="0.8"/>
<circle cx="547.5" cy="243.4" r="0.95" fill="#8a8a8a" fill-opacity="0.8"/>
<circle cx="629.7" cy="249.8" r="0.95" fill="#2a3ef0" fill-opacity="0.8"/>
<circle cx="638.5" cy="250.2" r="0.95" fill="#74ac46" fill-opacity="0.8"/>
<circle cx="547.0" cy="267.0" r="0.95" fill="#2a3ef0" fill-opacity="0.8"/>
<circle cx="577.9" cy="255.1" r="0.95" fill="#74ac46" fill-opacity="0.8"/>
<circle cx="593.3" cy="233.2" r="0.95" fill="#8a8a8a" fill-opacity="0.8"/>
<circle cx="621.9" cy="252.4" r="0.95" fill="#2a3ef0" fill-opacity="0.8"/>
<circle cx="609.1" cy="247.4" r="0.95" fill="#2a3ef0" fill-opacity="0.8"/>
<circle cx="613.3" cy="242.0" r="0.95" fill="#74ac46" fill-opacity="0.8"/>
<circle cx="529.4" cy="246.8" r="0.95" fill="#8a8a8a" fill-opacity="0.8"/>
<circle cx="640.8" cy="245.8" r="0.95" fill="#74ac46" fill-opacity="0.8"/>
<circle cx="628.1" cy="234.9" r="0.95" fill="#74ac46" fill-opacity="0.8"/>
<circle cx="595.7" cy="241.4" r="0.95" fill="#8a8a8a" fill-opacity="0.8"/>
<circle cx="581.8" cy="256.4" r="0.95" fill="#2a3ef0" fill-opacity="0.8"/>
<circle cx="571.6" cy="239.1" r="0.95" fill="#8a8a8a" fill-opacity="0.8"/>
<circle cx="669.7" cy="246.4" r="0.95" fill="#2a3ef0" fill-opacity="0.8"/>
<circle cx="536.7" cy="286.3" r="0.95" fill="#74ac46" fill-opacity="0.8"/>
<circle cx="541.7" cy="279.4" r="0.95" fill="#74ac46" fill-opacity="0.8"/>
<circle cx="632.5" cy="247.2" r="0.95" fill="#2a3ef0" fill-opacity="0.8"/>
<circle cx="613.3" cy="248.9" r="0.95" fill="#2a3ef0" fill-opacity="0.8"/>
<circle cx="552.4" cy="264.5" r="0.95" fill="#74ac46" fill-opacity="0.8"/>
<circle cx="587.3" cy="238.8" r="0.95" fill="#74ac46" fill-opacity="0.8"/>
<circle cx="660.0" cy="246.3" r="0.95" fill="#74ac46" fill-opacity="0.8"/>
<circle cx="567.4" cy="231.9" r="0.95" fill="#8a8a8a" fill-opacity="0.8"/>
<circle cx="556.1" cy="253.9" r="0.95" fill="#2a3ef0" fill-opacity="0.8"/>
<circle cx="522.3" cy="322.7" r="0.95" fill="#74ac46" fill-opacity="0.8"/>
<circle cx="616.5" cy="235.8" r="0.95" fill="#8a8a8a" fill-opacity="0.8"/>
<circle cx="571.6" cy="254.5" r="0.95" fill="#2a3ef0" fill-opacity="0.8"/>
<circle cx="608.6" cy="240.3" r="0.95" fill="#2a3ef0" fill-opacity="0.8"/>
<circle cx="563.0" cy="253.0" r="0.95" fill="#2a3ef0" fill-opacity="0.8"/>
<circle cx="536.8" cy="246.6" r="0.95" fill="#8a8a8a" fill-opacity="0.8"/>
<circle cx="632.2" cy="238.4" r="0.95" fill="#8a8a8a" fill-opacity="0.8"/>
<circle cx="654.5" cy="238.8" r="0.95" fill="#8a8a8a" fill-opacity="0.8"/>
<circle cx="619.3" cy="240.2" r="0.95" fill="#8a8a8a" fill-opacity="0.8"/>
<circle cx="539.4" cy="279.7" r="0.95" fill="#74ac46" fill-opacity="0.8"/>
<circle cx="579.0" cy="238.6" r="0.95" fill="#8a8a8a" fill-opacity="0.8"/>
<circle cx="631.1" cy="244.6" r="0.95" fill="#74ac46" fill-opacity="0.8"/>
<circle cx="638.7" cy="245.1" r="0.95" fill="#2a3ef0" fill-opacity="0.8"/>
<circle cx="627.1" cy="248.5" r="0.95" fill="#2a3ef0" fill-opacity="0.8"/>
<circle cx="585.7" cy="251.9" r="0.95" fill="#2a3ef0" fill-opacity="0.8"/>
<circle cx="663.3" cy="235.3" r="0.95" fill="#8a8a8a" fill-opacity="0.8"/>
<circle cx="623.9" cy="239.8" r="0.95" fill="#8a8a8a" fill-opacity="0.8"/>
<circle cx="578.5" cy="243.2" r="0.95" fill="#74ac46" fill-opacity="0.8"/>
<circle cx="625.3" cy="241.5" r="0.95" fill="#74ac46" fill-opacity="0.8"/>
<circle cx="523.2" cy="287.6" r="0.95" fill="#2a3ef0" fill-opacity="0.8"/>
<circle cx="656.1" cy="241.6" r="0.95" fill="#74ac46" fill-opacity="0.8"/>
<circle cx="564.0" cy="254.1" r="0.95" fill="#2a3ef0" fill-opacity="0.8"/>
<circle cx="612.6" cy="250.1" r="0.95" fill="#74ac46" fill-opacity="0.8"/>
<circle cx="675.3" cy="246.2" r="0.95" fill="#2a3ef0" fill-opacity="0.8"/>
<circle cx="546.6" cy="261.5" r="0.95" fill="#2a3ef0" fill-opacity="0.8"/>
<circle cx="606.8" cy="235.1" r="0.95" fill="#74ac46" fill-opacity="0.8"/>
<circle cx="564.9" cy="264.3" r="0.95" fill="#74ac46" fill-opacity="0.8"/>
<circle cx="624.4" cy="244.0" r="0.95" fill="#74ac46" fill-opacity="0.8"/>
<circle cx="618.8" cy="240.2" r="0.95" fill="#8a8a8a" fill-opacity="0.8"/>
<circle cx="524.3" cy="289.3" r="0.95" fill="#2a3ef0" fill-opacity="0.8"/>
<circle cx="605.4" cy="240.5" r="0.95" fill="#74ac46" fill-opacity="0.8"/>
<circle cx="664.6" cy="238.1" r="0.95" fill="#8a8a8a" fill-opacity="0.8"/>
<circle cx="616.0" cy="238.0" r="0.95" fill="#74ac46" fill-opacity="0.8"/>
<circle cx="637.3" cy="242.9" r="0.95" fill="#74ac46" fill-opacity="0.8"/>
<circle cx="551.2" cy="242.0" r="0.95" fill="#74ac46" fill-opacity="0.8"/>
<circle cx="629.3" cy="245.6" r="0.95" fill="#74ac46" fill-opacity="0.8"/>
<circle cx="642.7" cy="248.2" r="0.95" fill="#74ac46" fill-opacity="0.8"/>
<circle cx="646.6" cy="243.6" r="0.95" fill="#2a3ef0" fill-opacity="0.8"/>
<circle cx="630.4" cy="250.4" r="0.95" fill="#2a3ef0" fill-opacity="0.8"/>
<circle cx="630.4" cy="232.7" r="0.95" fill="#74ac46" fill-opacity="0.8"/>
<circle cx="577.4" cy="253.5" r="0.95" fill="#74ac46" fill-opacity="0.8"/>
<circle cx="634.6" cy="241.2" r="0.95" fill="#74ac46" fill-opacity="0.8"/>
<circle cx="526.7" cy="265.1" r="0.95" fill="#74ac46" fill-opacity="0.8"/>
<circle cx="672.1" cy="244.1" r="0.95" fill="#2a3ef0" fill-opacity="0.8"/>
<circle cx="579.0" cy="242.7" r="0.95" fill="#74ac46" fill-opacity="0.8"/>
<circle cx="531.8" cy="251.2" r="0.95" fill="#8a8a8a" fill-opacity="0.8"/>
<circle cx="570.5" cy="257.3" r="0.95" fill="#2a3ef0" fill-opacity="0.8"/>
<circle cx="592.0" cy="236.4" r="0.95" fill="#8a8a8a" fill-opacity="0.8"/>
<circle cx="519.7" cy="284.2" r="0.95" fill="#8a8a8a" fill-opacity="0.8"/>
<circle cx="637.3" cy="241.1" r="0.95" fill="#2a3ef0" fill-opacity="0.8"/>
<circle cx="631.3" cy="243.3" r="0.95" fill="#2a3ef0" fill-opacity="0.8"/>
<circle cx="604.0" cy="235.7" r="0.95" fill="#8a8a8a" fill-opacity="0.8"/>
<circle cx="552.6" cy="256.6" r="0.95" fill="#2a3ef0" fill-opacity="0.8"/>
<circle cx="573.0" cy="241.9" r="0.95" fill="#74ac46" fill-opacity="0.8"/>
<circle cx="556.8" cy="241.4" r="0.95" fill="#8a8a8a" fill-opacity="0.8"/>
<circle cx="656.3" cy="239.5" r="0.95" fill="#8a8a8a" fill-opacity="0.8"/>
<circle cx="529.0" cy="256.7" r="0.95" fill="#74ac46" fill-opacity="0.8"/>
<circle cx="558.1" cy="256.4" r="0.95" fill="#2a3ef0" fill-opacity="0.8"/>
<circle cx="616.0" cy="242.9" r="0.95" fill="#2a3ef0" fill-opacity="0.8"/>
<circle cx="559.3" cy="259.0" r="0.95" fill="#2a3ef0" fill-opacity="0.8"/>
<circle cx="624.8" cy="247.3" r="0.95" fill="#2a3ef0" fill-opacity="0.8"/>
<circle cx="610.0" cy="240.5" r="0.95" fill="#8a8a8a" fill-opacity="0.8"/>
<circle cx="673.7" cy="240.3" r="0.95" fill="#74ac46" fill-opacity="0.8"/>
<circle cx="673.9" cy="243.7" r="0.95" fill="#2a3ef0" fill-opacity="0.8"/>
<circle cx="614.9" cy="251.4" r="0.95" fill="#2a3ef0" fill-opacity="0.8"/>
<circle cx="536.8" cy="254.6" r="0.95" fill="#74ac46" fill-opacity="0.8"/>
<circle cx="579.3" cy="255.7" r="0.95" fill="#2a3ef0" fill-opacity="0.8"/>
<circle cx="552.9" cy="268.0" r="0.95" fill="#74ac46" fill-opacity="0.8"/>
<circle cx="591.0" cy="233.7" r="0.95" fill="#8a8a8a" fill-opacity="0.8"/>
<circle cx="519.7" cy="310.3" r="0.95" fill="#2a3ef0" fill-opacity="0.8"/>
<circle cx="674.4" cy="251.4" r="0.95" fill="#2a3ef0" fill-opacity="0.8"/>
<circle cx="615.8" cy="245.3" r="0.95" fill="#74ac46" fill-opacity="0.8"/>
<circle cx="552.1" cy="238.3" r="0.95" fill="#8a8a8a" fill-opacity="0.8"/>
<circle cx="602.1" cy="247.2" r="0.95" fill="#2a3ef0" fill-opacity="0.8"/>
<circle cx="614.6" cy="245.0" r="0.95" fill="#2a3ef0" fill-opacity="0.8"/>
<circle cx="594.3" cy="248.7" r="0.95" fill="#2a3ef0" fill-opacity="0.8"/>
<circle cx="523.2" cy="313.7" r="0.95" fill="#74ac46" fill-opacity="0.8"/>
<circle cx="558.0" cy="263.5" r="0.95" fill="#74ac46" fill-opacity="0.8"/>
<circle cx="547.3" cy="262.8" r="0.95" fill="#2a3ef0" fill-opacity="0.8"/>
<circle cx="581.3" cy="251.4" r="0.95" fill="#2a3ef0" fill-opacity="0.8"/>
<circle cx="618.6" cy="244.8" r="0.95" fill="#74ac46" fill-opacity="0.8"/>
<circle cx="557.0" cy="255.1" r="0.95" fill="#2a3ef0" fill-opacity="0.8"/>
<circle cx="544.1" cy="275.6" r="0.95" fill="#74ac46" fill-opacity="0.8"/>
<circle cx="584.3" cy="252.6" r="0.95" fill="#74ac46" fill-opacity="0.8"/>
<circle cx="556.1" cy="263.7" r="0.95" fill="#74ac46" fill-opacity="0.8"/>
<circle cx="533.9" cy="289.7" r="0.95" fill="#74ac46" fill-opacity="0.8"/>
<circle cx="579.9" cy="257.7" r="0.95" fill="#2a3ef0" fill-opacity="0.8"/>
<circle cx="526.7" cy="278.3" r="0.95" fill="#2a3ef0" fill-opacity="0.8"/>
<circle cx="568.8" cy="236.6" r="0.95" fill="#74ac46" fill-opacity="0.8"/>
<circle cx="578.8" cy="256.2" r="0.95" fill="#2a3ef0" fill-opacity="0.8"/>
<circle cx="645.2" cy="243.4" r="0.95" fill="#8a8a8a" fill-opacity="0.8"/>
<circle cx="636.9" cy="242.6" r="0.95" fill="#74ac46" fill-opacity="0.8"/>
<circle cx="616.5" cy="245.2" r="0.95" fill="#2a3ef0" fill-opacity="0.8"/>
<circle cx="555.6" cy="257.4" r="0.95" fill="#2a3ef0" fill-opacity="0.8"/>
<circle cx="648.7" cy="244.0" r="0.95" fill="#74ac46" fill-opacity="0.8"/>
<circle cx="643.2" cy="242.8" r="0.95" fill="#2a3ef0" fill-opacity="0.8"/>
<circle cx="524.2" cy="284.0" r="0.95" fill="#2a3ef0" fill-opacity="0.8"/>
<circle cx="564.2" cy="235.5" r="0.95" fill="#8a8a8a" fill-opacity="0.8"/>
<circle cx="570.2" cy="244.2" r="0.95" fill="#74ac46" fill-opacity="0.8"/>
<circle cx="650.6" cy="244.8" r="0.95" fill="#2a3ef0" fill-opacity="0.8"/>
<circle cx="593.6" cy="241.4" r="0.95" fill="#2a3ef0" fill-opacity="0.8"/>
<circle cx="650.1" cy="243.6" r="0.95" fill="#2a3ef0" fill-opacity="0.8"/>
<circle cx="633.2" cy="247.0" r="0.95" fill="#2a3ef0" fill-opacity="0.8"/>
<circle cx="525.5" cy="285.6" r="0.95" fill="#2a3ef0" fill-opacity="0.8"/>
<circle cx="547.8" cy="264.4" r="0.95" fill="#2a3ef0" fill-opacity="0.8"/>
<circle cx="665.1" cy="246.8" r="0.95" fill="#2a3ef0" fill-opacity="0.8"/>
<circle cx="628.5" cy="240.1" r="0.95" fill="#74ac46" fill-opacity="0.8"/>
<circle cx="553.5" cy="238.9" r="0.95" fill="#8a8a8a" fill-opacity="0.8"/>
<circle cx="661.4" cy="245.9" r="0.95" fill="#2a3ef0" fill-opacity="0.8"/>
<circle cx="556.8" cy="258.5" r="0.95" fill="#2a3ef0" fill-opacity="0.8"/>
<circle cx="607.7" cy="240.1" r="0.95" fill="#74ac46" fill-opacity="0.8"/>
<circle cx="519.3" cy="299.9" r="0.95" fill="#74ac46" fill-opacity="0.8"/>
<circle cx="595.9" cy="250.9" r="0.95" fill="#74ac46" fill-opacity="0.8"/>
<circle cx="668.4" cy="244.7" r="0.95" fill="#2a3ef0" fill-opacity="0.8"/>
<circle cx="669.1" cy="249.7" r="0.95" fill="#2a3ef0" fill-opacity="0.8"/>
<circle cx="652.6" cy="240.1" r="0.95" fill="#74ac46" fill-opacity="0.8"/>
<circle cx="668.8" cy="232.4" r="0.95" fill="#2a3ef0" fill-opacity="0.8"/>
<circle cx="542.4" cy="244.2" r="0.95" fill="#74ac46" fill-opacity="0.8"/>
<circle cx="636.4" cy="238.4" r="0.95" fill="#2a3ef0" fill-opacity="0.8"/>
<circle cx="522.5" cy="266.0" r="0.95" fill="#8a8a8a" fill-opacity="0.8"/>
<circle cx="624.6" cy="249.1" r="0.95" fill="#2a3ef0" fill-opacity="0.8"/>
<circle cx="550.3" cy="257.0" r="0.95" fill="#2a3ef0" fill-opacity="0.8"/>
<circle cx="617.9" cy="253.9" r="0.95" fill="#2a3ef0" fill-opacity="0.8"/>
<circle cx="649.8" cy="251.0" r="0.95" fill="#2a3ef0" fill-opacity="0.8"/>
<circle cx="539.0" cy="276.0" r="0.95" fill="#74ac46" fill-opacity="0.8"/>
<circle cx="551.2" cy="259.6" r="0.95" fill="#2a3ef0" fill-opacity="0.8"/>
<circle cx="576.9" cy="251.4" r="0.95" fill="#2a3ef0" fill-opacity="0.8"/>
<circle cx="604.5" cy="241.2" r="0.95" fill="#74ac46" fill-opacity="0.8"/>
<circle cx="607.0" cy="247.3" r="0.95" fill="#2a3ef0" fill-opacity="0.8"/>
<circle cx="669.5" cy="240.8" r="0.95" fill="#74ac46" fill-opacity="0.8"/>
<circle cx="528.0" cy="274.5" r="0.95" fill="#2a3ef0" fill-opacity="0.8"/>
<circle cx="649.8" cy="237.8" r="0.95" fill="#74ac46" fill-opacity="0.8"/>
<circle cx="673.4" cy="245.4" r="0.95" fill="#74ac46" fill-opacity="0.8"/>
<circle cx="592.0" cy="236.7" r="0.95" fill="#74ac46" fill-opacity="0.8"/>
<circle cx="591.5" cy="254.0" r="0.95" fill="#2a3ef0" fill-opacity="0.8"/>
<circle cx="601.7" cy="249.8" r="0.95" fill="#2a3ef0" fill-opacity="0.8"/>
<circle cx="623.7" cy="252.5" r="0.95" fill="#2a3ef0" fill-opacity="0.8"/>
<circle cx="599.2" cy="247.5" r="0.95" fill="#74ac46" fill-opacity="0.8"/>
<circle cx="535.3" cy="290.5" r="0.95" fill="#74ac46" fill-opacity="0.8"/>
<circle cx="617.0" cy="243.5" r="0.95" fill="#2a3ef0" fill-opacity="0.8"/>
<circle cx="616.8" cy="245.8" r="0.95" fill="#74ac46" fill-opacity="0.8"/>
<circle cx="625.6" cy="246.7" r="0.95" fill="#74ac46" fill-opacity="0.8"/>
<circle cx="536.4" cy="267.3" r="0.95" fill="#2a3ef0" fill-opacity="0.8"/>
<circle cx="573.7" cy="253.7" r="0.95" fill="#74ac46" fill-opacity="0.8"/>
<circle cx="648.4" cy="239.4" r="0.95" fill="#74ac46" fill-opacity="0.8"/>
<circle cx="575.1" cy="256.0" r="0.95" fill="#2a3ef0" fill-opacity="0.8"/>
<circle cx="536.2" cy="271.3" r="0.95" fill="#2a3ef0" fill-opacity="0.8"/>
<circle cx="523.0" cy="265.9" r="0.95" fill="#74ac46" fill-opacity="0.8"/>
<circle cx="529.7" cy="301.0" r="0.95" fill="#74ac46" fill-opacity="0.8"/>
<circle cx="540.1" cy="267.6" r="0.95" fill="#2a3ef0" fill-opacity="0.8"/>
<circle cx="602.6" cy="237.6" r="0.95" fill="#8a8a8a" fill-opacity="0.8"/>
<circle cx="630.2" cy="248.2" r="0.95" fill="#2a3ef0" fill-opacity="0.8"/>
<circle cx="553.8" cy="271.0" r="0.95" fill="#74ac46" fill-opacity="0.8"/>
<circle cx="560.7" cy="255.8" r="0.95" fill="#2a3ef0" fill-opacity="0.8"/>
<circle cx="666.0" cy="243.6" r="0.95" fill="#74ac46" fill-opacity="0.8"/>
<circle cx="675.1" cy="244.7" r="0.95" fill="#74ac46" fill-opacity="0.8"/>
<circle cx="595.7" cy="253.0" r="0.95" fill="#2a3ef0" fill-opacity="0.8"/>
<circle cx="634.6" cy="239.8" r="0.95" fill="#8a8a8a" fill-opacity="0.8"/>
<circle cx="518.6" cy="330.4" r="0.95" fill="#2a3ef0" fill-opacity="0.8"/>
<circle cx="527.9" cy="277.1" r="0.95" fill="#2a3ef0" fill-opacity="0.8"/>
<circle cx="660.8" cy="245.8" r="0.95" fill="#2a3ef0" fill-opacity="0.8"/>
<circle cx="562.3" cy="240.6" r="0.95" fill="#8a8a8a" fill-opacity="0.8"/>
<circle cx="665.8" cy="239.9" r="0.95" fill="#74ac46" fill-opacity="0.8"/>
<circle cx="527.9" cy="303.9" r="0.95" fill="#74ac46" fill-opacity="0.8"/>
<circle cx="670.0" cy="245.9" r="0.95" fill="#74ac46" fill-opacity="0.8"/>
<circle cx="606.1" cy="254.5" r="0.95" fill="#2a3ef0" fill-opacity="0.8"/>
<circle cx="540.1" cy="242.3" r="0.95" fill="#74ac46" fill-opacity="0.8"/>
<circle cx="567.9" cy="255.9" r="0.95" fill="#2a3ef0" fill-opacity="0.8"/>
<circle cx="566.3" cy="255.2" r="0.95" fill="#2a3ef0" fill-opacity="0.8"/>
<circle cx="601.2" cy="248.7" r="0.95" fill="#2a3ef0" fill-opacity="0.8"/>
<circle cx="609.5" cy="240.6" r="0.95" fill="#74ac46" fill-opacity="0.8"/>
<circle cx="620.9" cy="250.7" r="0.95" fill="#2a3ef0" fill-opacity="0.8"/>
<circle cx="622.0" cy="244.5" r="0.95" fill="#2a3ef0" fill-opacity="0.8"/>
<circle cx="657.5" cy="245.7" r="0.95" fill="#74ac46" fill-opacity="0.8"/>
<circle cx="670.9" cy="242.0" r="0.95" fill="#74ac46" fill-opacity="0.8"/>
<circle cx="573.2" cy="257.0" r="0.95" fill="#74ac46" fill-opacity="0.8"/>
<circle cx="639.2" cy="243.6" r="0.95" fill="#8a8a8a" fill-opacity="0.8"/>
<circle cx="645.7" cy="244.4" r="0.95" fill="#2a3ef0" fill-opacity="0.8"/>
<circle cx="634.1" cy="237.1" r="0.95" fill="#8a8a8a" fill-opacity="0.8"/>
<circle cx="541.5" cy="247.1" r="0.95" fill="#74ac46" fill-opacity="0.8"/>
<circle cx="535.9" cy="242.7" r="0.95" fill="#8a8a8a" fill-opacity="0.8"/>
<circle cx="666.3" cy="241.4" r="0.95" fill="#74ac46" fill-opacity="0.8"/>
<circle cx="670.9" cy="249.0" r="0.95" fill="#2a3ef0" fill-opacity="0.8"/>
<circle cx="624.8" cy="242.3" r="0.95" fill="#8a8a8a" fill-opacity="0.8"/>
<circle cx="542.9" cy="248.6" r="0.95" fill="#74ac46" fill-opacity="0.8"/>
<circle cx="588.2" cy="237.1" r="0.95" fill="#8a8a8a" fill-opacity="0.8"/>
<circle cx="627.9" cy="250.3" r="0.95" fill="#74ac46" fill-opacity="0.8"/>
<circle cx="553.5" cy="247.1" r="0.95" fill="#74ac46" fill-opacity="0.8"/>
<circle cx="543.6" cy="271.0" r="0.95" fill="#2a3ef0" fill-opacity="0.8"/>
<circle cx="572.0" cy="237.4" r="0.95" fill="#8a8a8a" fill-opacity="0.8"/>
<circle cx="658.4" cy="249.2" r="0.95" fill="#74ac46" fill-opacity="0.8"/>
<circle cx="602.6" cy="233.9" r="0.95" fill="#74ac46" fill-opacity="0.8"/>
<circle cx="546.1" cy="244.1" r="0.95" fill="#8a8a8a" fill-opacity="0.8"/>
<circle cx="621.4" cy="243.1" r="0.95" fill="#74ac46" fill-opacity="0.8"/>
<circle cx="592.0" cy="244.3" r="0.95" fill="#2a3ef0" fill-opacity="0.8"/>
<circle cx="643.8" cy="246.1" r="0.95" fill="#2a3ef0" fill-opacity="0.8"/>
<circle cx="590.4" cy="252.0" r="0.95" fill="#74ac46" fill-opacity="0.8"/>
<circle cx="581.3" cy="238.7" r="0.95" fill="#8a8a8a" fill-opacity="0.8"/>
<circle cx="641.5" cy="245.2" r="0.95" fill="#2a3ef0" fill-opacity="0.8"/>
<circle cx="598.7" cy="252.9" r="0.95" fill="#74ac46" fill-opacity="0.8"/>
<circle cx="569.3" cy="242.5" r="0.95" fill="#74ac46" fill-opacity="0.8"/>
<circle cx="616.8" cy="254.8" r="0.95" fill="#2a3ef0" fill-opacity="0.8"/>
<circle cx="540.6" cy="242.6" r="0.95" fill="#8a8a8a" fill-opacity="0.8"/>
<circle cx="582.2" cy="233.5" r="0.95" fill="#8a8a8a" fill-opacity="0.8"/>
<circle cx="661.7" cy="245.7" r="0.95" fill="#2a3ef0" fill-opacity="0.8"/>
<circle cx="577.1" cy="237.8" r="0.95" fill="#8a8a8a" fill-opacity="0.8"/>
<circle cx="607.2" cy="244.3" r="0.95" fill="#2a3ef0" fill-opacity="0.8"/>
<circle cx="557.7" cy="241.7" r="0.95" fill="#74ac46" fill-opacity="0.8"/>
<circle cx="664.2" cy="243.2" r="0.95" fill="#74ac46" fill-opacity="0.8"/>
<circle cx="610.5" cy="240.6" r="0.95" fill="#74ac46" fill-opacity="0.8"/>
<circle cx="534.8" cy="286.5" r="0.95" fill="#74ac46" fill-opacity="0.8"/>
<circle cx="619.3" cy="238.9" r="0.95" fill="#74ac46" fill-opacity="0.8"/>
<circle cx="585.5" cy="239.6" r="0.95" fill="#74ac46" fill-opacity="0.8"/>
<circle cx="636.2" cy="247.4" r="0.95" fill="#2a3ef0" fill-opacity="0.8"/>
<circle cx="646.4" cy="243.9" r="0.95" fill="#74ac46" fill-opacity="0.8"/>
<circle cx="657.7" cy="239.9" r="0.95" fill="#8a8a8a" fill-opacity="0.8"/>
<circle cx="537.8" cy="266.1" r="0.95" fill="#2a3ef0" fill-opacity="0.8"/>
<circle cx="526.2" cy="262.4" r="0.95" fill="#74ac46" fill-opacity="0.8"/>
<circle cx="627.9" cy="251.2" r="0.95" fill="#2a3ef0" fill-opacity="0.8"/>
<circle cx="640.6" cy="243.6" r="0.95" fill="#2a3ef0" fill-opacity="0.8"/>
<circle cx="524.8" cy="286.7" r="0.95" fill="#2a3ef0" fill-opacity="0.8"/>
<circle cx="528.3" cy="297.6" r="0.95" fill="#74ac46" fill-opacity="0.8"/>
<circle cx="601.9" cy="252.8" r="0.95" fill="#2a3ef0" fill-opacity="0.8"/>
<circle cx="618.6" cy="250.7" r="0.95" fill="#2a3ef0" fill-opacity="0.8"/>
<circle cx="533.4" cy="284.7" r="0.95" fill="#2a3ef0" fill-opacity="0.8"/>
<circle cx="670.5" cy="241.7" r="0.95" fill="#2a3ef0" fill-opacity="0.8"/>
<circle cx="570.0" cy="257.3" r="0.95" fill="#74ac46" fill-opacity="0.8"/>
<circle cx="570.6" cy="242.0" r="0.95" fill="#8a8a8a" fill-opacity="0.8"/>
<circle cx="563.7" cy="247.1" r="0.95" fill="#2a3ef0" fill-opacity="0.8"/>
<circle cx="664.6" cy="245.5" r="0.95" fill="#2a3ef0" fill-opacity="0.8"/>
<circle cx="579.9" cy="233.3" r="0.95" fill="#8a8a8a" fill-opacity="0.8"/>
<circle cx="610.7" cy="248.6" r="0.95" fill="#2a3ef0" fill-opacity="0.8"/>
<circle cx="557.0" cy="267.6" r="0.95" fill="#74ac46" fill-opacity="0.8"/>
<circle cx="660.3" cy="248.0" r="0.95" fill="#2a3ef0" fill-opacity="0.8"/>
<circle cx="533.1" cy="275.4" r="0.95" fill="#2a3ef0" fill-opacity="0.8"/>
<circle cx="658.2" cy="243.7" r="0.95" fill="#2a3ef0" fill-opacity="0.8"/>
<circle cx="555.4" cy="240.9" r="0.95" fill="#74ac46" fill-opacity="0.8"/>
<circle cx="537.1" cy="283.3" r="0.95" fill="#74ac46" fill-opacity="0.8"/>
<circle cx="566.8" cy="264.1" r="0.95" fill="#2a3ef0" fill-opacity="0.8"/>
<circle cx="625.8" cy="246.5" r="0.95" fill="#74ac46" fill-opacity="0.8"/>
<circle cx="574.8" cy="239.7" r="0.95" fill="#8a8a8a" fill-opacity="0.8"/>
<circle cx="627.1" cy="237.8" r="0.95" fill="#8a8a8a" fill-opacity="0.8"/>
<circle cx="592.7" cy="249.3" r="0.95" fill="#74ac46" fill-opacity="0.8"/>
<circle cx="662.6" cy="244.1" r="0.95" fill="#74ac46" fill-opacity="0.8"/>
<circle cx="561.9" cy="243.6" r="0.95" fill="#74ac46" fill-opacity="0.8"/>
<circle cx="548.7" cy="270.2" r="0.95" fill="#74ac46" fill-opacity="0.8"/>
<circle cx="599.8" cy="248.2" r="0.95" fill="#74ac46" fill-opacity="0.8"/>
<circle cx="549.3" cy="238.0" r="0.95" fill="#8a8a8a" fill-opacity="0.8"/>
<circle cx="540.6" cy="249.1" r="0.95" fill="#74ac46" fill-opacity="0.8"/>
<circle cx="575.7" cy="242.7" r="0.95" fill="#74ac46" fill-opacity="0.8"/>
<circle cx="532.5" cy="274.0" r="0.95" fill="#2a3ef0" fill-opacity="0.8"/>
<circle cx="591.5" cy="241.3" r="0.95" fill="#74ac46" fill-opacity="0.8"/>
<circle cx="583.6" cy="248.9" r="0.95" fill="#2a3ef0" fill-opacity="0.8"/>
<circle cx="596.4" cy="247.0" r="0.95" fill="#74ac46" fill-opacity="0.8"/>
<circle cx="547.0" cy="238.8" r="0.95" fill="#8a8a8a" fill-opacity="0.8"/>
<circle cx="588.2" cy="244.0" r="0.95" fill="#74ac46" fill-opacity="0.8"/>
<circle cx="606.3" cy="252.3" r="0.95" fill="#2a3ef0" fill-opacity="0.8"/>
<circle cx="594.3" cy="245.1" r="0.95" fill="#74ac46" fill-opacity="0.8"/>
<circle cx="518.8" cy="318.9" r="0.95" fill="#2a3ef0" fill-opacity="0.8"/>
<circle cx="535.7" cy="288.0" r="0.95" fill="#74ac46" fill-opacity="0.8"/>
<circle cx="626.7" cy="240.4" r="0.95" fill="#74ac46" fill-opacity="0.8"/>
<circle cx="628.8" cy="247.9" r="0.95" fill="#2a3ef0" fill-opacity="0.8"/>
<circle cx="647.1" cy="242.3" r="0.95" fill="#8a8a8a" fill-opacity="0.8"/>
<circle cx="623.0" cy="240.8" r="0.95" fill="#8a8a8a" fill-opacity="0.8"/>
<circle cx="595.5" cy="246.6" r="0.95" fill="#2a3ef0" fill-opacity="0.8"/>
<circle cx="658.9" cy="246.6" r="0.95" fill="#2a3ef0" fill-opacity="0.8"/>
<circle cx="647.8" cy="242.8" r="0.95" fill="#74ac46" fill-opacity="0.8"/>
<circle cx="625.6" cy="248.5" r="0.95" fill="#2a3ef0" fill-opacity="0.8"/>
<circle cx="592.9" cy="247.3" r="0.95" fill="#2a3ef0" fill-opacity="0.8"/>
<circle cx="640.6" cy="241.7" r="0.95" fill="#8a8a8a" fill-opacity="0.8"/>
<circle cx="673.4" cy="249.1" r="0.95" fill="#2a3ef0" fill-opacity="0.8"/>
<circle cx="640.1" cy="237.1" r="0.95" fill="#8a8a8a" fill-opacity="0.8"/>
<circle cx="625.3" cy="251.2" r="0.95" fill="#2a3ef0" fill-opacity="0.8"/>
<circle cx="674.2" cy="250.0" r="0.95" fill="#2a3ef0" fill-opacity="0.8"/>
<circle cx="586.2" cy="253.4" r="0.95" fill="#74ac46" fill-opacity="0.8"/>
<circle cx="563.2" cy="243.0" r="0.95" fill="#74ac46" fill-opacity="0.8"/>
<circle cx="528.3" cy="279.6" r="0.95" fill="#2a3ef0" fill-opacity="0.8"/>
<circle cx="540.4" cy="266.5" r="0.95" fill="#2a3ef0" fill-opacity="0.8"/>
<circle cx="629.9" cy="244.8" r="0.95" fill="#2a3ef0" fill-opacity="0.8"/>
<circle cx="638.1" cy="244.8" r="0.95" fill="#74ac46" fill-opacity="0.8"/>
<circle cx="627.6" cy="239.9" r="0.95" fill="#74ac46" fill-opacity="0.8"/>
<circle cx="607.7" cy="235.4" r="0.95" fill="#8a8a8a" fill-opacity="0.8"/>
<circle cx="615.1" cy="237.7" r="0.95" fill="#8a8a8a" fill-opacity="0.8"/>
<circle cx="578.3" cy="250.5" r="0.95" fill="#2a3ef0" fill-opacity="0.8"/>
<circle cx="594.5" cy="255.8" r="0.95" fill="#2a3ef0" fill-opacity="0.8"/>
<circle cx="604.9" cy="250.4" r="0.95" fill="#2a3ef0" fill-opacity="0.8"/>
<circle cx="633.6" cy="242.7" r="0.95" fill="#74ac46" fill-opacity="0.8"/>
<circle cx="589.6" cy="243.2" r="0.95" fill="#2a3ef0" fill-opacity="0.8"/>
<circle cx="636.9" cy="245.9" r="0.95" fill="#2a3ef0" fill-opacity="0.8"/>
<circle cx="638.3" cy="246.7" r="0.95" fill="#2a3ef0" fill-opacity="0.8"/>
<circle cx="636.4" cy="242.7" r="0.95" fill="#8a8a8a" fill-opacity="0.8"/>
<circle cx="544.5" cy="273.5" r="0.95" fill="#74ac46" fill-opacity="0.8"/>
<circle cx="605.8" cy="239.8" r="0.95" fill="#74ac46" fill-opacity="0.8"/>
<circle cx="548.2" cy="270.0" r="0.95" fill="#2a3ef0" fill-opacity="0.8"/>
<circle cx="583.6" cy="244.1" r="0.95" fill="#74ac46" fill-opacity="0.8"/>
<circle cx="585.9" cy="246.3" r="0.95" fill="#2a3ef0" fill-opacity="0.8"/>
<circle cx="635.5" cy="247.3" r="0.95" fill="#2a3ef0" fill-opacity="0.8"/>
<circle cx="542.9" cy="265.9" r="0.95" fill="#2a3ef0" fill-opacity="0.8"/>
<circle cx="622.5" cy="235.2" r="0.95" fill="#8a8a8a" fill-opacity="0.8"/>
<circle cx="576.7" cy="240.5" r="0.95" fill="#74ac46" fill-opacity="0.8"/>
<circle cx="608.6" cy="242.5" r="0.95" fill="#74ac46" fill-opacity="0.8"/>
<circle cx="609.1" cy="241.7" r="0.95" fill="#8a8a8a" fill-opacity="0.8"/>
<circle cx="549.8" cy="266.1" r="0.95" fill="#2a3ef0" fill-opacity="0.8"/>
<circle cx="543.8" cy="268.9" r="0.95" fill="#2a3ef0" fill-opacity="0.8"/>
<circle cx="586.9" cy="245.6" r="0.95" fill="#2a3ef0" fill-opacity="0.8"/>
<circle cx="663.7" cy="241.7" r="0.95" fill="#74ac46" fill-opacity="0.8"/>
<circle cx="671.9" cy="248.1" r="0.95" fill="#74ac46" fill-opacity="0.8"/>
<circle cx="555.2" cy="259.0" r="0.95" fill="#2a3ef0" fill-opacity="0.8"/>
<circle cx="623.0" cy="245.5" r="0.95" fill="#74ac46" fill-opacity="0.8"/>
<circle cx="529.9" cy="255.4" r="0.95" fill="#74ac46" fill-opacity="0.8"/>
<circle cx="529.9" cy="268.9" r="0.95" fill="#2a3ef0" fill-opacity="0.8"/>
<circle cx="606.3" cy="235.2" r="0.95" fill="#8a8a8a" fill-opacity="0.8"/>
<circle cx="524.8" cy="265.1" r="0.95" fill="#74ac46" fill-opacity="0.8"/>
<circle cx="589.4" cy="256.9" r="0.95" fill="#2a3ef0" fill-opacity="0.8"/>
<circle cx="525.7" cy="280.2" r="0.95" fill="#2a3ef0" fill-opacity="0.8"/>
<circle cx="658.2" cy="239.8" r="0.95" fill="#74ac46" fill-opacity="0.8"/>
<circle cx="674.2" cy="244.4" r="0.95" fill="#74ac46" fill-opacity="0.8"/>
<circle cx="634.8" cy="247.7" r="0.95" fill="#2a3ef0" fill-opacity="0.8"/>
<circle cx="524.2" cy="316.4" r="0.95" fill="#74ac46" fill-opacity="0.8"/>
<circle cx="608.2" cy="240.1" r="0.95" fill="#74ac46" fill-opacity="0.8"/>
<circle cx="655.7" cy="242.8" r="0.95" fill="#74ac46" fill-opacity="0.8"/>
<circle cx="655.2" cy="243.1" r="0.95" fill="#2a3ef0" fill-opacity="0.8"/>
<circle cx="554.9" cy="237.0" r="0.95" fill="#8a8a8a" fill-opacity="0.8"/>
<circle cx="602.9" cy="253.8" r="0.95" fill="#2a3ef0" fill-opacity="0.8"/>
<circle cx="588.7" cy="251.2" r="0.95" fill="#2a3ef0" fill-opacity="0.8"/>
<circle cx="640.6" cy="243.8" r="0.95" fill="#74ac46" fill-opacity="0.8"/>
<circle cx="627.4" cy="245.1" r="0.95" fill="#2a3ef0" fill-opacity="0.8"/>
<circle cx="675.3" cy="240.0" r="0.95" fill="#8a8a8a" fill-opacity="0.8"/>
<circle cx="534.8" cy="267.9" r="0.95" fill="#2a3ef0" fill-opacity="0.8"/>
<circle cx="659.8" cy="244.0" r="0.95" fill="#74ac46" fill-opacity="0.8"/>
<circle cx="576.9" cy="250.7" r="0.95" fill="#74ac46" fill-opacity="0.8"/>
<circle cx="654.7" cy="241.9" r="0.95" fill="#2a3ef0" fill-opacity="0.8"/>
<circle cx="590.1" cy="251.8" r="0.95" fill="#2a3ef0" fill-opacity="0.8"/>
<circle cx="557.5" cy="260.5" r="0.95" fill="#2a3ef0" fill-opacity="0.8"/>
<circle cx="541.5" cy="264.8" r="0.95" fill="#2a3ef0" fill-opacity="0.8"/>
<circle cx="622.3" cy="245.0" r="0.95" fill="#74ac46" fill-opacity="0.8"/>
<circle cx="584.8" cy="251.5" r="0.95" fill="#2a3ef0" fill-opacity="0.8"/>
<circle cx="635.0" cy="242.5" r="0.95" fill="#74ac46" fill-opacity="0.8"/>
<circle cx="571.1" cy="254.6" r="0.95" fill="#2a3ef0" fill-opacity="0.8"/>
<circle cx="533.1" cy="245.1" r="0.95" fill="#8a8a8a" fill-opacity="0.8"/>
<circle cx="518.8" cy="305.9" r="0.95" fill="#8a8a8a" fill-opacity="0.8"/>
<circle cx="619.5" cy="249.1" r="0.95" fill="#2a3ef0" fill-opacity="0.8"/>
<circle cx="550.3" cy="241.5" r="0.95" fill="#74ac46" fill-opacity="0.8"/>
<circle cx="602.1" cy="243.5" r="0.95" fill="#74ac46" fill-opacity="0.8"/>
<circle cx="670.2" cy="242.4" r="0.95" fill="#2a3ef0" fill-opacity="0.8"/>
<circle cx="589.2" cy="231.4" r="0.95" fill="#8a8a8a" fill-opacity="0.8"/>
<circle cx="590.1" cy="237.8" r="0.95" fill="#8a8a8a" fill-opacity="0.8"/>
<circle cx="620.2" cy="239.7" r="0.95" fill="#74ac46" fill-opacity="0.8"/>
<circle cx="524.3" cy="260.8" r="0.95" fill="#8a8a8a" fill-opacity="0.8"/>
<circle cx="671.1" cy="235.1" r="0.95" fill="#8a8a8a" fill-opacity="0.8"/>
<circle cx="655.9" cy="244.8" r="0.95" fill="#2a3ef0" fill-opacity="0.8"/>
<circle cx="554.4" cy="238.2" r="0.95" fill="#8a8a8a" fill-opacity="0.8"/>
<circle cx="580.6" cy="252.8" r="0.95" fill="#2a3ef0" fill-opacity="0.8"/>
<circle cx="549.6" cy="261.2" r="0.95" fill="#2a3ef0" fill-opacity="0.8"/>
<circle cx="533.4" cy="290.9" r="0.95" fill="#74ac46" fill-opacity="0.8"/>
<circle cx="667.7" cy="251.2" r="0.95" fill="#2a3ef0" fill-opacity="0.8"/>
<circle cx="577.6" cy="249.9" r="0.95" fill="#2a3ef0" fill-opacity="0.8"/>
<circle cx="642.0" cy="248.2" r="0.95" fill="#8a8a8a" fill-opacity="0.8"/>
<circle cx="618.8" cy="240.3" r="0.95" fill="#74ac46" fill-opacity="0.8"/>
<circle cx="553.3" cy="265.9" r="0.95" fill="#74ac46" fill-opacity="0.8"/>
<circle cx="529.4" cy="278.1" r="0.95" fill="#2a3ef0" fill-opacity="0.8"/>
<circle cx="528.0" cy="264.3" r="0.95" fill="#74ac46" fill-opacity="0.8"/>
<circle cx="597.0" cy="234.0" r="0.95" fill="#8a8a8a" fill-opacity="0.8"/>
<circle cx="641.3" cy="246.0" r="0.95" fill="#74ac46" fill-opacity="0.8"/>
<circle cx="522.5" cy="292.3" r="0.95" fill="#2a3ef0" fill-opacity="0.8"/>
<circle cx="558.6" cy="240.4" r="0.95" fill="#74ac46" fill-opacity="0.8"/>
<circle cx="658.0" cy="242.3" r="0.95" fill="#2a3ef0" fill-opacity="0.8"/>
<circle cx="659.1" cy="245.5" r="0.95" fill="#2a3ef0" fill-opacity="0.8"/>
<circle cx="545.9" cy="265.5" r="0.95" fill="#2a3ef0" fill-opacity="0.8"/>
<circle cx="529.0" cy="256.3" r="0.95" fill="#8a8a8a" fill-opacity="0.8"/>
<circle cx="597.3" cy="245.5" r="0.95" fill="#2a3ef0" fill-opacity="0.8"/>
<circle cx="610.0" cy="242.7" r="0.95" fill="#2a3ef0" fill-opacity="0.8"/>
<circle cx="659.1" cy="242.2" r="0.95" fill="#8a8a8a" fill-opacity="0.8"/>
<circle cx="553.5" cy="265.7" r="0.95" fill="#2a3ef0" fill-opacity="0.8"/>
<circle cx="620.2" cy="253.0" r="0.95" fill="#2a3ef0" fill-opacity="0.8"/>
<circle cx="626.2" cy="245.3" r="0.95" fill="#8a8a8a" fill-opacity="0.8"/>
<circle cx="574.2" cy="255.1" r="0.95" fill="#2a3ef0" fill-opacity="0.8"/>
<circle cx="568.6" cy="257.1" r="0.95" fill="#74ac46" fill-opacity="0.8"/>
<circle cx="560.0" cy="256.2" r="0.95" fill="#2a3ef0" fill-opacity="0.8"/>
<circle cx="606.6" cy="249.4" r="0.95" fill="#74ac46" fill-opacity="0.8"/>
<circle cx="646.1" cy="244.2" r="0.95" fill="#2a3ef0" fill-opacity="0.8"/>
<circle cx="672.5" cy="243.8" r="0.95" fill="#2a3ef0" fill-opacity="0.8"/>
<circle cx="654.0" cy="238.3" r="0.95" fill="#8a8a8a" fill-opacity="0.8"/>
<circle cx="556.3" cy="239.2" r="0.95" fill="#8a8a8a" fill-opacity="0.8"/>
<circle cx="612.3" cy="233.8" r="0.95" fill="#8a8a8a" fill-opacity="0.8"/>
<circle cx="666.5" cy="242.1" r="0.95" fill="#74ac46" fill-opacity="0.8"/>
<circle cx="530.8" cy="274.9" r="0.95" fill="#2a3ef0" fill-opacity="0.8"/>
<circle cx="653.8" cy="245.8" r="0.95" fill="#74ac46" fill-opacity="0.8"/>
<circle cx="573.4" cy="249.5" r="0.95" fill="#2a3ef0" fill-opacity="0.8"/>
<circle cx="519.3" cy="312.7" r="0.95" fill="#2a3ef0" fill-opacity="0.8"/>
<circle cx="555.8" cy="236.8" r="0.95" fill="#8a8a8a" fill-opacity="0.8"/>
<circle cx="593.3" cy="235.6" r="0.95" fill="#74ac46" fill-opacity="0.8"/>
<circle cx="587.1" cy="249.6" r="0.95" fill="#74ac46" fill-opacity="0.8"/>
<circle cx="598.0" cy="246.6" r="0.95" fill="#74ac46" fill-opacity="0.8"/>
<circle cx="653.1" cy="239.4" r="0.95" fill="#8a8a8a" fill-opacity="0.8"/>
<circle cx="524.6" cy="282.2" r="0.95" fill="#2a3ef0" fill-opacity="0.8"/>
<circle cx="611.7" cy="246.1" r="0.95" fill="#2a3ef0" fill-opacity="0.8"/>
<circle cx="561.2" cy="259.8" r="0.95" fill="#2a3ef0" fill-opacity="0.8"/>
<circle cx="588.2" cy="245.7" r="0.95" fill="#2a3ef0" fill-opacity="0.8"/>
<circle cx="598.7" cy="246.1" r="0.95" fill="#2a3ef0" fill-opacity="0.8"/>
<circle cx="561.4" cy="242.5" r="0.95" fill="#74ac46" fill-opacity="0.8"/>
<circle cx="566.9" cy="240.5" r="0.95" fill="#74ac46" fill-opacity="0.8"/>
<circle cx="533.6" cy="253.1" r="0.95" fill="#74ac46" fill-opacity="0.8"/>
<circle cx="598.0" cy="241.4" r="0.95" fill="#8a8a8a" fill-opacity="0.8"/>
<circle cx="670.2" cy="237.5" r="0.95" fill="#8a8a8a" fill-opacity="0.8"/>
<circle cx="555.2" cy="265.7" r="0.95" fill="#74ac46" fill-opacity="0.8"/>
<circle cx="627.6" cy="242.2" r="0.95" fill="#2a3ef0" fill-opacity="0.8"/>
<circle cx="660.5" cy="250.6" r="0.95" fill="#2a3ef0" fill-opacity="0.8"/>
<circle cx="576.5" cy="245.8" r="0.95" fill="#2a3ef0" fill-opacity="0.8"/>
<circle cx="596.1" cy="252.8" r="0.95" fill="#2a3ef0" fill-opacity="0.8"/>
<circle cx="635.5" cy="239.2" r="0.95" fill="#74ac46" fill-opacity="0.8"/>
<circle cx="565.1" cy="241.3" r="0.95" fill="#8a8a8a" fill-opacity="0.8"/>
<circle cx="655.4" cy="241.9" r="0.95" fill="#8a8a8a" fill-opacity="0.8"/>
<circle cx="646.6" cy="240.3" r="0.95" fill="#8a8a8a" fill-opacity="0.8"/>
<circle cx="647.1" cy="240.1" r="0.95" fill="#74ac46" fill-opacity="0.8"/>
<circle cx="608.2" cy="245.2" r="0.95" fill="#2a3ef0" fill-opacity="0.8"/>
<circle cx="656.3" cy="247.6" r="0.95" fill="#2a3ef0" fill-opacity="0.8"/>
<circle cx="638.7" cy="241.6" r="0.95" fill="#74ac46" fill-opacity="0.8"/>
<circle cx="571.1" cy="237.6" r="0.95" fill="#8a8a8a" fill-opacity="0.8"/>
<circle cx="605.4" cy="250.4" r="0.95" fill="#2a3ef0" fill-opacity="0.8"/>
<circle cx="575.5" cy="257.7" r="0.95" fill="#74ac46" fill-opacity="0.8"/>
<circle cx="620.2" cy="241.8" r="0.95" fill="#8a8a8a" fill-opacity="0.8"/>
<circle cx="520.2" cy="292.8" r="0.95" fill="#74ac46" fill-opacity="0.8"/>
<circle cx="625.8" cy="241.3" r="0.95" fill="#8a8a8a" fill-opacity="0.8"/>
<circle cx="560.7" cy="264.4" r="0.95" fill="#74ac46" fill-opacity="0.8"/>
<circle cx="567.7" cy="259.1" r="0.95" fill="#2a3ef0" fill-opacity="0.8"/>
<circle cx="591.8" cy="252.0" r="0.95" fill="#2a3ef0" fill-opacity="0.8"/>
<circle cx="554.7" cy="266.2" r="0.95" fill="#74ac46" fill-opacity="0.8"/>
<circle cx="617.7" cy="247.9" r="0.95" fill="#2a3ef0" fill-opacity="0.8"/>
<circle cx="575.3" cy="238.2" r="0.95" fill="#8a8a8a" fill-opacity="0.8"/>
<circle cx="657.7" cy="239.8" r="0.95" fill="#74ac46" fill-opacity="0.8"/>
<circle cx="643.8" cy="242.2" r="0.95" fill="#8a8a8a" fill-opacity="0.8"/>
<circle cx="539.4" cy="278.8" r="0.95" fill="#2a3ef0" fill-opacity="0.8"/>
<circle cx="601.2" cy="241.4" r="0.95" fill="#8a8a8a" fill-opacity="0.8"/>
<circle cx="626.9" cy="249.7" r="0.95" fill="#2a3ef0" fill-opacity="0.8"/>
<circle cx="566.0" cy="235.5" r="0.95" fill="#8a8a8a" fill-opacity="0.8"/>
<circle cx="542.7" cy="277.3" r="0.95" fill="#74ac46" fill-opacity="0.8"/>
<circle cx="576.0" cy="253.2" r="0.95" fill="#74ac46" fill-opacity="0.8"/>
<circle cx="525.3" cy="258.2" r="0.95" fill="#74ac46" fill-opacity="0.8"/>
<circle cx="652.1" cy="246.1" r="0.95" fill="#2a3ef0" fill-opacity="0.8"/>
<circle cx="629.0" cy="243.0" r="0.95" fill="#8a8a8a" fill-opacity="0.8"/>
<circle cx="654.7" cy="241.7" r="0.95" fill="#74ac46" fill-opacity="0.8"/>
<circle cx="525.7" cy="256.7" r="0.95" fill="#8a8a8a" fill-opacity="0.8"/>
<circle cx="622.8" cy="243.9" r="0.95" fill="#2a3ef0" fill-opacity="0.8"/>
<circle cx="649.6" cy="246.5" r="0.95" fill="#74ac46" fill-opacity="0.8"/>
<circle cx="604.9" cy="245.1" r="0.95" fill="#74ac46" fill-opacity="0.8"/>
<circle cx="626.7" cy="243.1" r="0.95" fill="#8a8a8a" fill-opacity="0.8"/>
<circle cx="617.2" cy="255.0" r="0.95" fill="#2a3ef0" fill-opacity="0.8"/>
<circle cx="547.0" cy="244.4" r="0.95" fill="#74ac46" fill-opacity="0.8"/>
<circle cx="671.6" cy="236.6" r="0.95" fill="#2a3ef0" fill-opacity="0.8"/>
<circle cx="670.5" cy="242.5" r="0.95" fill="#74ac46" fill-opacity="0.8"/>
<circle cx="538.7" cy="270.5" r="0.95" fill="#2a3ef0" fill-opacity="0.8"/>
<circle cx="628.3" cy="252.4" r="0.95" fill="#2a3ef0" fill-opacity="0.8"/>
<circle cx="603.3" cy="250.3" r="0.95" fill="#2a3ef0" fill-opacity="0.8"/>
<circle cx="606.8" cy="240.1" r="0.95" fill="#2a3ef0" fill-opacity="0.8"/>
<circle cx="618.3" cy="244.4" r="0.95" fill="#74ac46" fill-opacity="0.8"/>
<circle cx="592.4" cy="245.5" r="0.95" fill="#74ac46" fill-opacity="0.8"/>
<circle cx="672.5" cy="238.5" r="0.95" fill="#8a8a8a" fill-opacity="0.8"/>
<circle cx="518.3" cy="319.8" r="0.95" fill="#8a8a8a" fill-opacity="0.8"/>
<circle cx="610.9" cy="252.5" r="0.95" fill="#2a3ef0" fill-opacity="0.8"/>
<circle cx="608.0" cy="253.4" r="0.95" fill="#2a3ef0" fill-opacity="0.8"/>
<circle cx="598.9" cy="235.7" r="0.95" fill="#8a8a8a" fill-opacity="0.8"/>
<circle cx="524.3" cy="264.6" r="0.95" fill="#74ac46" fill-opacity="0.8"/>
<circle cx="634.4" cy="249.6" r="0.95" fill="#74ac46" fill-opacity="0.8"/>
<circle cx="522.3" cy="288.2" r="0.95" fill="#2a3ef0" fill-opacity="0.8"/>
<circle cx="577.4" cy="249.5" r="0.95" fill="#2a3ef0" fill-opacity="0.8"/>
<circle cx="600.1" cy="246.8" r="0.95" fill="#2a3ef0" fill-opacity="0.8"/>
<circle cx="655.9" cy="240.0" r="0.95" fill="#8a8a8a" fill-opacity="0.8"/>
<circle cx="653.1" cy="236.3" r="0.95" fill="#74ac46" fill-opacity="0.8"/>
<circle cx="668.4" cy="243.1" r="0.95" fill="#74ac46" fill-opacity="0.8"/>
<circle cx="653.5" cy="245.2" r="0.95" fill="#2a3ef0" fill-opacity="0.8"/>
<circle cx="569.7" cy="235.6" r="0.95" fill="#8a8a8a" fill-opacity="0.8"/>
<circle cx="535.7" cy="272.7" r="0.95" fill="#2a3ef0" fill-opacity="0.8"/>
<circle cx="559.3" cy="258.5" r="0.95" fill="#74ac46" fill-opacity="0.8"/>
<circle cx="652.1" cy="245.2" r="0.95" fill="#8a8a8a" fill-opacity="0.8"/>
<circle cx="647.5" cy="246.8" r="0.95" fill="#8a8a8a" fill-opacity="0.8"/>
<circle cx="542.2" cy="280.3" r="0.95" fill="#74ac46" fill-opacity="0.8"/>
<circle cx="586.7" cy="250.1" r="0.95" fill="#74ac46" fill-opacity="0.8"/>
<circle cx="627.1" cy="245.6" r="0.95" fill="#74ac46" fill-opacity="0.8"/>
<circle cx="570.6" cy="255.1" r="0.95" fill="#2a3ef0" fill-opacity="0.8"/>
<circle cx="612.8" cy="235.8" r="0.95" fill="#8a8a8a" fill-opacity="0.8"/>
<circle cx="530.2" cy="294.5" r="0.95" fill="#74ac46" fill-opacity="0.8"/>
<circle cx="638.3" cy="239.1" r="0.95" fill="#74ac46" fill-opacity="0.8"/>
<circle cx="672.1" cy="246.8" r="0.95" fill="#74ac46" fill-opacity="0.8"/>
<circle cx="648.9" cy="234.7" r="0.95" fill="#8a8a8a" fill-opacity="0.8"/>
<circle cx="558.1" cy="238.4" r="0.95" fill="#8a8a8a" fill-opacity="0.8"/>
<circle cx="641.0" cy="242.5" r="0.95" fill="#74ac46" fill-opacity="0.8"/>
<circle cx="596.9" cy="255.6" r="0.95" fill="#74ac46" fill-opacity="0.8"/>
<circle cx="590.8" cy="247.9" r="0.95" fill="#2a3ef0" fill-opacity="0.8"/>
<circle cx="596.6" cy="236.7" r="0.95" fill="#8a8a8a" fill-opacity="0.8"/>
<circle cx="522.0" cy="271.5" r="0.95" fill="#74ac46" fill-opacity="0.8"/>
<circle cx="675.6" cy="249.2" r="0.95" fill="#2a3ef0" fill-opacity="0.8"/>
<circle cx="626.2" cy="238.4" r="0.95" fill="#74ac46" fill-opacity="0.8"/>
<circle cx="666.5" cy="244.2" r="0.95" fill="#8a8a8a" fill-opacity="0.8"/>
<circle cx="588.1" cy="249.8" r="0.95" fill="#2a3ef0" fill-opacity="0.8"/>
<circle cx="563.5" cy="251.7" r="0.95" fill="#2a3ef0" fill-opacity="0.8"/>
<circle cx="578.5" cy="253.6" r="0.95" fill="#2a3ef0" fill-opacity="0.8"/>
<circle cx="653.5" cy="241.6" r="0.95" fill="#8a8a8a" fill-opacity="0.8"/>
<circle cx="623.4" cy="247.9" r="0.95" fill="#2a3ef0" fill-opacity="0.8"/>
<circle cx="583.2" cy="235.6" r="0.95" fill="#8a8a8a" fill-opacity="0.8"/>
<circle cx="551.5" cy="265.0" r="0.95" fill="#74ac46" fill-opacity="0.8"/>
<circle cx="535.5" cy="250.2" r="0.95" fill="#8a8a8a" fill-opacity="0.8"/>
<circle cx="564.4" cy="250.7" r="0.95" fill="#2a3ef0" fill-opacity="0.8"/>
<circle cx="554.7" cy="263.4" r="0.95" fill="#2a3ef0" fill-opacity="0.8"/>
<circle cx="622.0" cy="238.8" r="0.95" fill="#74ac46" fill-opacity="0.8"/>
<circle cx="650.3" cy="248.5" r="0.95" fill="#2a3ef0" fill-opacity="0.8"/>
<circle cx="599.4" cy="233.6" r="0.95" fill="#8a8a8a" fill-opacity="0.8"/>
<circle cx="603.5" cy="241.1" r="0.95" fill="#74ac46" fill-opacity="0.8"/>
<circle cx="581.3" cy="242.8" r="0.95" fill="#74ac46" fill-opacity="0.8"/>
<circle cx="604.3" cy="250.3" r="0.95" fill="#74ac46" fill-opacity="0.8"/>
<circle cx="560.0" cy="241.2" r="0.95" fill="#8a8a8a" fill-opacity="0.8"/>
<circle cx="622.8" cy="247.0" r="0.95" fill="#74ac46" fill-opacity="0.8"/>
<circle cx="612.3" cy="241.7" r="0.95" fill="#2a3ef0" fill-opacity="0.8"/>
<circle cx="613.3" cy="234.7" r="0.95" fill="#8a8a8a" fill-opacity="0.8"/>
<circle cx="557.7" cy="236.8" r="0.95" fill="#8a8a8a" fill-opacity="0.8"/>
<circle cx="532.2" cy="266.0" r="0.95" fill="#2a3ef0" fill-opacity="0.8"/>
<circle cx="548.9" cy="247.4" r="0.95" fill="#74ac46" fill-opacity="0.8"/>
<circle cx="550.1" cy="269.8" r="0.95" fill="#74ac46" fill-opacity="0.8"/>
<circle cx="638.1" cy="256.2" r="0.95" fill="#2a3ef0" fill-opacity="0.8"/>
<circle cx="639.6" cy="243.7" r="0.95" fill="#2a3ef0" fill-opacity="0.8"/>
<circle cx="623.9" cy="239.3" r="0.95" fill="#74ac46" fill-opacity="0.8"/>
<circle cx="609.8" cy="244.8" r="0.95" fill="#2a3ef0" fill-opacity="0.8"/>
<circle cx="575.3" cy="238.2" r="0.95" fill="#74ac46" fill-opacity="0.8"/>
<circle cx="663.1" cy="245.9" r="0.95" fill="#74ac46" fill-opacity="0.8"/>
<circle cx="666.3" cy="246.7" r="0.95" fill="#2a3ef0" fill-opacity="0.8"/>
<circle cx="567.7" cy="258.8" r="0.95" fill="#74ac46" fill-opacity="0.8"/>
<circle cx="657.5" cy="244.6" r="0.95" fill="#2a3ef0" fill-opacity="0.8"/>
<circle cx="574.6" cy="258.9" r="0.95" fill="#2a3ef0" fill-opacity="0.8"/>
<circle cx="656.8" cy="244.3" r="0.95" fill="#8a8a8a" fill-opacity="0.8"/>
<circle cx="583.2" cy="251.7" r="0.95" fill="#2a3ef0" fill-opacity="0.8"/>
<circle cx="596.9" cy="250.6" r="0.95" fill="#2a3ef0" fill-opacity="0.8"/>
<circle cx="608.0" cy="251.8" r="0.95" fill="#74ac46" fill-opacity="0.8"/>
<circle cx="550.5" cy="259.5" r="0.95" fill="#2a3ef0" fill-opacity="0.8"/>
<circle cx="542.4" cy="238.9" r="0.95" fill="#8a8a8a" fill-opacity="0.8"/>
<circle cx="622.5" cy="240.8" r="0.95" fill="#74ac46" fill-opacity="0.8"/>
<circle cx="527.6" cy="252.6" r="0.95" fill="#8a8a8a" fill-opacity="0.8"/>
<circle cx="644.1" cy="242.8" r="0.95" fill="#74ac46" fill-opacity="0.8"/>
<circle cx="572.5" cy="242.8" r="0.95" fill="#74ac46" fill-opacity="0.8"/>
<circle cx="544.3" cy="265.0" r="0.95" fill="#2a3ef0" fill-opacity="0.8"/>
<circle cx="639.2" cy="245.6" r="0.95" fill="#2a3ef0" fill-opacity="0.8"/>
<circle cx="596.1" cy="238.7" r="0.95" fill="#74ac46" fill-opacity="0.8"/>
<circle cx="527.6" cy="259.2" r="0.95" fill="#74ac46" fill-opacity="0.8"/>
<circle cx="533.6" cy="251.4" r="0.95" fill="#8a8a8a" fill-opacity="0.8"/>
<circle cx="556.8" cy="244.7" r="0.95" fill="#74ac46" fill-opacity="0.8"/>
<circle cx="642.9" cy="241.1" r="0.95" fill="#8a8a8a" fill-opacity="0.8"/>
<circle cx="668.8" cy="238.9" r="0.95" fill="#74ac46" fill-opacity="0.8"/>
<circle cx="594.1" cy="253.2" r="0.95" fill="#2a3ef0" fill-opacity="0.8"/>
<circle cx="523.7" cy="284.9" r="0.95" fill="#2a3ef0" fill-opacity="0.8"/>
<circle cx="648.2" cy="250.5" r="0.95" fill="#2a3ef0" fill-opacity="0.8"/>
<circle cx="589.0" cy="248.7" r="0.95" fill="#2a3ef0" fill-opacity="0.8"/>
<circle cx="660.5" cy="243.1" r="0.95" fill="#8a8a8a" fill-opacity="0.8"/>
<circle cx="578.1" cy="245.7" r="0.95" fill="#74ac46" fill-opacity="0.8"/>
<circle cx="615.1" cy="238.2" r="0.95" fill="#74ac46" fill-opacity="0.8"/>
<circle cx="600.7" cy="246.5" r="0.95" fill="#2a3ef0" fill-opacity="0.8"/>
<circle cx="568.6" cy="258.4" r="0.95" fill="#2a3ef0" fill-opacity="0.8"/>
<circle cx="565.6" cy="241.5" r="0.95" fill="#8a8a8a" fill-opacity="0.8"/>
<circle cx="546.4" cy="262.8" r="0.95" fill="#2a3ef0" fill-opacity="0.8"/>
<circle cx="647.3" cy="245.2" r="0.95" fill="#74ac46" fill-opacity="0.8"/>
<circle cx="528.0" cy="253.8" r="0.95" fill="#8a8a8a" fill-opacity="0.8"/>
<circle cx="537.3" cy="271.0" r="0.95" fill="#2a3ef0" fill-opacity="0.8"/>
<circle cx="571.4" cy="255.6" r="0.95" fill="#2a3ef0" fill-opacity="0.8"/>
<circle cx="527.1" cy="281.6" r="0.95" fill="#2a3ef0" fill-opacity="0.8"/>
<circle cx="570.2" cy="254.9" r="0.95" fill="#2a3ef0" fill-opacity="0.8"/>
<circle cx="599.4" cy="241.9" r="0.95" fill="#74ac46" fill-opacity="0.8"/>
<circle cx="649.2" cy="245.4" r="0.95" fill="#74ac46" fill-opacity="0.8"/>
<circle cx="642.2" cy="246.2" r="0.95" fill="#74ac46" fill-opacity="0.8"/>
<circle cx="629.9" cy="246.9" r="0.95" fill="#74ac46" fill-opacity="0.8"/>
<circle cx="592.2" cy="247.2" r="0.95" fill="#2a3ef0" fill-opacity="0.8"/>
<circle cx="592.7" cy="249.9" r="0.95" fill="#2a3ef0" fill-opacity="0.8"/>
<circle cx="530.4" cy="283.2" r="0.95" fill="#2a3ef0" fill-opacity="0.8"/>
<circle cx="589.0" cy="252.0" r="0.95" fill="#74ac46" fill-opacity="0.8"/>
<circle cx="671.4" cy="244.5" r="0.95" fill="#74ac46" fill-opacity="0.8"/>
<circle cx="642.2" cy="246.1" r="0.95" fill="#2a3ef0" fill-opacity="0.8"/>
<circle cx="520.4" cy="302.6" r="0.95" fill="#2a3ef0" fill-opacity="0.8"/>
<circle cx="669.5" cy="253.2" r="0.95" fill="#2a3ef0" fill-opacity="0.8"/>
<circle cx="541.0" cy="239.5" r="0.95" fill="#8a8a8a" fill-opacity="0.8"/>
<circle cx="670.7" cy="243.3" r="0.95" fill="#74ac46" fill-opacity="0.8"/>
<circle cx="669.1" cy="245.8" r="0.95" fill="#74ac46" fill-opacity="0.8"/>
<circle cx="579.7" cy="249.8" r="0.95" fill="#2a3ef0" fill-opacity="0.8"/>
<circle cx="518.3" cy="326.1" r="0.95" fill="#2a3ef0" fill-opacity="0.8"/>
<circle cx="668.4" cy="240.5" r="0.95" fill="#8a8a8a" fill-opacity="0.8"/>
<circle cx="541.3" cy="280.5" r="0.95" fill="#74ac46" fill-opacity="0.8"/>
<circle cx="673.0" cy="241.3" r="0.95" fill="#8a8a8a" fill-opacity="0.8"/>
<circle cx="589.6" cy="238.5" r="0.95" fill="#8a8a8a" fill-opacity="0.8"/>
<circle cx="583.4" cy="254.6" r="0.95" fill="#2a3ef0" fill-opacity="0.8"/>
<circle cx="597.3" cy="251.5" r="0.95" fill="#74ac46" fill-opacity="0.8"/>
<circle cx="544.7" cy="258.6" r="0.95" fill="#2a3ef0" fill-opacity="0.8"/>
<circle cx="575.3" cy="252.0" r="0.95" fill="#2a3ef0" fill-opacity="0.8"/>
<circle cx="595.2" cy="242.0" r="0.95" fill="#8a8a8a" fill-opacity="0.8"/>
<circle cx="603.5" cy="251.6" r="0.95" fill="#2a3ef0" fill-opacity="0.8"/>
<circle cx="611.4" cy="239.5" r="0.95" fill="#74ac46" fill-opacity="0.8"/>
<circle cx="655.7" cy="254.0" r="0.95" fill="#2a3ef0" fill-opacity="0.8"/>
<circle cx="548.4" cy="239.0" r="0.95" fill="#8a8a8a" fill-opacity="0.8"/>
<circle cx="523.0" cy="264.5" r="0.95" fill="#8a8a8a" fill-opacity="0.8"/>
<circle cx="593.1" cy="249.8" r="0.95" fill="#74ac46" fill-opacity="0.8"/>
<circle cx="610.5" cy="240.8" r="0.95" fill="#8a8a8a" fill-opacity="0.8"/>
<circle cx="612.6" cy="244.8" r="0.95" fill="#2a3ef0" fill-opacity="0.8"/>
<circle cx="561.9" cy="260.2" r="0.95" fill="#2a3ef0" fill-opacity="0.8"/>
<circle cx="587.6" cy="254.3" r="0.95" fill="#74ac46" fill-opacity="0.8"/>
<circle cx="539.6" cy="244.8" r="0.95" fill="#8a8a8a" fill-opacity="0.8"/>
<circle cx="571.4" cy="255.8" r="0.95" fill="#74ac46" fill-opacity="0.8"/>
<circle cx="614.6" cy="235.3" r="0.95" fill="#74ac46" fill-opacity="0.8"/>
<circle cx="637.8" cy="248.5" r="0.95" fill="#2a3ef0" fill-opacity="0.8"/>
<circle cx="632.7" cy="241.3" r="0.95" fill="#8a8a8a" fill-opacity="0.8"/>
<circle cx="543.3" cy="244.2" r="0.95" fill="#74ac46" fill-opacity="0.8"/>
<circle cx="586.4" cy="236.1" r="0.95" fill="#74ac46" fill-opacity="0.8"/>
<circle cx="662.6" cy="243.1" r="0.95" fill="#2a3ef0" fill-opacity="0.8"/>
<circle cx="617.4" cy="241.4" r="0.95" fill="#2a3ef0" fill-opacity="0.8"/>
<circle cx="545.2" cy="243.2" r="0.95" fill="#8a8a8a" fill-opacity="0.8"/>
<circle cx="535.3" cy="271.0" r="0.95" fill="#2a3ef0" fill-opacity="0.8"/>
<circle cx="628.5" cy="232.6" r="0.95" fill="#8a8a8a" fill-opacity="0.8"/>
<circle cx="646.9" cy="241.7" r="0.95" fill="#74ac46" fill-opacity="0.8"/>
<circle cx="558.1" cy="238.6" r="0.95" fill="#74ac46" fill-opacity="0.8"/>
<circle cx="558.0" cy="259.1" r="0.95" fill="#2a3ef0" fill-opacity="0.8"/>
<circle cx="591.8" cy="250.1" r="0.95" fill="#74ac46" fill-opacity="0.8"/>
<circle cx="643.8" cy="239.8" r="0.95" fill="#74ac46" fill-opacity="0.8"/>
<circle cx="603.5" cy="235.0" r="0.95" fill="#8a8a8a" fill-opacity="0.8"/>
<circle cx="659.4" cy="242.3" r="0.95" fill="#74ac46" fill-opacity="0.8"/>
<circle cx="532.7" cy="258.3" r="0.95" fill="#74ac46" fill-opacity="0.8"/>
<circle cx="668.8" cy="240.7" r="0.95" fill="#8a8a8a" fill-opacity="0.8"/>
<circle cx="661.9" cy="241.9" r="0.95" fill="#8a8a8a" fill-opacity="0.8"/>
<circle cx="521.6" cy="267.8" r="0.95" fill="#8a8a8a" fill-opacity="0.8"/>
<circle cx="607.7" cy="244.8" r="0.95" fill="#2a3ef0" fill-opacity="0.8"/>
<circle cx="534.5" cy="243.8" r="0.95" fill="#8a8a8a" fill-opacity="0.8"/>
<circle cx="662.3" cy="243.3" r="0.95" fill="#8a8a8a" fill-opacity="0.8"/>
<circle cx="674.8" cy="240.7" r="0.95" fill="#74ac46" fill-opacity="0.8"/>
<circle cx="622.3" cy="244.1" r="0.95" fill="#2a3ef0" fill-opacity="0.8"/>
<circle cx="540.8" cy="282.4" r="0.95" fill="#74ac46" fill-opacity="0.8"/>
<circle cx="606.8" cy="242.7" r="0.95" fill="#8a8a8a" fill-opacity="0.8"/>
<circle cx="606.6" cy="246.0" r="0.95" fill="#2a3ef0" fill-opacity="0.8"/>
<circle cx="606.3" cy="250.5" r="0.95" fill="#74ac46" fill-opacity="0.8"/>
<circle cx="572.3" cy="253.2" r="0.95" fill="#2a3ef0" fill-opacity="0.8"/>
<circle cx="616.3" cy="250.0" r="0.95" fill="#74ac46" fill-opacity="0.8"/>
<circle cx="573.4" cy="239.7" r="0.95" fill="#8a8a8a" fill-opacity="0.8"/>
<circle cx="648.0" cy="243.0" r="0.95" fill="#8a8a8a" fill-opacity="0.8"/>
<circle cx="559.5" cy="241.8" r="0.95" fill="#8a8a8a" fill-opacity="0.8"/>
<circle cx="536.8" cy="271.6" r="0.95" fill="#2a3ef0" fill-opacity="0.8"/>
<circle cx="655.9" cy="241.2" r="0.95" fill="#74ac46" fill-opacity="0.8"/>
<circle cx="610.3" cy="244.7" r="0.95" fill="#2a3ef0" fill-opacity="0.8"/>
<circle cx="529.7" cy="281.1" r="0.95" fill="#2a3ef0" fill-opacity="0.8"/>
<circle cx="609.8" cy="248.9" r="0.95" fill="#74ac46" fill-opacity="0.8"/>
<circle cx="520.6" cy="280.1" r="0.95" fill="#8a8a8a" fill-opacity="0.8"/>
<circle cx="543.3" cy="266.2" r="0.95" fill="#2a3ef0" fill-opacity="0.8"/>
<circle cx="626.0" cy="246.7" r="0.95" fill="#74ac46" fill-opacity="0.8"/>
<circle cx="636.2" cy="244.4" r="0.95" fill="#74ac46" fill-opacity="0.8"/>
<circle cx="652.6" cy="239.5" r="0.95" fill="#8a8a8a" fill-opacity="0.8"/>
<circle cx="641.8" cy="243.7" r="0.95" fill="#2a3ef0" fill-opacity="0.8"/>
<circle cx="566.5" cy="237.1" r="0.95" fill="#8a8a8a" fill-opacity="0.8"/>
<circle cx="581.1" cy="242.5" r="0.95" fill="#2a3ef0" fill-opacity="0.8"/>
<circle cx="546.1" cy="240.3" r="0.95" fill="#74ac46" fill-opacity="0.8"/>
<circle cx="631.8" cy="247.4" r="0.95" fill="#2a3ef0" fill-opacity="0.8"/>
<circle cx="532.7" cy="272.4" r="0.95" fill="#2a3ef0" fill-opacity="0.8"/>
<circle cx="658.6" cy="249.4" r="0.95" fill="#74ac46" fill-opacity="0.8"/>
<circle cx="649.8" cy="242.4" r="0.95" fill="#8a8a8a" fill-opacity="0.8"/>
<circle cx="638.3" cy="239.8" r="0.95" fill="#8a8a8a" fill-opacity="0.8"/>
<circle cx="635.0" cy="252.9" r="0.95" fill="#2a3ef0" fill-opacity="0.8"/>
<circle cx="527.1" cy="256.8" r="0.95" fill="#8a8a8a" fill-opacity="0.8"/>
<circle cx="572.5" cy="253.6" r="0.95" fill="#2a3ef0" fill-opacity="0.8"/>
<circle cx="609.1" cy="241.2" r="0.95" fill="#74ac46" fill-opacity="0.8"/>
<circle cx="532.9" cy="288.0" r="0.95" fill="#74ac46" fill-opacity="0.8"/>
<circle cx="590.6" cy="249.1" r="0.95" fill="#2a3ef0" fill-opacity="0.8"/>
<circle cx="611.9" cy="242.3" r="0.95" fill="#74ac46" fill-opacity="0.8"/>
<circle cx="605.6" cy="248.7" r="0.95" fill="#74ac46" fill-opacity="0.8"/>
<circle cx="659.6" cy="248.4" r="0.95" fill="#2a3ef0" fill-opacity="0.8"/>
<circle cx="562.1" cy="258.9" r="0.95" fill="#74ac46" fill-opacity="0.8"/>
<circle cx="557.2" cy="237.8" r="0.95" fill="#8a8a8a" fill-opacity="0.8"/>
<circle cx="562.8" cy="238.6" r="0.95" fill="#8a8a8a" fill-opacity="0.8"/>
<circle cx="667.4" cy="239.3" r="0.95" fill="#8a8a8a" fill-opacity="0.8"/>
<circle cx="532.5" cy="291.5" r="0.95" fill="#74ac46" fill-opacity="0.8"/>
<circle cx="566.0" cy="243.9" r="0.95" fill="#74ac46" fill-opacity="0.8"/>
<circle cx="608.2" cy="238.2" r="0.95" fill="#8a8a8a" fill-opacity="0.8"/>
<circle cx="530.8" cy="249.9" r="0.95" fill="#8a8a8a" fill-opacity="0.8"/>
<circle cx="618.2" cy="248.9" r="0.95" fill="#74ac46" fill-opacity="0.8"/>
<circle cx="643.3" cy="245.9" r="0.95" fill="#8a8a8a" fill-opacity="0.8"/>
<circle cx="669.3" cy="238.0" r="0.95" fill="#74ac46" fill-opacity="0.8"/>
<circle cx="619.7" cy="244.4" r="0.95" fill="#74ac46" fill-opacity="0.8"/>
<circle cx="613.7" cy="236.6" r="0.95" fill="#8a8a8a" fill-opacity="0.8"/>
<circle cx="531.3" cy="272.8" r="0.95" fill="#2a3ef0" fill-opacity="0.8"/>
<circle cx="604.9" cy="244.1" r="0.95" fill="#8a8a8a" fill-opacity="0.8"/>
<circle cx="518.8" cy="303.9" r="0.95" fill="#74ac46" fill-opacity="0.8"/>
<circle cx="568.3" cy="239.4" r="0.95" fill="#8a8a8a" fill-opacity="0.8"/>
<circle cx="611.2" cy="248.1" r="0.95" fill="#74ac46" fill-opacity="0.8"/>
<circle cx="669.3" cy="241.7" r="0.95" fill="#8a8a8a" fill-opacity="0.8"/>
<circle cx="647.3" cy="250.6" r="0.95" fill="#2a3ef0" fill-opacity="0.8"/>
<circle cx="618.8" cy="244.1" r="0.95" fill="#2a3ef0" fill-opacity="0.8"/>
<circle cx="637.1" cy="248.8" r="0.95" fill="#74ac46" fill-opacity="0.8"/>
<circle cx="521.6" cy="294.9" r="0.95" fill="#2a3ef0" fill-opacity="0.8"/>
<circle cx="637.3" cy="242.8" r="0.95" fill="#8a8a8a" fill-opacity="0.8"/>
<circle cx="662.3" cy="252.7" r="0.95" fill="#2a3ef0" fill-opacity="0.8"/>
<circle cx="623.9" cy="252.7" r="0.95" fill="#2a3ef0" fill-opacity="0.8"/>
<circle cx="603.8" cy="244.0" r="0.95" fill="#2a3ef0" fill-opacity="0.8"/>
<circle cx="589.6" cy="242.3" r="0.95" fill="#74ac46" fill-opacity="0.8"/>
<circle cx="667.7" cy="248.0" r="0.95" fill="#74ac46" fill-opacity="0.8"/>
<circle cx="586.4" cy="247.2" r="0.95" fill="#2a3ef0" fill-opacity="0.8"/>
<circle cx="639.0" cy="242.9" r="0.95" fill="#2a3ef0" fill-opacity="0.8"/>
<circle cx="543.6" cy="273.2" r="0.95" fill="#74ac46" fill-opacity="0.8"/>
<circle cx="652.9" cy="252.0" r="0.95" fill="#2a3ef0" fill-opacity="0.8"/>
<circle cx="523.9" cy="286.4" r="0.95" fill="#2a3ef0" fill-opacity="0.8"/>
<circle cx="534.3" cy="278.3" r="0.95" fill="#2a3ef0" fill-opacity="0.8"/>
<circle cx="658.6" cy="246.1" r="0.95" fill="#2a3ef0" fill-opacity="0.8"/>
<circle cx="640.1" cy="242.0" r="0.95" fill="#74ac46" fill-opacity="0.8"/>
<circle cx="649.6" cy="240.8" r="0.95" fill="#2a3ef0" fill-opacity="0.8"/>
<circle cx="647.5" cy="236.6" r="0.95" fill="#2a3ef0" fill-opacity="0.8"/>
<circle cx="629.0" cy="241.5" r="0.95" fill="#74ac46" fill-opacity="0.8"/>
<circle cx="648.4" cy="244.8" r="0.95" fill="#8a8a8a" fill-opacity="0.8"/>
<circle cx="521.4" cy="322.4" r="0.95" fill="#74ac46" fill-opacity="0.8"/>
<circle cx="626.0" cy="250.1" r="0.95" fill="#2a3ef0" fill-opacity="0.8"/>
<circle cx="614.0" cy="247.1" r="0.95" fill="#74ac46" fill-opacity="0.8"/>
<circle cx="617.7" cy="250.5" r="0.95" fill="#74ac46" fill-opacity="0.8"/>
<circle cx="544.7" cy="239.6" r="0.95" fill="#8a8a8a" fill-opacity="0.8"/>
<circle cx="660.8" cy="246.2" r="0.95" fill="#74ac46" fill-opacity="0.8"/>
<circle cx="599.6" cy="243.8" r="0.95" fill="#2a3ef0" fill-opacity="0.8"/>
<circle cx="637.1" cy="244.2" r="0.95" fill="#2a3ef0" fill-opacity="0.8"/>
<circle cx="615.6" cy="243.9" r="0.95" fill="#8a8a8a" fill-opacity="0.8"/>
<circle cx="526.5" cy="287.2" r="0.95" fill="#2a3ef0" fill-opacity="0.8"/>
<circle cx="545.6" cy="249.0" r="0.95" fill="#74ac46" fill-opacity="0.8"/>
<circle cx="671.6" cy="239.3" r="0.95" fill="#74ac46" fill-opacity="0.8"/>
<circle cx="635.7" cy="244.7" r="0.95" fill="#74ac46" fill-opacity="0.8"/>
<circle cx="572.0" cy="242.9" r="0.95" fill="#74ac46" fill-opacity="0.8"/>
<circle cx="546.6" cy="241.2" r="0.95" fill="#74ac46" fill-opacity="0.8"/>
<circle cx="665.8" cy="251.0" r="0.95" fill="#2a3ef0" fill-opacity="0.8"/>
<circle cx="580.2" cy="255.3" r="0.95" fill="#74ac46" fill-opacity="0.8"/>
<circle cx="592.2" cy="255.3" r="0.95" fill="#74ac46" fill-opacity="0.8"/>
<circle cx="631.3" cy="245.6" r="0.95" fill="#74ac46" fill-opacity="0.8"/>
<circle cx="642.9" cy="236.0" r="0.95" fill="#74ac46" fill-opacity="0.8"/>
<circle cx="547.8" cy="271.3" r="0.95" fill="#74ac46" fill-opacity="0.8"/>
<circle cx="618.3" cy="246.4" r="0.95" fill="#2a3ef0" fill-opacity="0.8"/>
<circle cx="629.3" cy="242.4" r="0.95" fill="#2a3ef0" fill-opacity="0.8"/>
<circle cx="657.2" cy="242.8" r="0.95" fill="#8a8a8a" fill-opacity="0.8"/>
<circle cx="562.3" cy="241.4" r="0.95" fill="#74ac46" fill-opacity="0.8"/>
<circle cx="637.6" cy="249.7" r="0.95" fill="#2a3ef0" fill-opacity="0.8"/>
<circle cx="575.7" cy="254.8" r="0.95" fill="#2a3ef0" fill-opacity="0.8"/>
<circle cx="574.8" cy="252.9" r="0.95" fill="#2a3ef0" fill-opacity="0.8"/>
<circle cx="522.5" cy="273.6" r="0.95" fill="#74ac46" fill-opacity="0.8"/>
<circle cx="592.9" cy="242.1" r="0.95" fill="#74ac46" fill-opacity="0.8"/>
<circle cx="526.2" cy="257.1" r="0.95" fill="#8a8a8a" fill-opacity="0.8"/>
<circle cx="629.5" cy="240.0" r="0.95" fill="#74ac46" fill-opacity="0.8"/>
<circle cx="593.8" cy="246.1" r="0.95" fill="#2a3ef0" fill-opacity="0.8"/>
<circle cx="545.5" cy="258.5" r="0.95" fill="#2a3ef0" fill-opacity="0.8"/>
<circle cx="671.9" cy="238.2" r="0.95" fill="#2a3ef0" fill-opacity="0.8"/>
<circle cx="664.2" cy="239.3" r="0.95" fill="#8a8a8a" fill-opacity="0.8"/>
<circle cx="535.5" cy="247.1" r="0.95" fill="#74ac46" fill-opacity="0.8"/>
<circle cx="519.3" cy="295.7" r="0.95" fill="#8a8a8a" fill-opacity="0.8"/>
<circle cx="613.7" cy="245.3" r="0.95" fill="#2a3ef0" fill-opacity="0.8"/>
<circle cx="565.1" cy="255.1" r="0.95" fill="#2a3ef0" fill-opacity="0.8"/>
<circle cx="556.3" cy="243.3" r="0.95" fill="#74ac46" fill-opacity="0.8"/>
<circle cx="642.4" cy="238.0" r="0.95" fill="#2a3ef0" fill-opacity="0.8"/>
<circle cx="613.5" cy="241.5" r="0.95" fill="#2a3ef0" fill-opacity="0.8"/>
<circle cx="665.6" cy="239.4" r="0.95" fill="#8a8a8a" fill-opacity="0.8"/>
<circle cx="660.0" cy="250.6" r="0.95" fill="#2a3ef0" fill-opacity="0.8"/>
<circle cx="664.5" cy="245.7" r="0.95" fill="#2a3ef0" fill-opacity="0.8"/>
<circle cx="590.6" cy="243.8" r="0.95" fill="#74ac46" fill-opacity="0.8"/>
<circle cx="581.8" cy="239.4" r="0.95" fill="#74ac46" fill-opacity="0.8"/>
<circle cx="518.6" cy="338.4" r="0.95" fill="#74ac46" fill-opacity="0.8"/>
<circle cx="552.9" cy="263.4" r="0.95" fill="#2a3ef0" fill-opacity="0.8"/>
<circle cx="669.3" cy="248.7" r="0.95" fill="#2a3ef0" fill-opacity="0.8"/>
<circle cx="559.5" cy="241.4" r="0.95" fill="#74ac46" fill-opacity="0.8"/>
<circle cx="576.7" cy="253.6" r="0.95" fill="#2a3ef0" fill-opacity="0.8"/>
<circle cx="524.8" cy="258.1" r="0.95" fill="#8a8a8a" fill-opacity="0.8"/>
<circle cx="564.6" cy="243.0" r="0.95" fill="#8a8a8a" fill-opacity="0.8"/>
<circle cx="579.7" cy="252.5" r="0.95" fill="#74ac46" fill-opacity="0.8"/>
<circle cx="622.0" cy="236.1" r="0.95" fill="#8a8a8a" fill-opacity="0.8"/>
<circle cx="580.4" cy="248.5" r="0.95" fill="#2a3ef0" fill-opacity="0.8"/>
<circle cx="587.3" cy="237.4" r="0.95" fill="#8a8a8a" fill-opacity="0.8"/>
<circle cx="568.1" cy="249.3" r="0.95" fill="#2a3ef0" fill-opacity="0.8"/>
<circle cx="519.1" cy="335.6" r="0.95" fill="#74ac46" fill-opacity="0.8"/>
<circle cx="602.6" cy="247.1" r="0.95" fill="#2a3ef0" fill-opacity="0.8"/>
<circle cx="664.9" cy="247.9" r="0.95" fill="#2a3ef0" fill-opacity="0.8"/>
<circle cx="548.2" cy="268.6" r="0.95" fill="#74ac46" fill-opacity="0.8"/>
<circle cx="553.3" cy="261.5" r="0.95" fill="#2a3ef0" fill-opacity="0.8"/>
<circle cx="605.4" cy="237.0" r="0.95" fill="#8a8a8a" fill-opacity="0.8"/>
<circle cx="526.9" cy="300.6" r="0.95" fill="#74ac46" fill-opacity="0.8"/>
<circle cx="573.9" cy="238.2" r="0.95" fill="#8a8a8a" fill-opacity="0.8"/>
<circle cx="674.8" cy="245.0" r="0.95" fill="#8a8a8a" fill-opacity="0.8"/>
<circle cx="564.2" cy="243.5" r="0.95" fill="#74ac46" fill-opacity="0.8"/>
<circle cx="631.8" cy="235.7" r="0.95" fill="#74ac46" fill-opacity="0.8"/>
<circle cx="571.8" cy="256.3" r="0.95" fill="#74ac46" fill-opacity="0.8"/>
<circle cx="645.2" cy="242.8" r="0.95" fill="#2a3ef0" fill-opacity="0.8"/>
<circle cx="614.2" cy="238.0" r="0.95" fill="#74ac46" fill-opacity="0.8"/>
<circle cx="590.6" cy="235.5" r="0.95" fill="#8a8a8a" fill-opacity="0.8"/>
<circle cx="644.5" cy="247.6" r="0.95" fill="#74ac46" fill-opacity="0.8"/>
<circle cx="534.1" cy="272.1" r="0.95" fill="#2a3ef0" fill-opacity="0.8"/>
<circle cx="528.5" cy="281.8" r="0.95" fill="#2a3ef0" fill-opacity="0.8"/>
<circle cx="549.2" cy="266.7" r="0.95" fill="#2a3ef0" fill-opacity="0.8"/>
<circle cx="600.1" cy="249.5" r="0.95" fill="#74ac46" fill-opacity="0.8"/>
<circle cx="566.5" cy="257.6" r="0.95" fill="#2a3ef0" fill-opacity="0.8"/>
<circle cx="636.9" cy="239.4" r="0.95" fill="#8a8a8a" fill-opacity="0.8"/>
<circle cx="531.6" cy="277.3" r="0.95" fill="#2a3ef0" fill-opacity="0.8"/>
<circle cx="520.9" cy="307.1" r="0.95" fill="#2a3ef0" fill-opacity="0.8"/>
<circle cx="666.5" cy="240.0" r="0.95" fill="#2a3ef0" fill-opacity="0.8"/>
<circle cx="528.5" cy="257.8" r="0.95" fill="#74ac46" fill-opacity="0.8"/>
<circle cx="584.1" cy="240.6" r="0.95" fill="#74ac46" fill-opacity="0.8"/>
<circle cx="594.7" cy="253.6" r="0.95" fill="#2a3ef0" fill-opacity="0.8"/>
<circle cx="544.7" cy="250.1" r="0.95" fill="#74ac46" fill-opacity="0.8"/>
<circle cx="639.0" cy="249.8" r="0.95" fill="#74ac46" fill-opacity="0.8"/>
<circle cx="656.6" cy="244.7" r="0.95" fill="#74ac46" fill-opacity="0.8"/>
<circle cx="652.4" cy="244.3" r="0.95" fill="#74ac46" fill-opacity="0.8"/>
<circle cx="555.8" cy="245.4" r="0.95" fill="#74ac46" fill-opacity="0.8"/>
<circle cx="583.2" cy="235.2" r="0.95" fill="#74ac46" fill-opacity="0.8"/>
<circle cx="561.9" cy="239.8" r="0.95" fill="#8a8a8a" fill-opacity="0.8"/>
<circle cx="559.1" cy="241.4" r="0.95" fill="#8a8a8a" fill-opacity="0.8"/>
<circle cx="648.4" cy="246.5" r="0.95" fill="#2a3ef0" fill-opacity="0.8"/>
<circle cx="576.7" cy="239.2" r="0.95" fill="#8a8a8a" fill-opacity="0.8"/>
<circle cx="614.4" cy="247.5" r="0.95" fill="#74ac46" fill-opacity="0.8"/>
<circle cx="592.9" cy="235.7" r="0.95" fill="#8a8a8a" fill-opacity="0.8"/>
<circle cx="621.6" cy="250.3" r="0.95" fill="#2a3ef0" fill-opacity="0.8"/>
<circle cx="611.9" cy="249.2" r="0.95" fill="#2a3ef0" fill-opacity="0.8"/>
<circle cx="642.7" cy="246.8" r="0.95" fill="#2a3ef0" fill-opacity="0.8"/>
<circle cx="600.3" cy="238.2" r="0.95" fill="#8a8a8a" fill-opacity="0.8"/>
<circle cx="641.5" cy="241.2" r="0.95" fill="#74ac46" fill-opacity="0.8"/>
<circle cx="642.9" cy="242.8" r="0.95" fill="#2a3ef0" fill-opacity="0.8"/>
<circle cx="538.5" cy="281.2" r="0.95" fill="#74ac46" fill-opacity="0.8"/>
<circle cx="603.1" cy="237.1" r="0.95" fill="#8a8a8a" fill-opacity="0.8"/>
<circle cx="564.6" cy="254.5" r="0.95" fill="#2a3ef0" fill-opacity="0.8"/>
<circle cx="608.4" cy="249.3" r="0.95" fill="#74ac46" fill-opacity="0.8"/>
<circle cx="615.6" cy="253.4" r="0.95" fill="#2a3ef0" fill-opacity="0.8"/>
<circle cx="554.0" cy="259.9" r="0.95" fill="#2a3ef0" fill-opacity="0.8"/>
<circle cx="622.5" cy="250.5" r="0.95" fill="#2a3ef0" fill-opacity="0.8"/>
<circle cx="675.1" cy="237.2" r="0.95" fill="#2a3ef0" fill-opacity="0.8"/>
<circle cx="657.2" cy="244.4" r="0.95" fill="#74ac46" fill-opacity="0.8"/>
<circle cx="660.9" cy="249.7" r="0.95" fill="#2a3ef0" fill-opacity="0.8"/>
<circle cx="521.1" cy="280.0" r="0.95" fill="#74ac46" fill-opacity="0.8"/>
<circle cx="525.3" cy="255.7" r="0.95" fill="#8a8a8a" fill-opacity="0.8"/>
<circle cx="565.8" cy="257.1" r="0.95" fill="#74ac46" fill-opacity="0.8"/>
<circle cx="668.6" cy="242.1" r="0.95" fill="#74ac46" fill-opacity="0.8"/>
<circle cx="584.1" cy="237.2" r="0.95" fill="#8a8a8a" fill-opacity="0.8"/>
<circle cx="569.5" cy="260.4" r="0.95" fill="#2a3ef0" fill-opacity="0.8"/>
<circle cx="551.9" cy="256.4" r="0.95" fill="#2a3ef0" fill-opacity="0.8"/>
<circle cx="645.7" cy="238.9" r="0.95" fill="#74ac46" fill-opacity="0.8"/>
<circle cx="613.1" cy="251.1" r="0.95" fill="#2a3ef0" fill-opacity="0.8"/>
<circle cx="602.9" cy="249.7" r="0.95" fill="#74ac46" fill-opacity="0.8"/>
<circle cx="573.0" cy="251.4" r="0.95" fill="#2a3ef0" fill-opacity="0.8"/>
<circle cx="557.2" cy="240.1" r="0.95" fill="#74ac46" fill-opacity="0.8"/>
<circle cx="619.1" cy="246.3" r="0.95" fill="#74ac46" fill-opacity="0.8"/>
<circle cx="576.0" cy="253.2" r="0.95" fill="#2a3ef0" fill-opacity="0.8"/>
<circle cx="637.6" cy="248.0" r="0.95" fill="#74ac46" fill-opacity="0.8"/>
<circle cx="577.1" cy="252.4" r="0.95" fill="#2a3ef0" fill-opacity="0.8"/>
<circle cx="556.3" cy="258.4" r="0.95" fill="#2a3ef0" fill-opacity="0.8"/>
<circle cx="552.6" cy="239.2" r="0.95" fill="#8a8a8a" fill-opacity="0.8"/>
<circle cx="527.6" cy="282.4" r="0.95" fill="#2a3ef0" fill-opacity="0.8"/>
<circle cx="567.9" cy="242.6" r="0.95" fill="#74ac46" fill-opacity="0.8"/>
<circle cx="670.2" cy="242.9" r="0.95" fill="#74ac46" fill-opacity="0.8"/>
<circle cx="539.0" cy="266.7" r="0.95" fill="#2a3ef0" fill-opacity="0.8"/>
<circle cx="563.2" cy="254.6" r="0.95" fill="#2a3ef0" fill-opacity="0.8"/>
<circle cx="652.6" cy="248.0" r="0.95" fill="#2a3ef0" fill-opacity="0.8"/>
<circle cx="618.2" cy="240.4" r="0.95" fill="#2a3ef0" fill-opacity="0.8"/>
<circle cx="526.2" cy="285.0" r="0.95" fill="#2a3ef0" fill-opacity="0.8"/>
<circle cx="542.7" cy="267.8" r="0.95" fill="#2a3ef0" fill-opacity="0.8"/>
<circle cx="635.9" cy="243.0" r="0.95" fill="#2a3ef0" fill-opacity="0.8"/>
<circle cx="568.8" cy="257.1" r="0.95" fill="#2a3ef0" fill-opacity="0.8"/>
<circle cx="597.5" cy="238.1" r="0.95" fill="#8a8a8a" fill-opacity="0.8"/>
<circle cx="623.2" cy="246.8" r="0.95" fill="#74ac46" fill-opacity="0.8"/>
<circle cx="669.7" cy="244.1" r="0.95" fill="#74ac46" fill-opacity="0.8"/>
<circle cx="520.2" cy="304.1" r="0.95" fill="#2a3ef0" fill-opacity="0.8"/>
<circle cx="604.3" cy="248.6" r="0.95" fill="#2a3ef0" fill-opacity="0.8"/>
<circle cx="673.0" cy="246.6" r="0.95" fill="#2a3ef0" fill-opacity="0.8"/>
<circle cx="568.3" cy="239.7" r="0.95" fill="#74ac46" fill-opacity="0.8"/>
<circle cx="530.8" cy="262.8" r="0.95" fill="#74ac46" fill-opacity="0.8"/>
<circle cx="560.5" cy="243.0" r="0.95" fill="#8a8a8a" fill-opacity="0.8"/>
<circle cx="633.6" cy="241.7" r="0.95" fill="#8a8a8a" fill-opacity="0.8"/>
<circle cx="534.1" cy="250.0" r="0.95" fill="#74ac46" fill-opacity="0.8"/>
<circle cx="567.4" cy="258.1" r="0.95" fill="#2a3ef0" fill-opacity="0.8"/>
<circle cx="535.0" cy="249.2" r="0.95" fill="#74ac46" fill-opacity="0.8"/>
<circle cx="638.5" cy="249.0" r="0.95" fill="#2a3ef0" fill-opacity="0.8"/>
<circle cx="521.4" cy="298.5" r="0.95" fill="#2a3ef0" fill-opacity="0.8"/>
<circle cx="569.3" cy="237.2" r="0.95" fill="#8a8a8a" fill-opacity="0.8"/>
<circle cx="672.8" cy="243.8" r="0.95" fill="#2a3ef0" fill-opacity="0.8"/>
<circle cx="598.9" cy="240.5" r="0.95" fill="#74ac46" fill-opacity="0.8"/>
<circle cx="553.1" cy="241.7" r="0.95" fill="#8a8a8a" fill-opacity="0.8"/>
<circle cx="648.7" cy="245.8" r="0.95" fill="#2a3ef0" fill-opacity="0.8"/>
<circle cx="529.2" cy="302.0" r="0.95" fill="#74ac46" fill-opacity="0.8"/>
<circle cx="571.1" cy="238.3" r="0.95" fill="#74ac46" fill-opacity="0.8"/>
<circle cx="535.0" cy="268.6" r="0.95" fill="#2a3ef0" fill-opacity="0.8"/>
<circle cx="580.2" cy="250.5" r="0.95" fill="#2a3ef0" fill-opacity="0.8"/>
<circle cx="651.0" cy="250.2" r="0.95" fill="#2a3ef0" fill-opacity="0.8"/>
<circle cx="612.1" cy="244.7" r="0.95" fill="#74ac46" fill-opacity="0.8"/>
<circle cx="626.2" cy="244.1" r="0.95" fill="#2a3ef0" fill-opacity="0.8"/>
<circle cx="615.8" cy="249.8" r="0.95" fill="#2a3ef0" fill-opacity="0.8"/>
<circle cx="619.7" cy="252.1" r="0.95" fill="#2a3ef0" fill-opacity="0.8"/>
<circle cx="546.6" cy="236.4" r="0.95" fill="#8a8a8a" fill-opacity="0.8"/>
<circle cx="595.2" cy="239.0" r="0.95" fill="#74ac46" fill-opacity="0.8"/>
<circle cx="567.2" cy="260.5" r="0.95" fill="#2a3ef0" fill-opacity="0.8"/>
<circle cx="646.4" cy="248.7" r="0.95" fill="#2a3ef0" fill-opacity="0.8"/>
<circle cx="598.2" cy="252.1" r="0.95" fill="#2a3ef0" fill-opacity="0.8"/>
<circle cx="542.9" cy="243.4" r="0.95" fill="#8a8a8a" fill-opacity="0.8"/>
<circle cx="661.7" cy="241.8" r="0.95" fill="#74ac46" fill-opacity="0.8"/>
<circle cx="569.3" cy="253.5" r="0.95" fill="#2a3ef0" fill-opacity="0.8"/>
<circle cx="552.6" cy="240.3" r="0.95" fill="#74ac46" fill-opacity="0.8"/>
<circle cx="666.0" cy="241.2" r="0.95" fill="#8a8a8a" fill-opacity="0.8"/>
<circle cx="525.7" cy="263.6" r="0.95" fill="#74ac46" fill-opacity="0.8"/>
<circle cx="569.7" cy="240.9" r="0.95" fill="#74ac46" fill-opacity="0.8"/>
<circle cx="568.3" cy="252.9" r="0.95" fill="#2a3ef0" fill-opacity="0.8"/>
<circle cx="534.3" cy="290.7" r="0.95" fill="#74ac46" fill-opacity="0.8"/>
<circle cx="538.0" cy="267.5" r="0.95" fill="#2a3ef0" fill-opacity="0.8"/>
<circle cx="561.4" cy="251.7" r="0.95" fill="#2a3ef0" fill-opacity="0.8"/>
<circle cx="539.6" cy="251.6" r="0.95" fill="#74ac46" fill-opacity="0.8"/>
<circle cx="530.4" cy="250.0" r="0.95" fill="#74ac46" fill-opacity="0.8"/>
<circle cx="615.4" cy="245.4" r="0.95" fill="#2a3ef0" fill-opacity="0.8"/>
<circle cx="574.4" cy="238.6" r="0.95" fill="#8a8a8a" fill-opacity="0.8"/>
<circle cx="636.7" cy="243.6" r="0.95" fill="#74ac46" fill-opacity="0.8"/>
<circle cx="616.3" cy="247.2" r="0.95" fill="#2a3ef0" fill-opacity="0.8"/>
<circle cx="580.8" cy="255.7" r="0.95" fill="#2a3ef0" fill-opacity="0.8"/>
<circle cx="591.3" cy="252.6" r="0.95" fill="#74ac46" fill-opacity="0.8"/>
<circle cx="521.8" cy="322.6" r="0.95" fill="#74ac46" fill-opacity="0.8"/>
<circle cx="651.7" cy="239.9" r="0.95" fill="#8a8a8a" fill-opacity="0.8"/>
<circle cx="601.9" cy="249.0" r="0.95" fill="#74ac46" fill-opacity="0.8"/>
<circle cx="605.2" cy="255.6" r="0.95" fill="#2a3ef0" fill-opacity="0.8"/>
<circle cx="623.2" cy="244.8" r="0.95" fill="#2a3ef0" fill-opacity="0.8"/>
<circle cx="582.5" cy="253.2" r="0.95" fill="#74ac46" fill-opacity="0.8"/>
<circle cx="521.8" cy="293.7" r="0.95" fill="#2a3ef0" fill-opacity="0.8"/>
<circle cx="671.4" cy="249.2" r="0.95" fill="#2a3ef0" fill-opacity="0.8"/>
<circle cx="654.9" cy="246.6" r="0.95" fill="#2a3ef0" fill-opacity="0.8"/>
<circle cx="535.5" cy="267.3" r="0.95" fill="#2a3ef0" fill-opacity="0.8"/>
<circle cx="578.8" cy="255.7" r="0.95" fill="#74ac46" fill-opacity="0.8"/>
<circle cx="585.9" cy="232.8" r="0.95" fill="#8a8a8a" fill-opacity="0.8"/>
<circle cx="555.4" cy="238.9" r="0.95" fill="#8a8a8a" fill-opacity="0.8"/>
<circle cx="598.2" cy="252.4" r="0.95" fill="#74ac46" fill-opacity="0.8"/>
<circle cx="582.5" cy="253.4" r="0.95" fill="#2a3ef0" fill-opacity="0.8"/>
<circle cx="595.0" cy="253.0" r="0.95" fill="#74ac46" fill-opacity="0.8"/>
<circle cx="616.0" cy="238.9" r="0.95" fill="#8a8a8a" fill-opacity="0.8"/>
<circle cx="599.8" cy="260.6" r="0.95" fill="#2a3ef0" fill-opacity="0.8"/>
<circle cx="652.1" cy="238.2" r="0.95" fill="#74ac46" fill-opacity="0.8"/>
<circle cx="548.9" cy="237.6" r="0.95" fill="#8a8a8a" fill-opacity="0.8"/>
<circle cx="560.5" cy="256.1" r="0.95" fill="#2a3ef0" fill-opacity="0.8"/>
<circle cx="645.0" cy="244.8" r="0.95" fill="#74ac46" fill-opacity="0.8"/>
<circle cx="548.9" cy="264.4" r="0.95" fill="#2a3ef0" fill-opacity="0.8"/>
<circle cx="610.7" cy="251.1" r="0.95" fill="#74ac46" fill-opacity="0.8"/>
<circle cx="593.8" cy="236.3" r="0.95" fill="#8a8a8a" fill-opacity="0.8"/>
<circle cx="536.2" cy="287.6" r="0.95" fill="#74ac46" fill-opacity="0.8"/>
<circle cx="659.8" cy="254.4" r="0.95" fill="#2a3ef0" fill-opacity="0.8"/>
<circle cx="559.8" cy="263.5" r="0.95" fill="#2a3ef0" fill-opacity="0.8"/>
<circle cx="607.0" cy="251.7" r="0.95" fill="#74ac46" fill-opacity="0.8"/>
<circle cx="544.3" cy="252.1" r="0.95" fill="#74ac46" fill-opacity="0.8"/>
<circle cx="566.0" cy="251.6" r="0.95" fill="#2a3ef0" fill-opacity="0.8"/>
<circle cx="545.5" cy="276.9" r="0.95" fill="#74ac46" fill-opacity="0.8"/>
<circle cx="587.6" cy="248.6" r="0.95" fill="#2a3ef0" fill-opacity="0.8"/>
<circle cx="643.6" cy="245.6" r="0.95" fill="#74ac46" fill-opacity="0.8"/>
<circle cx="640.4" cy="243.3" r="0.95" fill="#74ac46" fill-opacity="0.8"/>
<circle cx="654.0" cy="236.1" r="0.95" fill="#74ac46" fill-opacity="0.8"/>
<circle cx="547.5" cy="240.8" r="0.95" fill="#74ac46" fill-opacity="0.8"/>
<circle cx="665.6" cy="237.7" r="0.95" fill="#74ac46" fill-opacity="0.8"/>
<circle cx="541.5" cy="240.7" r="0.95" fill="#8a8a8a" fill-opacity="0.8"/>
<circle cx="667.0" cy="239.5" r="0.95" fill="#8a8a8a" fill-opacity="0.8"/>
<circle cx="575.7" cy="236.1" r="0.95" fill="#8a8a8a" fill-opacity="0.8"/>
<circle cx="645.2" cy="237.6" r="0.95" fill="#74ac46" fill-opacity="0.8"/>
<circle cx="558.6" cy="238.0" r="0.95" fill="#8a8a8a" fill-opacity="0.8"/>
<circle cx="532.0" cy="282.7" r="0.95" fill="#2a3ef0" fill-opacity="0.8"/>
<circle cx="599.6" cy="249.7" r="0.95" fill="#74ac46" fill-opacity="0.8"/>
<circle cx="564.0" cy="256.9" r="0.95" fill="#74ac46" fill-opacity="0.8"/>
<circle cx="645.5" cy="254.7" r="0.95" fill="#2a3ef0" fill-opacity="0.8"/>
<circle cx="531.8" cy="275.3" r="0.95" fill="#2a3ef0" fill-opacity="0.8"/>
<circle cx="578.3" cy="257.0" r="0.95" fill="#74ac46" fill-opacity="0.8"/>
<circle cx="602.1" cy="237.5" r="0.95" fill="#8a8a8a" fill-opacity="0.8"/>
<circle cx="592.4" cy="250.8" r="0.95" fill="#2a3ef0" fill-opacity="0.8"/>
<circle cx="541.3" cy="268.0" r="0.95" fill="#2a3ef0" fill-opacity="0.8"/>
<circle cx="597.0" cy="248.5" r="0.95" fill="#2a3ef0" fill-opacity="0.8"/>
<circle cx="544.3" cy="236.9" r="0.95" fill="#8a8a8a" fill-opacity="0.8"/>
<circle cx="603.1" cy="237.2" r="0.95" fill="#74ac46" fill-opacity="0.8"/>
<circle cx="556.6" cy="256.9" r="0.95" fill="#2a3ef0" fill-opacity="0.8"/>
<circle cx="624.4" cy="236.0" r="0.95" fill="#8a8a8a" fill-opacity="0.8"/>
<circle cx="567.4" cy="241.3" r="0.95" fill="#74ac46" fill-opacity="0.8"/>
<circle cx="617.4" cy="244.9" r="0.95" fill="#74ac46" fill-opacity="0.8"/>
<circle cx="650.8" cy="236.1" r="0.95" fill="#74ac46" fill-opacity="0.8"/>
<circle cx="565.4" cy="256.0" r="0.95" fill="#74ac46" fill-opacity="0.8"/>
<circle cx="614.4" cy="249.9" r="0.95" fill="#2a3ef0" fill-opacity="0.8"/>
<circle cx="608.9" cy="248.4" r="0.95" fill="#2a3ef0" fill-opacity="0.8"/>
<circle cx="671.1" cy="251.6" r="0.95" fill="#2a3ef0" fill-opacity="0.8"/>
<circle cx="619.5" cy="245.6" r="0.95" fill="#74ac46" fill-opacity="0.8"/>
<circle cx="614.6" cy="236.8" r="0.95" fill="#8a8a8a" fill-opacity="0.8"/>
<circle cx="604.0" cy="239.4" r="0.95" fill="#74ac46" fill-opacity="0.8"/>
<circle cx="570.9" cy="259.4" r="0.95" fill="#74ac46" fill-opacity="0.8"/>
<circle cx="649.4" cy="245.4" r="0.95" fill="#2a3ef0" fill-opacity="0.8"/>
<circle cx="555.8" cy="263.0" r="0.95" fill="#2a3ef0" fill-opacity="0.8"/>
<circle cx="615.1" cy="249.0" r="0.95" fill="#2a3ef0" fill-opacity="0.8"/>
<circle cx="633.2" cy="236.3" r="0.95" fill="#74ac46" fill-opacity="0.8"/>
<circle cx="614.2" cy="243.4" r="0.95" fill="#8a8a8a" fill-opacity="0.8"/>
<circle cx="634.4" cy="243.8" r="0.95" fill="#2a3ef0" fill-opacity="0.8"/>
<circle cx="579.9" cy="245.0" r="0.95" fill="#74ac46" fill-opacity="0.8"/>
<circle cx="602.4" cy="249.6" r="0.95" fill="#74ac46" fill-opacity="0.8"/>
<circle cx="530.2" cy="279.1" r="0.95" fill="#2a3ef0" fill-opacity="0.8"/>
<circle cx="662.3" cy="243.2" r="0.95" fill="#74ac46" fill-opacity="0.8"/>
<rect x="44.7" y="425.3" width="88.8" height="70.5" fill="#ddf0fc"/>
<rect x="133.4" y="425.3" width="408.4" height="70.5" fill="url(#gband)"/>
<rect x="541.8" y="425.3" width="115.3" height="70.5" fill="#e9d4fa"/>
<line x1="42" y1="425.4" x2="657.1" y2="425.4" stroke="#b8b8bc" stroke-width="0.8" />
<line x1="44.7" y1="496" x2="652" y2="496" stroke="#000" stroke-width="1.8" />
<path d="M650.5,492.8 L657,496 L650.5,499.2 Z" fill="#000"/>
<line x1="187.2" y1="492.6" x2="187.2" y2="499.5" stroke="#000" stroke-width="1.5" />
<line x1="263.7" y1="492.6" x2="263.7" y2="499.5" stroke="#000" stroke-width="1.5" />
<line x1="376" y1="492.6" x2="376" y2="499.5" stroke="#000" stroke-width="1.5" />
<line x1="487.4" y1="492.6" x2="487.4" y2="499.5" stroke="#000" stroke-width="1.5" />
<line x1="590.5" y1="492.6" x2="590.5" y2="499.5" stroke="#000" stroke-width="1.5" />
<text x="0" y="0" font-size="13.5" fill="#111" text-anchor="middle" font-weight="normal" transform="translate(190,511.6) scale(1,1.04)" >2 min</text>
<text x="0" y="0" font-size="13.5" fill="#111" text-anchor="middle" font-weight="normal" transform="translate(268,511.6) scale(1,1.04)" >5 min</text>
<text x="0" y="0" font-size="13.5" fill="#111" text-anchor="middle" font-weight="normal" transform="translate(376.2,511.6) scale(1,1.04)" >10 min</text>
<text x="0" y="0" font-size="13.5" fill="#111" text-anchor="middle" font-weight="normal" transform="translate(488.5,511.6) scale(1,1.04)" >15 min</text>
<text x="0" y="0" font-size="13.5" fill="#111" text-anchor="middle" font-weight="normal" transform="translate(593.8,511.6) scale(1,1.04)" >1 min</text>
<text x="0" y="0" font-size="13.5" fill="#111" text-anchor="middle" font-weight="normal" transform="translate(134.3,413.8) scale(1,1.04)" >Fuel</text>
<text x="0" y="0" font-size="13.5" fill="#111" text-anchor="middle" font-weight="normal" transform="translate(541.9,413.8) scale(1,1.04)" >Fuel</text>
<line x1="134.6" y1="420" x2="134.6" y2="436.2" stroke="#000" stroke-width="1.6" />
<path d="M131.5,435.2 L137.7,435.2 L134.6,441 Z" fill="#000"/>
<line x1="541.8" y1="420.8" x2="541.8" y2="435.7" stroke="#000" stroke-width="1.6" />
<path d="M538.6999999999999,434.7 L544.9,434.7 L541.8,440.5 Z" fill="#000"/>
<text x="0" y="0" font-size="13.5" fill="#1b5a92" text-anchor="start" font-weight="normal" transform="translate(54.4,439.1) scale(1,1.04)" >G-rich</text>
<text x="0" y="0" font-size="13.5" fill="#111" text-anchor="middle" font-weight="normal" transform="translate(86.7,454.9) scale(1,1.04)" >“genotype”</text>
<text x="0" y="0" font-size="13.5" fill="#111" text-anchor="start" font-weight="normal" transform="translate(166.9,440.6) scale(1,1.04)" >Poor fusion</text>
<text x="0" y="0" font-size="13.5" fill="#111" text-anchor="start" font-weight="normal" transform="translate(279.3,440.6) scale(1,1.04)" >Vacuolization</text>
<text x="0" y="0" font-size="13.5" fill="#111" text-anchor="middle" font-weight="normal" transform="translate(437.8,440) scale(1,1.04)" >Kinetic</text>
<text x="0" y="0" font-size="13.5" fill="#111" text-anchor="middle" font-weight="normal" transform="translate(437.8,455.3) scale(1,1.04)" >Trapping</text>
<text x="0" y="0" font-size="13.5" fill="#111" text-anchor="middle" font-weight="normal" transform="translate(603.8,440) scale(1,1.04)" >Re-growth</text>
<g transform="translate(74,463.5) rotate(8) scale(0.95)"><path d="M-5,1.5 Q0,-3.5 5,1.5" fill="none" stroke="#1c1cf4" stroke-width="1.5"/><line x1="-3.80" y1="0.44" x2="-2.35" y2="2.35" stroke="#1c1cf4" stroke-width="1.1"/><line x1="-2.20" y1="-0.52" x2="-1.23" y2="1.68" stroke="#1c1cf4" stroke-width="1.1"/><line x1="-0.60" y1="-0.96" x2="-0.31" y2="1.42" stroke="#1c1cf4" stroke-width="1.1"/><line x1="1.00" y1="-0.90" x2="0.53" y2="1.45" stroke="#1c1cf4" stroke-width="1.1"/><line x1="2.60" y1="-0.32" x2="1.49" y2="1.81" stroke="#1c1cf4" stroke-width="1.1"/><line x1="4.20" y1="0.76" x2="2.66" y2="2.60" stroke="#1c1cf4" stroke-width="1.1"/></g>
<g transform="translate(89,466) rotate(-55) scale(0.95)"><path d="M-5,1.5 Q0,-3.5 5,1.5" fill="none" stroke="#1c1cf4" stroke-width="1.5"/><line x1="-3.80" y1="0.44" x2="-5.25" y2="-1.47" stroke="#1c1cf4" stroke-width="1.1"/><line x1="-2.20" y1="-0.52" x2="-3.17" y2="-2.71" stroke="#1c1cf4" stroke-width="1.1"/><line x1="-0.60" y1="-0.96" x2="-0.89" y2="-3.35" stroke="#1c1cf4" stroke-width="1.1"/><line x1="1.00" y1="-0.90" x2="1.47" y2="-3.25" stroke="#1c1cf4" stroke-width="1.1"/><line x1="2.60" y1="-0.32" x2="3.71" y2="-2.45" stroke="#1c1cf4" stroke-width="1.1"/><line x1="4.20" y1="0.76" x2="5.74" y2="-1.07" stroke="#1c1cf4" stroke-width="1.1"/></g>
<g transform="translate(109.3,463.5) rotate(8) scale(0.95)"><path d="M-5,1.5 Q0,-3.5 5,1.5" fill="none" stroke="#1c1cf4" stroke-width="1.5"/><line x1="-3.80" y1="0.44" x2="-2.35" y2="2.35" stroke="#1c1cf4" stroke-width="1.1"/><line x1="-2.20" y1="-0.52" x2="-1.23" y2="1.68" stroke="#1c1cf4" stroke-width="1.1"/><line x1="-0.60" y1="-0.96" x2="-0.31" y2="1.42" stroke="#1c1cf4" stroke-width="1.1"/><line x1="1.00" y1="-0.90" x2="0.53" y2="1.45" stroke="#1c1cf4" stroke-width="1.1"/><line x1="2.60" y1="-0.32" x2="1.49" y2="1.81" stroke="#1c1cf4" stroke-width="1.1"/><line x1="4.20" y1="0.76" x2="2.66" y2="2.60" stroke="#1c1cf4" stroke-width="1.1"/></g>
<g transform="translate(74.3,474.5) rotate(-35) scale(0.95)"><path d="M-5,1.5 Q0,-3.5 5,1.5" fill="none" stroke="#1c1cf4" stroke-width="1.5"/><line x1="-3.80" y1="0.44" x2="-5.25" y2="-1.47" stroke="#1c1cf4" stroke-width="1.1"/><line x1="-2.20" y1="-0.52" x2="-3.17" y2="-2.71" stroke="#1c1cf4" stroke-width="1.1"/><line x1="-0.60" y1="-0.96" x2="-0.89" y2="-3.35" stroke="#1c1cf4" stroke-width="1.1"/><line x1="1.00" y1="-0.90" x2="1.47" y2="-3.25" stroke="#1c1cf4" stroke-width="1.1"/><line x1="2.60" y1="-0.32" x2="3.71" y2="-2.45" stroke="#1c1cf4" stroke-width="1.1"/><line x1="4.20" y1="0.76" x2="5.74" y2="-1.07" stroke="#1c1cf4" stroke-width="1.1"/></g>
<g transform="translate(95.5,477.5) rotate(25) scale(0.95)"><path d="M-5,1.5 Q0,-3.5 5,1.5" fill="none" stroke="#1c1cf4" stroke-width="1.5"/><line x1="-3.80" y1="0.44" x2="-2.35" y2="2.35" stroke="#1c1cf4" stroke-width="1.1"/><line x1="-2.20" y1="-0.52" x2="-1.23" y2="1.68" stroke="#1c1cf4" stroke-width="1.1"/><line x1="-0.60" y1="-0.96" x2="-0.31" y2="1.42" stroke="#1c1cf4" stroke-width="1.1"/><line x1="1.00" y1="-0.90" x2="0.53" y2="1.45" stroke="#1c1cf4" stroke-width="1.1"/><line x1="2.60" y1="-0.32" x2="1.49" y2="1.81" stroke="#1c1cf4" stroke-width="1.1"/><line x1="4.20" y1="0.76" x2="2.66" y2="2.60" stroke="#1c1cf4" stroke-width="1.1"/></g>
<g transform="translate(106.6,474.3) rotate(-80) scale(0.95)"><path d="M-5,1.5 Q0,-3.5 5,1.5" fill="none" stroke="#1c1cf4" stroke-width="1.5"/><line x1="-3.80" y1="0.44" x2="-5.25" y2="-1.47" stroke="#1c1cf4" stroke-width="1.1"/><line x1="-2.20" y1="-0.52" x2="-3.17" y2="-2.71" stroke="#1c1cf4" stroke-width="1.1"/><line x1="-0.60" y1="-0.96" x2="-0.89" y2="-3.35" stroke="#1c1cf4" stroke-width="1.1"/><line x1="1.00" y1="-0.90" x2="1.47" y2="-3.25" stroke="#1c1cf4" stroke-width="1.1"/><line x1="2.60" y1="-0.32" x2="3.71" y2="-2.45" stroke="#1c1cf4" stroke-width="1.1"/><line x1="4.20" y1="0.76" x2="5.74" y2="-1.07" stroke="#1c1cf4" stroke-width="1.1"/></g>
<g transform="translate(67.6,487.5) rotate(40) scale(0.95)"><path d="M-5,1.5 Q0,-3.5 5,1.5" fill="none" stroke="#1c1cf4" stroke-width="1.5"/><line x1="-3.80" y1="0.44" x2="-2.35" y2="2.35" stroke="#1c1cf4" stroke-width="1.1"/><line x1="-2.20" y1="-0.52" x2="-1.23" y2="1.68" stroke="#1c1cf4" stroke-width="1.1"/><line x1="-0.60" y1="-0.96" x2="-0.31" y2="1.42" stroke="#1c1cf4" stroke-width="1.1"/><line x1="1.00" y1="-0.90" x2="0.53" y2="1.45" stroke="#1c1cf4" stroke-width="1.1"/><line x1="2.60" y1="-0.32" x2="1.49" y2="1.81" stroke="#1c1cf4" stroke-width="1.1"/><line x1="4.20" y1="0.76" x2="2.66" y2="2.60" stroke="#1c1cf4" stroke-width="1.1"/></g>
<g transform="translate(84,487) rotate(-10) scale(0.95)"><path d="M-5,1.5 Q0,-3.5 5,1.5" fill="none" stroke="#1c1cf4" stroke-width="1.5"/><line x1="-3.80" y1="0.44" x2="-5.25" y2="-1.47" stroke="#1c1cf4" stroke-width="1.1"/><line x1="-2.20" y1="-0.52" x2="-3.17" y2="-2.71" stroke="#1c1cf4" stroke-width="1.1"/><line x1="-0.60" y1="-0.96" x2="-0.89" y2="-3.35" stroke="#1c1cf4" stroke-width="1.1"/><line x1="1.00" y1="-0.90" x2="1.47" y2="-3.25" stroke="#1c1cf4" stroke-width="1.1"/><line x1="2.60" y1="-0.32" x2="3.71" y2="-2.45" stroke="#1c1cf4" stroke-width="1.1"/><line x1="4.20" y1="0.76" x2="5.74" y2="-1.07" stroke="#1c1cf4" stroke-width="1.1"/></g>
<g transform="translate(108.6,484) rotate(-25) scale(0.95)"><path d="M-5,1.5 Q0,-3.5 5,1.5" fill="none" stroke="#1c1cf4" stroke-width="1.5"/><line x1="-3.80" y1="0.44" x2="-2.35" y2="2.35" stroke="#1c1cf4" stroke-width="1.1"/><line x1="-2.20" y1="-0.52" x2="-1.23" y2="1.68" stroke="#1c1cf4" stroke-width="1.1"/><line x1="-0.60" y1="-0.96" x2="-0.31" y2="1.42" stroke="#1c1cf4" stroke-width="1.1"/><line x1="1.00" y1="-0.90" x2="0.53" y2="1.45" stroke="#1c1cf4" stroke-width="1.1"/><line x1="2.60" y1="-0.32" x2="1.49" y2="1.81" stroke="#1c1cf4" stroke-width="1.1"/><line x1="4.20" y1="0.76" x2="2.66" y2="2.60" stroke="#1c1cf4" stroke-width="1.1"/></g>
<circle cx="152.3" cy="465" r="6.3" fill="#da68e4" filter="url(#blg)"/>
<circle cx="173.2" cy="475.1" r="7.3" fill="#da68e4" filter="url(#blg)"/>
<g filter="url(#blg)"><path d="M237.6,467.0 L238.1,471.2 L244.7,464.6 L250.2,466.9 L254.0,469.2 L259.0,465.5" fill="none" stroke="#d874e6" stroke-opacity="0.9" stroke-width="5.6" stroke-linecap="round" stroke-linejoin="round"/><circle cx="237.6" cy="467.0" r="3.9" fill="#d874e6" fill-opacity="0.9"/><circle cx="237.8" cy="469.1" r="3.5" fill="#d874e6" fill-opacity="0.8"/><circle cx="238.1" cy="471.2" r="3.9" fill="#d874e6" fill-opacity="0.9"/><circle cx="241.4" cy="467.9" r="3.5" fill="#d874e6" fill-opacity="0.8"/><circle cx="244.7" cy="464.6" r="3.9" fill="#d874e6" fill-opacity="0.9"/><circle cx="247.4" cy="465.8" r="3.5" fill="#d874e6" fill-opacity="0.8"/><circle cx="250.2" cy="466.9" r="3.9" fill="#d874e6" fill-opacity="0.9"/><circle cx="252.1" cy="468.0" r="3.5" fill="#d874e6" fill-opacity="0.8"/><circle cx="254.0" cy="469.2" r="3.9" fill="#d874e6" fill-opacity="0.9"/><circle cx="256.5" cy="467.4" r="3.5" fill="#d874e6" fill-opacity="0.8"/><circle cx="259.0" cy="465.5" r="3.9" fill="#d874e6" fill-opacity="0.9"/></g>
<g filter="url(#blg)"><path d="M267.7,459.2 L273.2,462.5 L279.8,457.6 L286.3,458.1 L290.7,456.0" fill="none" stroke="#d874e6" stroke-opacity="0.9" stroke-width="5.6" stroke-linecap="round" stroke-linejoin="round"/><circle cx="267.7" cy="459.2" r="3.9" fill="#d874e6" fill-opacity="0.9"/><circle cx="270.4" cy="460.9" r="3.5" fill="#d874e6" fill-opacity="0.8"/><circle cx="273.2" cy="462.5" r="3.9" fill="#d874e6" fill-opacity="0.9"/><circle cx="276.5" cy="460.1" r="3.5" fill="#d874e6" fill-opacity="0.8"/><circle cx="279.8" cy="457.6" r="3.9" fill="#d874e6" fill-opacity="0.9"/><circle cx="283.1" cy="457.9" r="3.5" fill="#d874e6" fill-opacity="0.8"/><circle cx="286.3" cy="458.1" r="3.9" fill="#d874e6" fill-opacity="0.9"/><circle cx="288.5" cy="457.1" r="3.5" fill="#d874e6" fill-opacity="0.8"/><circle cx="290.7" cy="456.0" r="3.9" fill="#d874e6" fill-opacity="0.9"/></g>
<g filter="url(#blg)"><path d="M255.7,481.7 L262.2,483.9 L265.5,487.0 L271.0,485.5 L276.5,477.9 L278.7,475.7" fill="none" stroke="#d874e6" stroke-opacity="0.9" stroke-width="5.6" stroke-linecap="round" stroke-linejoin="round"/><circle cx="255.7" cy="481.7" r="3.9" fill="#d874e6" fill-opacity="0.9"/><circle cx="258.9" cy="482.8" r="3.5" fill="#d874e6" fill-opacity="0.8"/><circle cx="262.2" cy="483.9" r="3.9" fill="#d874e6" fill-opacity="0.9"/><circle cx="263.9" cy="485.4" r="3.5" fill="#d874e6" fill-opacity="0.8"/><circle cx="265.5" cy="487.0" r="3.9" fill="#d874e6" fill-opacity="0.9"/><circle cx="268.2" cy="486.2" r="3.5" fill="#d874e6" fill-opacity="0.8"/><circle cx="271.0" cy="485.5" r="3.9" fill="#d874e6" fill-opacity="0.9"/><circle cx="273.8" cy="481.7" r="3.5" fill="#d874e6" fill-opacity="0.8"/><circle cx="276.5" cy="477.9" r="3.9" fill="#d874e6" fill-opacity="0.9"/><circle cx="277.6" cy="476.8" r="3.5" fill="#d874e6" fill-opacity="0.8"/><circle cx="278.7" cy="475.7" r="3.9" fill="#d874e6" fill-opacity="0.9"/></g>
<path d="M349.6,460.4 L350.1,466.6 L354.2,462.0 L358.3,457.9 L363.4,459.9 L367.0,464.0 L371.6,459.9" fill="none" stroke="#d890e8" stroke-opacity="0.95" stroke-width="8" stroke-linecap="round" stroke-linejoin="round" filter="url(#blg)"/>
<circle cx="349.6" cy="460.4" r="1.7" fill="#f2e2f8" filter="url(#bl05)"/>
<circle cx="349.9" cy="460.6" r="0.8" fill="#c040d0"/>
<circle cx="350.1" cy="466.6" r="1.7" fill="#f2e2f8" filter="url(#bl05)"/>
<circle cx="354.2" cy="462.0" r="1.7" fill="#f2e2f8" filter="url(#bl05)"/>
<circle cx="354.5" cy="462.2" r="0.8" fill="#c040d0"/>
<circle cx="358.3" cy="457.9" r="1.7" fill="#f2e2f8" filter="url(#bl05)"/>
<circle cx="363.4" cy="459.9" r="1.7" fill="#f2e2f8" filter="url(#bl05)"/>
<circle cx="363.7" cy="460.1" r="0.8" fill="#c040d0"/>
<circle cx="367.0" cy="464.0" r="1.7" fill="#f2e2f8" filter="url(#bl05)"/>
<circle cx="371.6" cy="459.9" r="1.7" fill="#f2e2f8" filter="url(#bl05)"/>
<circle cx="371.9" cy="460.1" r="0.8" fill="#c040d0"/>
<path d="M380.8,453.3 L386.4,457.9 L392.5,452.3 L397.6,450.7 L400.7,453.8 L404.2,450.7" fill="none" stroke="#d890e8" stroke-opacity="0.95" stroke-width="8" stroke-linecap="round" stroke-linejoin="round" filter="url(#blg)"/>
<circle cx="380.8" cy="453.3" r="1.7" fill="#f2e2f8" filter="url(#bl05)"/>
<circle cx="381.1" cy="453.5" r="0.8" fill="#c040d0"/>
<circle cx="386.4" cy="457.9" r="1.7" fill="#f2e2f8" filter="url(#bl05)"/>
<circle cx="392.5" cy="452.3" r="1.7" fill="#f2e2f8" filter="url(#bl05)"/>
<circle cx="392.8" cy="452.5" r="0.8" fill="#c040d0"/>
<circle cx="397.6" cy="450.7" r="1.7" fill="#f2e2f8" filter="url(#bl05)"/>
<circle cx="400.7" cy="453.8" r="1.7" fill="#f2e2f8" filter="url(#bl05)"/>
<circle cx="401.0" cy="454.0" r="0.8" fill="#c040d0"/>
<circle cx="404.2" cy="450.7" r="1.7" fill="#f2e2f8" filter="url(#bl05)"/>
<path d="M370.0,477.8 L374.1,478.6 L377.7,486.0 L384.3,481.4 L391.5,472.7" fill="none" stroke="#d890e8" stroke-opacity="0.95" stroke-width="8" stroke-linecap="round" stroke-linejoin="round" filter="url(#blg)"/>
<circle cx="370.0" cy="477.8" r="1.7" fill="#f2e2f8" filter="url(#bl05)"/>
<circle cx="370.3" cy="478.0" r="0.8" fill="#c040d0"/>
<circle cx="374.1" cy="478.6" r="1.7" fill="#f2e2f8" filter="url(#bl05)"/>
<circle cx="377.7" cy="486.0" r="1.7" fill="#f2e2f8" filter="url(#bl05)"/>
<circle cx="378.0" cy="486.2" r="0.8" fill="#c040d0"/>
<circle cx="384.3" cy="481.4" r="1.7" fill="#f2e2f8" filter="url(#bl05)"/>
<circle cx="391.5" cy="472.7" r="1.7" fill="#f2e2f8" filter="url(#bl05)"/>
<circle cx="391.8" cy="472.9" r="0.8" fill="#c040d0"/>
<circle cx="475.3" cy="461.4" r="3.2" fill="#f6effc" fill-opacity="0.6" stroke="#d48ee6" stroke-width="1.2" filter="url(#bl05)"/>
<circle cx="475.3" cy="467.4" r="3.2" fill="#f6effc" fill-opacity="0.6" stroke="#d48ee6" stroke-width="1.2" filter="url(#bl05)"/>
<circle cx="481.9" cy="459.7" r="3.2" fill="#f6effc" fill-opacity="0.6" stroke="#d48ee6" stroke-width="1.2" filter="url(#bl05)"/>
<circle cx="480.8" cy="464.1" r="3.2" fill="#f6effc" fill-opacity="0.6" stroke="#d48ee6" stroke-width="1.2" filter="url(#bl05)"/>
<circle cx="488.5" cy="460.8" r="3.2" fill="#f6effc" fill-opacity="0.6" stroke="#d48ee6" stroke-width="1.2" filter="url(#bl05)"/>
<circle cx="492.9" cy="464.6" r="3.2" fill="#f6effc" fill-opacity="0.6" stroke="#d48ee6" stroke-width="1.2" filter="url(#bl05)"/>
<circle cx="497.2" cy="459.7" r="3.2" fill="#f6effc" fill-opacity="0.6" stroke="#d48ee6" stroke-width="1.2" filter="url(#bl05)"/>
<circle cx="506.5" cy="454.2" r="3.2" fill="#f6effc" fill-opacity="0.6" stroke="#d48ee6" stroke-width="1.2" filter="url(#bl05)"/>
<circle cx="512.0" cy="458.6" r="3.2" fill="#f6effc" fill-opacity="0.6" stroke="#d48ee6" stroke-width="1.2" filter="url(#bl05)"/>
<circle cx="517.0" cy="453.1" r="3.2" fill="#f6effc" fill-opacity="0.6" stroke="#d48ee6" stroke-width="1.2" filter="url(#bl05)"/>
<circle cx="523.0" cy="451.0" r="3.2" fill="#f6effc" fill-opacity="0.6" stroke="#d48ee6" stroke-width="1.2" filter="url(#bl05)"/>
<circle cx="525.7" cy="454.2" r="3.2" fill="#f6effc" fill-opacity="0.6" stroke="#d48ee6" stroke-width="1.2" filter="url(#bl05)"/>
<circle cx="529.5" cy="451.0" r="3.2" fill="#f6effc" fill-opacity="0.6" stroke="#d48ee6" stroke-width="1.2" filter="url(#bl05)"/>
<circle cx="494.5" cy="477.2" r="3.2" fill="#f6effc" fill-opacity="0.6" stroke="#d48ee6" stroke-width="1.2" filter="url(#bl05)"/>
<circle cx="499.4" cy="478.9" r="3.2" fill="#f6effc" fill-opacity="0.6" stroke="#d48ee6" stroke-width="1.2" filter="url(#bl05)"/>
<circle cx="503.3" cy="485.5" r="3.2" fill="#f6effc" fill-opacity="0.6" stroke="#d48ee6" stroke-width="1.2" filter="url(#bl05)"/>
<circle cx="509.3" cy="482.2" r="3.2" fill="#f6effc" fill-opacity="0.6" stroke="#d48ee6" stroke-width="1.2" filter="url(#bl05)"/>
<circle cx="513.1" cy="478.3" r="3.2" fill="#f6effc" fill-opacity="0.6" stroke="#d48ee6" stroke-width="1.2" filter="url(#bl05)"/>
<circle cx="516.4" cy="474.0" r="3.2" fill="#f6effc" fill-opacity="0.6" stroke="#d48ee6" stroke-width="1.2" filter="url(#bl05)"/>
<g filter="url(#blg)"><path d="M559.7,458.8 L560.2,464.0 L567.4,456.6 L572.5,458.9 L576.6,461.6 L581.7,457.2" fill="none" stroke="#d874e6" stroke-opacity="0.9" stroke-width="5.6" stroke-linecap="round" stroke-linejoin="round"/><circle cx="559.7" cy="458.8" r="3.9" fill="#d874e6" fill-opacity="0.9"/><circle cx="560.0" cy="461.4" r="3.5" fill="#d874e6" fill-opacity="0.8"/><circle cx="560.2" cy="464.0" r="3.9" fill="#d874e6" fill-opacity="0.9"/><circle cx="563.8" cy="460.3" r="3.5" fill="#d874e6" fill-opacity="0.8"/><circle cx="567.4" cy="456.6" r="3.9" fill="#d874e6" fill-opacity="0.9"/><circle cx="570.0" cy="457.8" r="3.5" fill="#d874e6" fill-opacity="0.8"/><circle cx="572.5" cy="458.9" r="3.9" fill="#d874e6" fill-opacity="0.9"/><circle cx="574.5" cy="460.2" r="3.5" fill="#d874e6" fill-opacity="0.8"/><circle cx="576.6" cy="461.6" r="3.9" fill="#d874e6" fill-opacity="0.9"/><circle cx="579.2" cy="459.4" r="3.5" fill="#d874e6" fill-opacity="0.8"/><circle cx="581.7" cy="457.2" r="3.9" fill="#d874e6" fill-opacity="0.9"/></g>
<g filter="url(#blg)"><path d="M590.3,451.6 L594.9,455.8 L601.1,450.5 L607.2,449.0 L612.3,449.4" fill="none" stroke="#d874e6" stroke-opacity="0.9" stroke-width="5.6" stroke-linecap="round" stroke-linejoin="round"/><circle cx="590.3" cy="451.6" r="3.9" fill="#d874e6" fill-opacity="0.9"/><circle cx="592.6" cy="453.7" r="3.5" fill="#d874e6" fill-opacity="0.8"/><circle cx="594.9" cy="455.8" r="3.9" fill="#d874e6" fill-opacity="0.9"/><circle cx="598.0" cy="453.1" r="3.5" fill="#d874e6" fill-opacity="0.8"/><circle cx="601.1" cy="450.5" r="3.9" fill="#d874e6" fill-opacity="0.9"/><circle cx="604.2" cy="449.8" r="3.5" fill="#d874e6" fill-opacity="0.8"/><circle cx="607.2" cy="449.0" r="3.9" fill="#d874e6" fill-opacity="0.9"/><circle cx="609.8" cy="449.2" r="3.5" fill="#d874e6" fill-opacity="0.8"/><circle cx="612.3" cy="449.4" r="3.9" fill="#d874e6" fill-opacity="0.9"/></g>
<g filter="url(#blg)"><path d="M578.6,473.7 L584.7,475.8 L587.8,481.4 L592.9,478.3 L600.0,469.6" fill="none" stroke="#d874e6" stroke-opacity="0.9" stroke-width="5.6" stroke-linecap="round" stroke-linejoin="round"/><circle cx="578.6" cy="473.7" r="3.9" fill="#d874e6" fill-opacity="0.9"/><circle cx="581.7" cy="474.8" r="3.5" fill="#d874e6" fill-opacity="0.8"/><circle cx="584.7" cy="475.8" r="3.9" fill="#d874e6" fill-opacity="0.9"/><circle cx="586.2" cy="478.6" r="3.5" fill="#d874e6" fill-opacity="0.8"/><circle cx="587.8" cy="481.4" r="3.9" fill="#d874e6" fill-opacity="0.9"/><circle cx="590.3" cy="479.9" r="3.5" fill="#d874e6" fill-opacity="0.8"/><circle cx="592.9" cy="478.3" r="3.9" fill="#d874e6" fill-opacity="0.9"/><circle cx="596.5" cy="474.0" r="3.5" fill="#d874e6" fill-opacity="0.8"/><circle cx="600.0" cy="469.6" r="3.9" fill="#d874e6" fill-opacity="0.9"/></g>
<g clip-path="url(#c1)"><g filter="url(#lutE2)">
<rect x="281.3" y="214.8" width="48.9" height="48.8" fill="rgb(17,17,17)"/>
<circle cx="284.8" cy="219.5" r="6.2" fill="rgb(234,234,234)" filter="url(#eb1)"/>
<circle cx="286.6" cy="231.7" r="3.9" fill="rgb(216,216,216)" filter="url(#eb1)"/>
<circle cx="308.4" cy="258.5" r="9.6" fill="rgb(237,237,237)" filter="url(#eb1)"/>
<circle cx="323.0" cy="254" r="5.9" fill="rgb(224,224,224)" filter="url(#eb1)"/>
<circle cx="305.8" cy="235.2" r="15.8" fill="rgb(244,244,244)" filter="url(#eb1)"/>
</g></g>
<rect x="281.8" y="215.3" width="47.9" height="47.8" fill="none" stroke="#555" stroke-width="1.0"/>
<g clip-path="url(#c2)"><g filter="url(#lutE3)">
<rect x="335" y="214.8" width="48.9" height="48.8" fill="rgb(17,17,17)"/>
<circle cx="338.5" cy="219.5" r="6.2" fill="rgb(234,234,234)" filter="url(#eb1)"/>
<circle cx="340.3" cy="231.7" r="3.9" fill="rgb(216,216,216)" filter="url(#eb1)"/>
<circle cx="362.09999999999997" cy="258.5" r="9.6" fill="rgb(237,237,237)" filter="url(#eb1)"/>
<circle cx="376.7" cy="254" r="5.9" fill="rgb(224,224,224)" filter="url(#eb1)"/>
<circle cx="359.5" cy="235.2" r="15.8" fill="rgb(244,244,244)" filter="url(#eb1)"/>
<circle cx="359.5" cy="235.2" r="15" fill="url(#ebleach)" filter="url(#eb1)"/>
</g></g>
<rect x="335.5" y="215.3" width="47.9" height="47.8" fill="none" stroke="#555" stroke-width="1.0"/>
<g clip-path="url(#c3)"><g filter="url(#lutE1)">
<rect x="388.4" y="214.8" width="49.6" height="48.8" fill="rgb(17,17,17)"/>
<circle cx="393.8" cy="221.5" r="7" fill="rgb(229,229,229)" filter="url(#eb1)"/>
<circle cx="413.5" cy="237.5" r="15" fill="rgb(237,237,237)" filter="url(#eb1)"/>
<circle cx="416" cy="260" r="7.5" fill="rgb(219,219,219)" filter="url(#eb1)"/>
<circle cx="430.3" cy="257" r="6.5" fill="rgb(216,216,216)" filter="url(#eb1)"/>
<circle cx="436.5" cy="246" r="3.3" fill="rgb(183,183,183)" filter="url(#eb1)"/>
</g></g>
<rect x="389.4" y="215.8" width="47.6" height="46.8" fill="none" stroke="#7a7a7a" stroke-width="2.0"/>
<line x1="410" y1="259.7" x2="433.8" y2="259.7" stroke="#fff" stroke-width="1.4"/>
<g clip-path="url(#c4)"><g filter="url(#lutE2)">
<rect x="281" y="278" width="49.9" height="49.8" fill="rgb(17,17,17)"/>
<ellipse cx="289.7" cy="285" rx="9" ry="6.8" fill="rgb(247,247,247)" filter="url(#eb1)" transform="rotate(0 289.7 285)"/>
<path d="M302.0,283.8 L312.4,283.6 L313.6,288.0 L314.1,297.4 L317.5,304.2 L322.6,311.9 L323.8,318.8 L320.5,324.2 L314.9,326.0 L308.9,324.2 L304.7,317.5 L298.7,312.2 L291.8,308.8 L284.1,307.0 L282.2,301.7 L284.1,294.8 L291.8,293.1 L299.5,291.4 L300.8,286.5 Z" fill="rgb(237,237,237)" filter="url(#eb1)"/>
<ellipse cx="289" cy="301" rx="7" ry="6" fill="rgb(193,193,193)" filter="url(#eb2)" transform="rotate(0 289 301)"/>
</g></g>
<rect x="281.9" y="278.9" width="48.1" height="48.0" fill="none" stroke="#1a22ff" stroke-width="1.8"/>
<g clip-path="url(#c5)"><g filter="url(#lutE3)">
<rect x="334.7" y="278" width="50" height="49.8" fill="rgb(17,17,17)"/>
<ellipse cx="343.3" cy="285" rx="9" ry="6.8" fill="rgb(247,247,247)" filter="url(#eb1)" transform="rotate(0 343.3 285)"/>
<path d="M355.6,283.8 L366.0,283.6 L367.2,288.0 L367.7,297.4 L371.1,304.2 L376.2,311.9 L377.4,318.8 L374.1,324.2 L368.5,326.0 L362.5,324.2 L358.3,317.5 L352.3,312.2 L345.4,308.8 L337.7,307.0 L335.8,301.7 L337.7,294.8 L345.4,293.1 L353.1,291.4 L354.4,286.5 Z" fill="rgb(214,214,214)" filter="url(#eb1)"/>
<ellipse cx="342.6" cy="301" rx="7" ry="6" fill="rgb(193,193,193)" filter="url(#eb2)" transform="rotate(0 342.6 301)"/>
<ellipse cx="363.6" cy="312" rx="10" ry="11" fill="rgb(178,178,178)" filter="url(#eb2)" transform="rotate(-30 363.6 312)"/>
<ellipse cx="358.6" cy="290" rx="6" ry="6" fill="rgb(234,234,234)" filter="url(#eb2)" transform="rotate(0 358.6 290)"/>
</g></g>
<rect x="335.59999999999997" y="278.9" width="48.2" height="48.0" fill="none" stroke="#1a22ff" stroke-width="1.8"/>
<g clip-path="url(#c6)"><g filter="url(#lutE1)">
<rect x="388.4" y="278" width="49.9" height="49.8" fill="rgb(17,17,17)"/>
<ellipse cx="397.0" cy="285" rx="9" ry="6.8" fill="rgb(247,247,247)" filter="url(#eb1)" transform="rotate(0 397.0 285)"/>
<path d="M409.3,283.8 L419.7,283.6 L420.9,288.0 L421.4,297.4 L424.8,304.2 L429.9,311.9 L431.1,318.8 L427.8,324.2 L422.2,326.0 L416.2,324.2 L412.0,317.5 L406.0,312.2 L399.1,308.8 L391.4,307.0 L389.5,301.7 L391.4,294.8 L399.1,293.1 L406.8,291.4 L408.1,286.5 Z" fill="rgb(214,214,214)" filter="url(#eb1)"/>
<ellipse cx="396.3" cy="301" rx="7" ry="6" fill="rgb(193,193,193)" filter="url(#eb2)" transform="rotate(0 396.3 301)"/>
<ellipse cx="419.3" cy="314" rx="9" ry="10" fill="rgb(193,193,193)" filter="url(#eb2)" transform="rotate(-30 419.3 314)"/>
<ellipse cx="412.3" cy="290" rx="6" ry="6" fill="rgb(234,234,234)" filter="url(#eb2)" transform="rotate(0 412.3 290)"/>
</g></g>
<rect x="389.29999999999995" y="278.9" width="48.1" height="48.0" fill="none" stroke="#1a22ff" stroke-width="1.8"/>
<line x1="414" y1="321.4" x2="435" y2="321.4" stroke="#fff" stroke-width="1.4"/>
<g clip-path="url(#c7)"><g filter="url(#lutE4)">
<rect x="281.6" y="341.2" width="48.6" height="48.5" fill="rgb(17,17,17)"/>
<rect x="281" y="341" width="50" height="49" fill="rgb(153,153,153)"/>
<ellipse cx="305" cy="357" rx="18" ry="14" fill="rgb(193,193,193)" filter="url(#eb2)" transform="rotate(0 305 357)"/>
<ellipse cx="303" cy="360" rx="10" ry="8" fill="rgb(214,214,214)" filter="url(#eb2)" transform="rotate(0 303 360)"/>
<ellipse cx="284" cy="345" rx="5" ry="6" fill="rgb(81,81,81)" filter="url(#eb2)" transform="rotate(0 284 345)"/>
<ellipse cx="282.5" cy="372" rx="3" ry="9" fill="rgb(76,76,76)" filter="url(#eb2)" transform="rotate(0 282.5 372)"/>
<ellipse cx="293.5" cy="383" rx="10" ry="7" fill="rgb(15,15,15)" filter="url(#eb2)" transform="rotate(20 293.5 383)"/>
<ellipse cx="313" cy="386" rx="7" ry="4.5" fill="rgb(38,38,38)" filter="url(#eb2)" transform="rotate(0 313 386)"/>
<ellipse cx="330" cy="363" rx="3.5" ry="12" fill="rgb(20,20,20)" filter="url(#eb2)" transform="rotate(0 330 363)"/>
<ellipse cx="323" cy="386" rx="5" ry="4" fill="rgb(140,140,140)" filter="url(#eb2)" transform="rotate(0 323 386)"/>
</g></g>
<rect x="282.25" y="341.84999999999997" width="47.300000000000004" height="47.2" fill="none" stroke="#4a9a2a" stroke-width="1.3"/>
<g clip-path="url(#c8)"><g filter="url(#lutE4)">
<rect x="335.6" y="341.2" width="48.6" height="48.5" fill="rgb(17,17,17)"/>
<rect x="335" y="341" width="50" height="49" fill="rgb(153,153,153)"/>
<ellipse cx="359" cy="357" rx="18" ry="14" fill="rgb(193,193,193)" filter="url(#eb2)" transform="rotate(0 359 357)"/>
<ellipse cx="357" cy="360" rx="10" ry="8" fill="rgb(214,214,214)" filter="url(#eb2)" transform="rotate(0 357 360)"/>
<ellipse cx="338" cy="345" rx="5" ry="6" fill="rgb(81,81,81)" filter="url(#eb2)" transform="rotate(0 338 345)"/>
<ellipse cx="336.5" cy="372" rx="3" ry="9" fill="rgb(76,76,76)" filter="url(#eb2)" transform="rotate(0 336.5 372)"/>
<ellipse cx="347.5" cy="383" rx="10" ry="7" fill="rgb(15,15,15)" filter="url(#eb2)" transform="rotate(20 347.5 383)"/>
<ellipse cx="367" cy="386" rx="7" ry="4.5" fill="rgb(38,38,38)" filter="url(#eb2)" transform="rotate(0 367 386)"/>
<ellipse cx="384" cy="363" rx="3.5" ry="12" fill="rgb(20,20,20)" filter="url(#eb2)" transform="rotate(0 384 363)"/>
<ellipse cx="377" cy="386" rx="5" ry="4" fill="rgb(140,140,140)" filter="url(#eb2)" transform="rotate(0 377 386)"/>
<circle cx="358.5" cy="362.3" r="3.2" fill="rgb(51,51,51)" filter="url(#eb1)"/>
</g></g>
<rect x="336.25" y="341.84999999999997" width="47.300000000000004" height="47.2" fill="none" stroke="#4a9a2a" stroke-width="1.3"/>
<g clip-path="url(#c9)"><g filter="url(#lutE4)">
<rect x="388.5" y="341" width="49.6" height="49" fill="rgb(17,17,17)"/>
<rect x="388.3" y="341" width="50" height="49" fill="rgb(153,153,153)"/>
<ellipse cx="412.3" cy="357" rx="18" ry="14" fill="rgb(193,193,193)" filter="url(#eb2)" transform="rotate(0 412.3 357)"/>
<ellipse cx="410.3" cy="360" rx="10" ry="8" fill="rgb(214,214,214)" filter="url(#eb2)" transform="rotate(0 410.3 360)"/>
<ellipse cx="391.3" cy="345" rx="5" ry="6" fill="rgb(81,81,81)" filter="url(#eb2)" transform="rotate(0 391.3 345)"/>
<ellipse cx="389.8" cy="372" rx="3" ry="9" fill="rgb(76,76,76)" filter="url(#eb2)" transform="rotate(0 389.8 372)"/>
<ellipse cx="400.8" cy="383" rx="10" ry="7" fill="rgb(15,15,15)" filter="url(#eb2)" transform="rotate(20 400.8 383)"/>
<ellipse cx="420.3" cy="386" rx="7" ry="4.5" fill="rgb(38,38,38)" filter="url(#eb2)" transform="rotate(0 420.3 386)"/>
<ellipse cx="437.3" cy="363" rx="3.5" ry="12" fill="rgb(20,20,20)" filter="url(#eb2)" transform="rotate(0 437.3 363)"/>
<ellipse cx="430.3" cy="386" rx="5" ry="4" fill="rgb(140,140,140)" filter="url(#eb2)" transform="rotate(0 430.3 386)"/>
<circle cx="411.8" cy="362.3" r="3.2" fill="rgb(127,127,127)" filter="url(#eb1)"/>
</g></g>
<rect x="389.5" y="342.0" width="47.6" height="47.0" fill="none" stroke="#3a9a20" stroke-width="2.0"/>
<line x1="421.4" y1="384" x2="432.6" y2="384" stroke="#fff" stroke-width="1.4"/>
<g clip-path="url(#c10)"><g filter="url(#lutH1)">
<rect x="47.8" y="517.8" width="113" height="112.4" fill="rgb(38,38,38)"/>
<circle cx="81.2" cy="537" r="6.1" fill="url(#iW)"/>
<circle cx="70.2" cy="544.4" r="4.8" fill="url(#iO)"/>
<circle cx="106" cy="542.2" r="3.9" fill="url(#iO)"/>
<circle cx="141.5" cy="538" r="5.1" fill="url(#iO)"/>
<circle cx="151.6" cy="550.8" r="7.8" fill="url(#iW)"/>
<circle cx="94" cy="559.7" r="5.3" fill="url(#iW)"/>
<circle cx="144.2" cy="570.1" r="3.4" fill="url(#iO)"/>
<circle cx="127.3" cy="575.3" r="5.6" fill="url(#iW)"/>
<circle cx="90" cy="581.2" r="5.1" fill="url(#iW)"/>
<circle cx="60.6" cy="583" r="4.2" fill="url(#iO)"/>
<circle cx="77.7" cy="575.3" r="3.1" fill="url(#iR)"/>
<circle cx="76.2" cy="583.4" r="2.7" fill="url(#iR)"/>
<circle cx="98.3" cy="594.9" r="6.8" fill="url(#iW)"/>
<circle cx="76.6" cy="596.8" r="7.8" fill="url(#iO)"/>
<circle cx="51.4" cy="606" r="5.1" fill="url(#iO)"/>
<circle cx="64.3" cy="608.3" r="7.8" fill="url(#iW)"/>
<circle cx="83.6" cy="612.4" r="5.1" fill="url(#iO)"/>
<circle cx="85.8" cy="604.1" r="2.5" fill="url(#iR)"/>
<circle cx="102" cy="606.9" r="4.4" fill="url(#iR)"/>
<circle cx="126.2" cy="605" r="3.4" fill="url(#iO)"/>
<circle cx="121.8" cy="609" r="2.7" fill="url(#iR)"/>
<circle cx="154.9" cy="607.8" r="3.4" fill="url(#iO)"/>
<circle cx="117.6" cy="623.8" r="5.1" fill="url(#iO)"/>
<circle cx="84.5" cy="626.2" r="4.4" fill="url(#iO)"/>
<circle cx="68.9" cy="628" r="6.0" fill="url(#iW)"/>
<circle cx="72.2" cy="624.9" r="3.4" fill="url(#iO)"/>
<circle cx="52" cy="532" r="10.4" fill="url(#iP)"/>
<circle cx="76" cy="574" r="15.6" fill="url(#iP)"/>
<circle cx="75" cy="596" r="18.2" fill="url(#iP)"/>
</g></g>
<rect x="48.699999999999996" y="518.6999999999999" width="111.2" height="110.60000000000001" fill="none" stroke="#1f3dff" stroke-width="1.8"/>
<text x="0" y="0" font-size="13.5" fill="#fff" text-anchor="end" font-weight="normal" transform="translate(155.5,536.5) scale(1,1.04)" >2 min</text>
<g clip-path="url(#c11)"><g filter="url(#lutH2)">
<rect x="171.3" y="517.8" width="113.4" height="112.4" fill="rgb(38,38,38)"/>
<path d="M182.5,522 L201,520.5" fill="none" stroke="#fff" stroke-opacity="0.29" stroke-width="12.15" stroke-linecap="round" stroke-linejoin="round" filter="url(#ib2)"/>
<path d="M182.5,522 L201,520.5" fill="none" stroke="#fff" stroke-opacity="0.58" stroke-width="6.1" stroke-linecap="round" stroke-linejoin="round" filter="url(#ib)"/>
<circle cx="182.5" cy="522" r="5.4" fill="url(#iM)"/>
<circle cx="201" cy="520.5" r="5.4" fill="url(#iM)"/>
<path d="M183,524 L184.5,536" fill="none" stroke="#fff" stroke-opacity="0.29" stroke-width="12.8" stroke-linecap="round" stroke-linejoin="round" filter="url(#ib2)"/>
<path d="M183,524 L184.5,536" fill="none" stroke="#fff" stroke-opacity="0.58" stroke-width="6.6" stroke-linecap="round" stroke-linejoin="round" filter="url(#ib)"/>
<circle cx="183" cy="524" r="5.9" fill="url(#iM)"/>
<circle cx="184.5" cy="536" r="5.9" fill="url(#iM)"/>
<path d="M186,529 l0.01,0" fill="none" stroke="#fff" stroke-opacity="0.40" stroke-width="11.5" stroke-linecap="round" stroke-linejoin="round" filter="url(#ib2)"/>
<path d="M186,529 l0.01,0" fill="none" stroke="#fff" stroke-opacity="0.80" stroke-width="5.5" stroke-linecap="round" stroke-linejoin="round" filter="url(#ib)"/>
<path d="M193,524 l0.01,0" fill="none" stroke="#fff" stroke-opacity="0.40" stroke-width="10.2" stroke-linecap="round" stroke-linejoin="round" filter="url(#ib2)"/>
<path d="M193,524 l0.01,0" fill="none" stroke="#fff" stroke-opacity="0.80" stroke-width="4.4" stroke-linecap="round" stroke-linejoin="round" filter="url(#ib)"/>
<path d="M211,529 l0.01,0" fill="none" stroke="#fff" stroke-opacity="0.29" stroke-width="12.8" stroke-linecap="round" stroke-linejoin="round" filter="url(#ib2)"/>
<path d="M211,529 l0.01,0" fill="none" stroke="#fff" stroke-opacity="0.58" stroke-width="6.6" stroke-linecap="round" stroke-linejoin="round" filter="url(#ib)"/>
<path d="M219.5,531.5 l0.01,0" fill="none" stroke="#fff" stroke-opacity="0.29" stroke-width="10.850000000000001" stroke-linecap="round" stroke-linejoin="round" filter="url(#ib2)"/>
<path d="M219.5,531.5 l0.01,0" fill="none" stroke="#fff" stroke-opacity="0.58" stroke-width="5.0" stroke-linecap="round" stroke-linejoin="round" filter="url(#ib)"/>
<path d="M218.5,519.5 l0.01,0" fill="none" stroke="#fff" stroke-opacity="0.29" stroke-width="10.2" stroke-linecap="round" stroke-linejoin="round" filter="url(#ib2)"/>
<path d="M218.5,519.5 l0.01,0" fill="none" stroke="#fff" stroke-opacity="0.58" stroke-width="4.4" stroke-linecap="round" stroke-linejoin="round" filter="url(#ib)"/>
<path d="M228,539 L236,545" fill="none" stroke="#fff" stroke-opacity="0.40" stroke-width="15.4" stroke-linecap="round" stroke-linejoin="round" filter="url(#ib2)"/>
<path d="M228,539 L236,545" fill="none" stroke="#fff" stroke-opacity="0.80" stroke-width="8.8" stroke-linecap="round" stroke-linejoin="round" filter="url(#ib)"/>
<circle cx="228" cy="539" r="7.8" fill="url(#iM)"/>
<circle cx="236" cy="545" r="7.8" fill="url(#iM)"/>
<path d="M262.6,546.5 l0.01,0" fill="none" stroke="#fff" stroke-opacity="0.40" stroke-width="15.4" stroke-linecap="round" stroke-linejoin="round" filter="url(#ib2)"/>
<path d="M262.6,546.5 l0.01,0" fill="none" stroke="#fff" stroke-opacity="0.80" stroke-width="8.8" stroke-linecap="round" stroke-linejoin="round" filter="url(#ib)"/>
<path d="M262.4,554.5 l0.01,0" fill="none" stroke="#fff" stroke-opacity="0.29" stroke-width="11.5" stroke-linecap="round" stroke-linejoin="round" filter="url(#ib2)"/>
<path d="M262.4,554.5 l0.01,0" fill="none" stroke="#fff" stroke-opacity="0.58" stroke-width="5.5" stroke-linecap="round" stroke-linejoin="round" filter="url(#ib)"/>
<path d="M275,562 L279,559" fill="none" stroke="#fff" stroke-opacity="0.29" stroke-width="15.4" stroke-linecap="round" stroke-linejoin="round" filter="url(#ib2)"/>
<path d="M275,562 L279,559" fill="none" stroke="#fff" stroke-opacity="0.58" stroke-width="8.8" stroke-linecap="round" stroke-linejoin="round" filter="url(#ib)"/>
<circle cx="275" cy="562" r="7.8" fill="url(#iM)"/>
<circle cx="279" cy="559" r="7.8" fill="url(#iM)"/>
<path d="M208,560 l0.01,0" fill="none" stroke="#fff" stroke-opacity="0.29" stroke-width="13.450000000000001" stroke-linecap="round" stroke-linejoin="round" filter="url(#ib2)"/>
<path d="M208,560 l0.01,0" fill="none" stroke="#fff" stroke-opacity="0.58" stroke-width="7.2" stroke-linecap="round" stroke-linejoin="round" filter="url(#ib)"/>
<path d="M181.5,563.5 l0.01,0" fill="none" stroke="#fff" stroke-opacity="0.40" stroke-width="13.450000000000001" stroke-linecap="round" stroke-linejoin="round" filter="url(#ib2)"/>
<path d="M181.5,563.5 l0.01,0" fill="none" stroke="#fff" stroke-opacity="0.80" stroke-width="7.2" stroke-linecap="round" stroke-linejoin="round" filter="url(#ib)"/>
<path d="M191.5,564.5 L193.5,572" fill="none" stroke="#fff" stroke-opacity="0.40" stroke-width="14.1" stroke-linecap="round" stroke-linejoin="round" filter="url(#ib2)"/>
<path d="M191.5,564.5 L193.5,572" fill="none" stroke="#fff" stroke-opacity="0.80" stroke-width="7.7" stroke-linecap="round" stroke-linejoin="round" filter="url(#ib)"/>
<circle cx="191.5" cy="564.5" r="6.8" fill="url(#iM)"/>
<circle cx="193.5" cy="572" r="6.8" fill="url(#iM)"/>
<path d="M190,578 l0.01,0" fill="none" stroke="#fff" stroke-opacity="0.29" stroke-width="10.2" stroke-linecap="round" stroke-linejoin="round" filter="url(#ib2)"/>
<path d="M190,578 l0.01,0" fill="none" stroke="#fff" stroke-opacity="0.58" stroke-width="4.4" stroke-linecap="round" stroke-linejoin="round" filter="url(#ib)"/>
<path d="M196,575 L203,580 L209.5,583.5" fill="none" stroke="#fff" stroke-opacity="0.29" stroke-width="9.55" stroke-linecap="round" stroke-linejoin="round" filter="url(#ib2)"/>
<path d="M196,575 L203,580 L209.5,583.5" fill="none" stroke="#fff" stroke-opacity="0.58" stroke-width="3.9" stroke-linecap="round" stroke-linejoin="round" filter="url(#ib)"/>
<circle cx="196" cy="575" r="3.4" fill="url(#iM)"/>
<circle cx="203" cy="580" r="3.4" fill="url(#iM)"/>
<circle cx="209.5" cy="583.5" r="3.4" fill="url(#iM)"/>
<path d="M205,594 l0.01,0" fill="none" stroke="#fff" stroke-opacity="0.40" stroke-width="14.75" stroke-linecap="round" stroke-linejoin="round" filter="url(#ib2)"/>
<path d="M205,594 l0.01,0" fill="none" stroke="#fff" stroke-opacity="0.80" stroke-width="8.3" stroke-linecap="round" stroke-linejoin="round" filter="url(#ib)"/>
<path d="M186.8,597.5 l0.01,0" fill="none" stroke="#fff" stroke-opacity="0.29" stroke-width="14.1" stroke-linecap="round" stroke-linejoin="round" filter="url(#ib2)"/>
<path d="M186.8,597.5 l0.01,0" fill="none" stroke="#fff" stroke-opacity="0.58" stroke-width="7.7" stroke-linecap="round" stroke-linejoin="round" filter="url(#ib)"/>
<path d="M246.5,571 L242,580 L240,586" fill="none" stroke="#fff" stroke-opacity="0.40" stroke-width="16.05" stroke-linecap="round" stroke-linejoin="round" filter="url(#ib2)"/>
<path d="M246.5,571 L242,580 L240,586" fill="none" stroke="#fff" stroke-opacity="0.80" stroke-width="9.4" stroke-linecap="round" stroke-linejoin="round" filter="url(#ib)"/>
<circle cx="246.5" cy="571" r="8.3" fill="url(#iM)"/>
<circle cx="242" cy="580" r="8.3" fill="url(#iM)"/>
<circle cx="240" cy="586" r="8.3" fill="url(#iM)"/>
<path d="M227.2,585.5 l0.01,0" fill="none" stroke="#fff" stroke-opacity="0.40" stroke-width="12.8" stroke-linecap="round" stroke-linejoin="round" filter="url(#ib2)"/>
<path d="M227.2,585.5 l0.01,0" fill="none" stroke="#fff" stroke-opacity="0.80" stroke-width="6.6" stroke-linecap="round" stroke-linejoin="round" filter="url(#ib)"/>
<path d="M226.8,595.5 L232,602 L235,609 L229,617 L224,622.5 L232,625 L238,626" fill="none" stroke="#fff" stroke-opacity="0.29" stroke-width="14.1" stroke-linecap="round" stroke-linejoin="round" filter="url(#ib2)"/>
<path d="M226.8,595.5 L232,602 L235,609 L229,617 L224,622.5 L232,625 L238,626" fill="none" stroke="#fff" stroke-opacity="0.58" stroke-width="7.7" stroke-linecap="round" stroke-linejoin="round" filter="url(#ib)"/>
<circle cx="226.8" cy="595.5" r="6.8" fill="url(#iM)"/>
<circle cx="232" cy="602" r="6.8" fill="url(#iM)"/>
<circle cx="235" cy="609" r="6.8" fill="url(#iM)"/>
<circle cx="229" cy="617" r="6.8" fill="url(#iM)"/>
<circle cx="224" cy="622.5" r="6.8" fill="url(#iM)"/>
<circle cx="232" cy="625" r="6.8" fill="url(#iM)"/>
<circle cx="238" cy="626" r="6.8" fill="url(#iM)"/>
<path d="M232.3,603 l0.01,0" fill="none" stroke="#fff" stroke-opacity="0.40" stroke-width="11.5" stroke-linecap="round" stroke-linejoin="round" filter="url(#ib2)"/>
<path d="M232.3,603 l0.01,0" fill="none" stroke="#fff" stroke-opacity="0.80" stroke-width="5.5" stroke-linecap="round" stroke-linejoin="round" filter="url(#ib)"/>
<path d="M262.6,590 L268,596 L262,601 L264,609.5" fill="none" stroke="#fff" stroke-opacity="0.29" stroke-width="14.1" stroke-linecap="round" stroke-linejoin="round" filter="url(#ib2)"/>
<path d="M262.6,590 L268,596 L262,601 L264,609.5" fill="none" stroke="#fff" stroke-opacity="0.58" stroke-width="7.7" stroke-linecap="round" stroke-linejoin="round" filter="url(#ib)"/>
<circle cx="262.6" cy="590" r="6.8" fill="url(#iM)"/>
<circle cx="268" cy="596" r="6.8" fill="url(#iM)"/>
<circle cx="262" cy="601" r="6.8" fill="url(#iM)"/>
<circle cx="264" cy="609.5" r="6.8" fill="url(#iM)"/>
<path d="M263.5,609.8 l0.01,0" fill="none" stroke="#fff" stroke-opacity="0.40" stroke-width="12.15" stroke-linecap="round" stroke-linejoin="round" filter="url(#ib2)"/>
<path d="M263.5,609.8 l0.01,0" fill="none" stroke="#fff" stroke-opacity="0.80" stroke-width="6.1" stroke-linecap="round" stroke-linejoin="round" filter="url(#ib)"/>
<path d="M263,590 l0.01,0" fill="none" stroke="#fff" stroke-opacity="0.40" stroke-width="10.850000000000001" stroke-linecap="round" stroke-linejoin="round" filter="url(#ib2)"/>
<path d="M263,590 l0.01,0" fill="none" stroke="#fff" stroke-opacity="0.80" stroke-width="5.0" stroke-linecap="round" stroke-linejoin="round" filter="url(#ib)"/>
<path d="M246.5,611 l0.01,0" fill="none" stroke="#fff" stroke-opacity="0.29" stroke-width="10.850000000000001" stroke-linecap="round" stroke-linejoin="round" filter="url(#ib2)"/>
<path d="M246.5,611 l0.01,0" fill="none" stroke="#fff" stroke-opacity="0.58" stroke-width="5.0" stroke-linecap="round" stroke-linejoin="round" filter="url(#ib)"/>
<path d="M256.3,574.7 l0.01,0" fill="none" stroke="#fff" stroke-opacity="0.22" stroke-width="8.9" stroke-linecap="round" stroke-linejoin="round" filter="url(#ib2)"/>
<path d="M256.3,574.7 l0.01,0" fill="none" stroke="#fff" stroke-opacity="0.44" stroke-width="3.3" stroke-linecap="round" stroke-linejoin="round" filter="url(#ib)"/>
<path d="M266.3,572 l0.01,0" fill="none" stroke="#fff" stroke-opacity="0.29" stroke-width="10.850000000000001" stroke-linecap="round" stroke-linejoin="round" filter="url(#ib2)"/>
<path d="M266.3,572 l0.01,0" fill="none" stroke="#fff" stroke-opacity="0.58" stroke-width="5.0" stroke-linecap="round" stroke-linejoin="round" filter="url(#ib)"/>
<path d="M257,519 L277,519.5" fill="none" stroke="#fff" stroke-opacity="0.29" stroke-width="10.2" stroke-linecap="round" stroke-linejoin="round" filter="url(#ib2)"/>
<path d="M257,519 L277,519.5" fill="none" stroke="#fff" stroke-opacity="0.58" stroke-width="4.4" stroke-linecap="round" stroke-linejoin="round" filter="url(#ib)"/>
<circle cx="257" cy="519" r="3.9" fill="url(#iM)"/>
<circle cx="277" cy="519.5" r="3.9" fill="url(#iM)"/>
<path d="M200,556 l0.01,0" fill="none" stroke="#fff" stroke-opacity="0.22" stroke-width="15.600000000000001" stroke-linecap="round" stroke-linejoin="round" filter="url(#ib2)"/>
<path d="M188,600 l0.01,0" fill="none" stroke="#fff" stroke-opacity="0.22" stroke-width="15.600000000000001" stroke-linecap="round" stroke-linejoin="round" filter="url(#ib2)"/>
<path d="M250,590 l0.01,0" fill="none" stroke="#fff" stroke-opacity="0.22" stroke-width="15.600000000000001" stroke-linecap="round" stroke-linejoin="round" filter="url(#ib2)"/>
<path d="M240,578 l0.01,0" fill="none" stroke="#fff" stroke-opacity="0.22" stroke-width="13.0" stroke-linecap="round" stroke-linejoin="round" filter="url(#ib2)"/>
</g></g>
<rect x="172.20000000000002" y="518.6999999999999" width="111.60000000000001" height="110.60000000000001" fill="none" stroke="#1f3dff" stroke-width="1.8"/>
<text x="0" y="0" font-size="13.5" fill="#fff" text-anchor="end" font-weight="normal" transform="translate(279,536.5) scale(1,1.04)" >5 min</text>
<g clip-path="url(#c12)"><g filter="url(#lutH3)">
<rect x="295.7" y="517.8" width="113" height="112.4" fill="rgb(52,52,52)"/>
<circle cx="343.5" cy="561" r="2.7" fill="url(#iM)"/>
<circle cx="297.5" cy="615.5" r="3.1" fill="url(#iM)"/>
<circle cx="382" cy="519" r="3.4" fill="url(#iM)"/>
<circle cx="392" cy="545" r="2.0" fill="url(#iM)"/>
<circle cx="344.4" cy="560" r="6.5" fill="none" stroke="#fff" stroke-opacity="0.147" stroke-width="3.4" filter="url(#ib)"/>
<circle cx="310.4" cy="562.8" r="5" fill="none" stroke="#fff" stroke-opacity="0.092" stroke-width="3.4" filter="url(#ib)"/>
<circle cx="372.9" cy="583" r="6" fill="none" stroke="#fff" stroke-opacity="0.092" stroke-width="3.4" filter="url(#ib)"/>
<circle cx="352.6" cy="599.5" r="7" fill="none" stroke="#fff" stroke-opacity="0.092" stroke-width="3.4" filter="url(#ib)"/>
<circle cx="389.4" cy="544.4" r="6" fill="none" stroke="#fff" stroke-opacity="0.083" stroke-width="3.4" filter="url(#ib)"/>
<circle cx="315.9" cy="575.6" r="6" fill="none" stroke="#fff" stroke-opacity="0.092" stroke-width="3.4" filter="url(#ib)"/>
<circle cx="389.4" cy="594" r="6" fill="none" stroke="#fff" stroke-opacity="0.092" stroke-width="3.4" filter="url(#ib)"/>
<circle cx="328.8" cy="610.5" r="7" fill="none" stroke="#fff" stroke-opacity="0.092" stroke-width="3.4" filter="url(#ib)"/>
<circle cx="303" cy="618" r="5" fill="none" stroke="#fff" stroke-opacity="0.074" stroke-width="3.4" filter="url(#ib)"/>
<circle cx="360" cy="575" r="5" fill="none" stroke="#fff" stroke-opacity="0.074" stroke-width="3.4" filter="url(#ib)"/>
</g></g>
<rect x="296.59999999999997" y="518.6999999999999" width="111.2" height="110.60000000000001" fill="none" stroke="#1f3dff" stroke-width="1.8"/>
<text x="0" y="0" font-size="13.5" fill="#fff" text-anchor="end" font-weight="normal" transform="translate(403,536.5) scale(1,1.04)" >10 min</text>
<g clip-path="url(#c13)"><g filter="url(#lutH4)">
<rect x="418.7" y="517.8" width="113" height="112.4" fill="rgb(77,77,77)"/>
<circle cx="446.6" cy="543" r="8" fill="none" stroke="#fff" stroke-opacity="0.184" stroke-width="3.4" filter="url(#ib)"/>
<circle cx="469.9" cy="548.4" r="8" fill="none" stroke="#fff" stroke-opacity="0.161" stroke-width="3.4" filter="url(#ib)"/>
<circle cx="434.1" cy="577" r="8" fill="none" stroke="#fff" stroke-opacity="0.161" stroke-width="3.4" filter="url(#ib)"/>
<circle cx="457.4" cy="577" r="8" fill="none" stroke="#fff" stroke-opacity="0.161" stroke-width="3.4" filter="url(#ib)"/>
<circle cx="502" cy="577" r="8" fill="none" stroke="#fff" stroke-opacity="0.161" stroke-width="3.4" filter="url(#ib)"/>
<circle cx="475.2" cy="593" r="8" fill="none" stroke="#fff" stroke-opacity="0.161" stroke-width="3.4" filter="url(#ib)"/>
<circle cx="511" cy="602" r="8" fill="none" stroke="#fff" stroke-opacity="0.149" stroke-width="3.4" filter="url(#ib)"/>
<circle cx="446.6" cy="598.5" r="8" fill="none" stroke="#fff" stroke-opacity="0.149" stroke-width="3.4" filter="url(#ib)"/>
<circle cx="466.3" cy="614.6" r="8" fill="none" stroke="#fff" stroke-opacity="0.149" stroke-width="3.4" filter="url(#ib)"/>
<circle cx="432.3" cy="618.2" r="7" fill="none" stroke="#fff" stroke-opacity="0.138" stroke-width="3.4" filter="url(#ib)"/>
<circle cx="518.2" cy="553.8" r="7" fill="none" stroke="#fff" stroke-opacity="0.138" stroke-width="3.4" filter="url(#ib)"/>
<circle cx="490" cy="560" r="7" fill="none" stroke="#fff" stroke-opacity="0.115" stroke-width="3.4" filter="url(#ib)"/>
</g></g>
<rect x="419.59999999999997" y="518.6999999999999" width="111.2" height="110.60000000000001" fill="none" stroke="#1f3dff" stroke-width="1.8"/>
<text x="0" y="0" font-size="13.5" fill="#fff" text-anchor="end" font-weight="normal" transform="translate(529,536.5) scale(1,1.04)" >15min</text>
<g clip-path="url(#c14)"><g filter="url(#lutH5)">
<rect x="540.3" y="517.8" width="113.5" height="112.4" fill="rgb(38,38,38)"/>
<circle cx="605.8" cy="524.2" r="7.1" fill="url(#iW)"/>
<circle cx="597.9" cy="555.9" r="6.1" fill="url(#iW)"/>
<circle cx="576.4" cy="568.3" r="6.1" fill="url(#iW)"/>
<circle cx="591" cy="586.4" r="7.8" fill="url(#iP)"/>
<circle cx="625" cy="587.6" r="6.1" fill="url(#iW)"/>
<circle cx="627.3" cy="588.7" r="5.1" fill="url(#iW)"/>
<circle cx="620.5" cy="594.4" r="5.4" fill="url(#iW)"/>
<circle cx="616" cy="604.5" r="5.1" fill="url(#iO)"/>
<circle cx="612.6" cy="602.3" r="4.4" fill="url(#iO)"/>
<circle cx="625" cy="579.7" r="3.4" fill="url(#iR)"/>
<circle cx="545.8" cy="528.8" r="2.7" fill="url(#iR)"/>
<circle cx="643" cy="568.3" r="5.7" fill="url(#iP)"/>
<path d="M585.2,545.7 L587,552.8 L592.3,557 L599.5,556.4" fill="none" stroke="#fff" stroke-opacity="0.29" stroke-width="11.05" stroke-linecap="round" stroke-linejoin="round" filter="url(#ib2)"/>
<path d="M585.2,545.7 L587,552.8 L592.3,557 L599.5,556.4" fill="none" stroke="#fff" stroke-opacity="0.58" stroke-width="5.1" stroke-linecap="round" stroke-linejoin="round" filter="url(#ib)"/>
<circle cx="585.2" cy="545.7" r="4.5" fill="url(#iM)"/>
<circle cx="587" cy="552.8" r="4.5" fill="url(#iM)"/>
<circle cx="592.3" cy="557" r="4.5" fill="url(#iM)"/>
<circle cx="599.5" cy="556.4" r="4.5" fill="url(#iM)"/>
<path d="M599.5,556.4 l0.01,0" fill="none" stroke="#fff" stroke-opacity="0.40" stroke-width="10.5" stroke-linecap="round" stroke-linejoin="round" filter="url(#ib2)"/>
<path d="M599.5,556.4 l0.01,0" fill="none" stroke="#fff" stroke-opacity="0.80" stroke-width="4.7" stroke-linecap="round" stroke-linejoin="round" filter="url(#ib)"/>
<path d="M587,552.8 L579.3,560 L582.8,563.5 L575.7,568.3 L582.2,577.8 L584,583.8 L578.1,590.9" fill="none" stroke="#fff" stroke-opacity="0.29" stroke-width="10.5" stroke-linecap="round" stroke-linejoin="round" filter="url(#ib2)"/>
<path d="M587,552.8 L579.3,560 L582.8,563.5 L575.7,568.3 L582.2,577.8 L584,583.8 L578.1,590.9" fill="none" stroke="#fff" stroke-opacity="0.58" stroke-width="4.7" stroke-linecap="round" stroke-linejoin="round" filter="url(#ib)"/>
<circle cx="587" cy="552.8" r="4.1" fill="url(#iM)"/>
<circle cx="579.3" cy="560" r="4.1" fill="url(#iM)"/>
<circle cx="582.8" cy="563.5" r="4.1" fill="url(#iM)"/>
<circle cx="575.7" cy="568.3" r="4.1" fill="url(#iM)"/>
<circle cx="582.2" cy="577.8" r="4.1" fill="url(#iM)"/>
<circle cx="584" cy="583.8" r="4.1" fill="url(#iM)"/>
<circle cx="578.1" cy="590.9" r="4.1" fill="url(#iM)"/>
<path d="M575.7,568.3 l0.01,0" fill="none" stroke="#fff" stroke-opacity="0.40" stroke-width="10.5" stroke-linecap="round" stroke-linejoin="round" filter="url(#ib2)"/>
<path d="M575.7,568.3 l0.01,0" fill="none" stroke="#fff" stroke-opacity="0.80" stroke-width="4.7" stroke-linecap="round" stroke-linejoin="round" filter="url(#ib)"/>
<path d="M624.5,579.6 L625.6,586.1 L629.2,587.9 L619.7,594.5 L615,604.6 L617.3,606.3" fill="none" stroke="#fff" stroke-opacity="0.29" stroke-width="11.05" stroke-linecap="round" stroke-linejoin="round" filter="url(#ib2)"/>
<path d="M624.5,579.6 L625.6,586.1 L629.2,587.9 L619.7,594.5 L615,604.6 L617.3,606.3" fill="none" stroke="#fff" stroke-opacity="0.58" stroke-width="5.1" stroke-linecap="round" stroke-linejoin="round" filter="url(#ib)"/>
<circle cx="624.5" cy="579.6" r="4.5" fill="url(#iM)"/>
<circle cx="625.6" cy="586.1" r="4.5" fill="url(#iM)"/>
<circle cx="629.2" cy="587.9" r="4.5" fill="url(#iM)"/>
<circle cx="619.7" cy="594.5" r="4.5" fill="url(#iM)"/>
<circle cx="615" cy="604.6" r="4.5" fill="url(#iM)"/>
<circle cx="617.3" cy="606.3" r="4.5" fill="url(#iM)"/>
<path d="M619.7,594.5 l0.01,0" fill="none" stroke="#fff" stroke-opacity="0.40" stroke-width="10.5" stroke-linecap="round" stroke-linejoin="round" filter="url(#ib2)"/>
<path d="M619.7,594.5 l0.01,0" fill="none" stroke="#fff" stroke-opacity="0.80" stroke-width="4.7" stroke-linecap="round" stroke-linejoin="round" filter="url(#ib)"/>
<path d="M627,587 l0.01,0" fill="none" stroke="#fff" stroke-opacity="0.40" stroke-width="10.5" stroke-linecap="round" stroke-linejoin="round" filter="url(#ib2)"/>
<path d="M627,587 l0.01,0" fill="none" stroke="#fff" stroke-opacity="0.80" stroke-width="4.7" stroke-linecap="round" stroke-linejoin="round" filter="url(#ib)"/>
<path d="M590,587 l0.01,0" fill="none" stroke="#fff" stroke-opacity="0.22" stroke-width="8.8" stroke-linecap="round" stroke-linejoin="round" filter="url(#ib2)"/>
</g></g>
<rect x="541.1999999999999" y="518.6999999999999" width="111.7" height="110.60000000000001" fill="none" stroke="#1f3dff" stroke-width="1.8"/>
<text x="0" y="0" font-size="13.5" fill="#fff" text-anchor="end" font-weight="normal" transform="translate(652.5,536.5) scale(1,1.04)" >Refuel 1min</text>
<line x1="607" y1="627.5" x2="652.5" y2="627.5" stroke="#fff" stroke-width="1.5" />
<text x="0" y="0" font-size="13.5" fill="#fff" text-anchor="middle" font-weight="normal" transform="translate(634.5,622.8) scale(1,1.04)" >5 µm</text></svg>
</body></html>
